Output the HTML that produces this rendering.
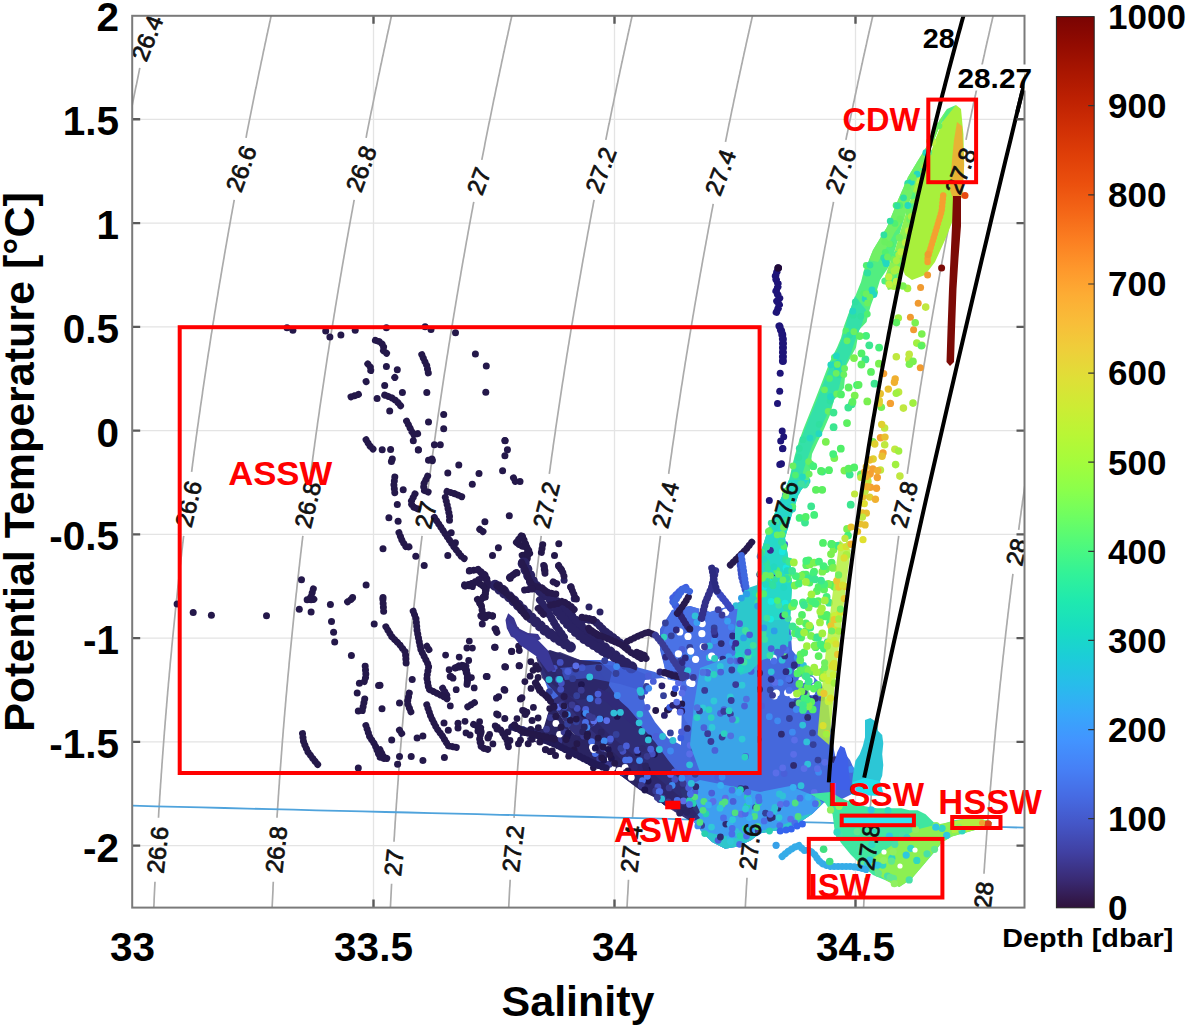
<!DOCTYPE html><html><head><meta charset="utf-8"><style>html,body{margin:0;padding:0;background:#fff;overflow:hidden}svg{display:block}text{font-family:"Liberation Sans",sans-serif}</style></head><body>
<svg width="1187" height="1026" viewBox="0 0 1187 1026">
<defs><clipPath id="pc"><rect x="132.2" y="15.8" width="892.3" height="891.8"/></clipPath>
<linearGradient id="cb" x1="0" y1="0" x2="0" y2="1"><stop offset="0.000" stop-color="#7a0403"/><stop offset="0.031" stop-color="#920b01"/><stop offset="0.062" stop-color="#a91601"/><stop offset="0.094" stop-color="#be2102"/><stop offset="0.125" stop-color="#d02f05"/><stop offset="0.156" stop-color="#df3f08"/><stop offset="0.188" stop-color="#eb500e"/><stop offset="0.219" stop-color="#f46617"/><stop offset="0.250" stop-color="#fb7e21"/><stop offset="0.281" stop-color="#fe962b"/><stop offset="0.312" stop-color="#fdac34"/><stop offset="0.344" stop-color="#f8be39"/><stop offset="0.375" stop-color="#eecf3a"/><stop offset="0.406" stop-color="#dfdf37"/><stop offset="0.438" stop-color="#cdec34"/><stop offset="0.469" stop-color="#b9f635"/><stop offset="0.500" stop-color="#a4fc3c"/><stop offset="0.531" stop-color="#8bff4b"/><stop offset="0.562" stop-color="#6dfe62"/><stop offset="0.594" stop-color="#4ef97d"/><stop offset="0.625" stop-color="#32f298"/><stop offset="0.656" stop-color="#1fe9af"/><stop offset="0.688" stop-color="#18ddc2"/><stop offset="0.719" stop-color="#1ccdd8"/><stop offset="0.750" stop-color="#28bceb"/><stop offset="0.781" stop-color="#37a8fa"/><stop offset="0.812" stop-color="#4294ff"/><stop offset="0.844" stop-color="#4680f6"/><stop offset="0.875" stop-color="#466be3"/><stop offset="0.906" stop-color="#4456c7"/><stop offset="0.938" stop-color="#4040a2"/><stop offset="0.969" stop-color="#392a73"/><stop offset="1.000" stop-color="#30123b"/></linearGradient></defs>
<rect width="1187" height="1026" fill="#fff"/>
<path d="M373.5 15.8V907.6M614.5 15.8V907.6M855.5 15.8V907.6M132.2 119.3H1024.5M132.2 223.1H1024.5M132.2 326.9H1024.5M132.2 430.6H1024.5M132.2 534.4H1024.5M132.2 638.1H1024.5M132.2 741.9H1024.5M132.2 845.6H1024.5" stroke="#e4e4e4" stroke-width="1.3" fill="none"/>
<g clip-path="url(#pc)"><path d="M139.8 67.8L139.4 69.8L139.0 71.8L138.6 73.8L138.2 75.8L137.8 77.8L137.4 79.8L137.0 81.8L136.6 83.8L136.2 85.8L135.7 87.8L135.3 89.8L134.9 91.8L134.5 93.8L134.1 95.8L133.7 97.8L133.3 99.8L132.9 101.8L132.5 103.8L132.1 105.8L131.7 107.8L131.3 109.8L130.9 111.8L130.6 113.8L130.2 115.8L129.8 117.8L129.4 119.8L129.0 121.8L128.6 123.8L128.2 125.8L127.8 127.8L127.4 129.8L127.0 131.8L126.6 133.8L126.3 135.8L125.9 137.8L125.5 139.8L125.1 141.8L124.7 143.8L124.3 145.8L124.0 147.8L123.6 149.8L123.2 151.8L122.8 153.8L122.4 155.8L122.1 157.8L121.7 159.8L121.3 161.8L120.9 163.8L120.5 165.8L120.2 167.8L119.8 169.8L119.4 171.8L119.1 173.8L118.7 175.8L118.3 177.8L117.9 179.8L117.6 181.8L117.2 183.8L116.8 185.8L116.5 187.8L116.1 189.8L115.7 191.8L115.4 193.8L115.0 195.8L114.6 197.8L114.3 199.8L113.9 201.8L113.6 203.8L113.2 205.8L112.8 207.8L112.5 209.8L112.1 211.8L111.8 213.8L111.4 215.8L111.1 217.8L110.7 219.8L110.4 221.8L110.0 223.8L109.6 225.8L109.3 227.8L108.9 229.8L108.6 231.8L108.2 233.8L107.9 235.8L107.6 237.8L107.2 239.8L106.9 241.8L106.5 243.8L106.2 245.8L105.8 247.8L105.5 249.8L105.1 251.8L104.8 253.8L104.5 255.8L104.1 257.8L103.8 259.8L103.4 261.8L103.1 263.8L102.8 265.8L102.4 267.8L102.1 269.8L101.8 271.8L101.4 273.8L101.1 275.8L100.8 277.8L100.4 279.8L100.1 281.8L99.8 283.8L99.4 285.8L99.1 287.8L98.8 289.8L98.5 291.8L98.1 293.8L97.8 295.8L97.5 297.8L97.2 299.8L96.8 301.8L96.5 303.8L96.2 305.8L95.9 307.8L95.6 309.8L95.2 311.8L94.9 313.8L94.6 315.8L94.3 317.8L94.0 319.8L93.7 321.8L93.3 323.8L93.0 325.8L92.7 327.8L92.4 329.8L92.1 331.8L91.8 333.8L91.5 335.8L91.2 337.8L90.9 339.8L90.5 341.8L90.2 343.8L89.9 345.8L89.6 347.8L89.3 349.8L89.0 351.8L88.7 353.8L88.4 355.8L88.1 357.8L87.8 359.8L87.5 361.8L87.2 363.8L86.9 365.8L86.6 367.8L86.3 369.8L86.0 371.8L85.7 373.8L85.4 375.8L85.1 377.8L84.9 379.8L84.6 381.8L84.3 383.8L84.0 385.8L83.7 387.8L83.4 389.8L83.1 391.8L82.8 393.8L82.5 395.8L82.3 397.8L82.0 399.8L81.7 401.8L81.4 403.8L81.1 405.8L80.8 407.8L80.6 409.8L80.3 411.8L80.0 413.8L79.7 415.8L79.4 417.8L79.2 419.8L78.9 421.8L78.6 423.8L78.3 425.8L78.1 427.8L77.8 429.8L77.5 431.8L77.3 433.8L77.0 435.8L76.7 437.8L76.4 439.8L76.2 441.8L75.9 443.8L75.6 445.8L75.4 447.8L75.1 449.8L74.8 451.8L74.6 453.8L74.3 455.8L74.1 457.8L73.8 459.8L73.5 461.8L73.3 463.8L73.0 465.8L72.8 467.8L72.5 469.8L72.2 471.8L72.0 473.8L71.7 475.8L71.5 477.8L71.2 479.8L71.0 481.8L70.7 483.8L70.5 485.8L70.2 487.8L70.0 489.8L69.7 491.8L69.5 493.8L69.2 495.8L69.0 497.8L68.7 499.8L68.5 501.8L68.3 503.8L68.0 505.8L67.8 507.8L67.5 509.8L67.3 511.8L67.0 513.8L66.8 515.8L66.6 517.8L66.3 519.8L66.1 521.8L65.9 523.8L65.6 525.8L65.4 527.8L65.2 529.8L64.9 531.8L64.7 533.8L64.5 535.8L64.2 537.8L64.0 539.8L63.8 541.8L63.5 543.8L63.3 545.8L63.1 547.8L62.9 549.8L62.6 551.8L62.4 553.8L62.2 555.8L62.0 557.8L61.8 559.8L61.5 561.8L61.3 563.8L61.1 565.8L60.9 567.8L60.7 569.8L60.4 571.8L60.2 573.8L60.0 575.8L59.8 577.8L59.6 579.8L59.4 581.8L59.2 583.8L58.9 585.8L58.7 587.8L58.5 589.8L58.3 591.8L58.1 593.8L57.9 595.8L57.7 597.8L57.5 599.8L57.3 601.8L57.1 603.8L56.9 605.8L56.7 607.8L56.5 609.8L56.3 611.8L56.1 613.8L55.9 615.8L55.7 617.8L55.5 619.8L55.3 621.8L55.1 623.8L54.9 625.8L54.7 627.8L54.5 629.8L54.3 631.8L54.1 633.8L53.9 635.8L53.7 637.8L53.6 639.8L53.4 641.8L53.2 643.8L53.0 645.8L52.8 647.8L52.6 649.8L52.4 651.8L52.2 653.8L52.1 655.8L51.9 657.8L51.7 659.8L51.5 661.8L51.3 663.8L51.2 665.8L51.0 667.8L50.8 669.8L50.6 671.8L50.5 673.8L50.3 675.8L50.1 677.8L49.9 679.8L49.8 681.8L49.6 683.8L49.4 685.8L49.2 687.8L49.1 689.8L48.9 691.8L48.7 693.8L48.6 695.8L48.4 697.8L48.2 699.8L48.1 701.8L47.9 703.8L47.7 705.8L47.6 707.8L47.4 709.8L47.3 711.8L47.1 713.8L46.9 715.8L46.8 717.8L46.6 719.8L46.5 721.8L46.3 723.8L46.2 725.8L46.0 727.8L45.9 729.8L45.7 731.8L45.6 733.8L45.4 735.8L45.3 737.8L45.1 739.8L45.0 741.8L44.8 743.8L44.7 745.8L44.5 747.8L44.4 749.8L44.2 751.8L44.1 753.8L43.9 755.8L43.8 757.8L43.7 759.8L43.5 761.8L43.4 763.8L43.2 765.8L43.1 767.8L43.0 769.8L42.8 771.8L42.7 773.8L42.6 775.8L42.4 777.8L42.3 779.8L42.2 781.8L42.0 783.8L41.9 785.8L41.8 787.8L41.6 789.8L41.5 791.8L41.4 793.8L41.3 795.8L41.1 797.8L41.0 799.8L40.9 801.8L40.8 803.8L40.6 805.8L40.5 807.8L40.4 809.8L40.3 811.8L40.2 813.8L40.0 815.8L39.9 817.8L39.8 819.8L39.7 821.8L39.6 823.8L39.5 825.8L39.3 827.8L39.2 829.8L39.1 831.8L39.0 833.8L38.9 835.8L38.8 837.8L38.7 839.8L38.6 841.8L38.5 843.8L38.4 845.8L38.3 847.8L38.1 849.8L38.0 851.8L37.9 853.8L37.8 855.8L37.7 857.8L37.6 859.8L37.5 861.8L37.4 863.8L37.3 865.8L37.2 867.8L37.2 869.8L37.1 871.8L37.0 873.8L36.9 875.8L36.8 877.8L36.7 879.8L36.6 881.8L36.5 883.8L36.4 885.8L36.3 887.8L36.2 889.8L36.1 891.8L36.1 893.8L36.0 895.8L35.9 897.8L35.8 899.8L35.7 901.8L35.6 903.8L35.6 905.8L35.5 907.8M271.6 13.8L271.2 15.8L270.7 17.8L270.3 19.8L269.9 21.8L269.4 23.8L269.0 25.8L268.6 27.8L268.1 29.8L267.7 31.8L267.3 33.8L266.8 35.8L266.4 37.8L266.0 39.8L265.6 41.8L265.1 43.8L264.7 45.8L264.3 47.8L263.9 49.8L263.4 51.8L263.0 53.8L262.6 55.8L262.2 57.8L261.8 59.8L261.3 61.8L260.9 63.8L260.5 65.8L260.1 67.8L259.7 69.8L259.2 71.8L258.8 73.8L258.4 75.8L258.0 77.8L257.6 79.8L257.2 81.8L256.8 83.8L256.4 85.8L256.0 87.8L255.5 89.8L255.1 91.8L254.7 93.8L254.3 95.8L253.9 97.8L253.5 99.8L253.1 101.8L252.7 103.8L252.3 105.8L251.9 107.8L251.5 109.8L251.1 111.8L250.7 113.8L250.3 115.8L249.9 117.8L249.5 119.8L249.1 121.8L248.7 123.8L248.3 125.8L247.9 127.8L247.5 129.8L247.1 131.8L246.7 133.8L246.4 135.8L246.0 137.8M234.2 199.8L233.9 201.8L233.5 203.8L233.2 205.8L232.8 207.8L232.4 209.8L232.1 211.8L231.7 213.8L231.3 215.8L231.0 217.8L230.6 219.8L230.3 221.8L229.9 223.8L229.6 225.8L229.2 227.8L228.8 229.8L228.5 231.8L228.1 233.8L227.8 235.8L227.4 237.8L227.1 239.8L226.7 241.8L226.4 243.8L226.0 245.8L225.7 247.8L225.3 249.8L225.0 251.8L224.6 253.8L224.3 255.8L224.0 257.8L223.6 259.8L223.3 261.8L222.9 263.8L222.6 265.8L222.2 267.8L221.9 269.8L221.6 271.8L221.2 273.8L220.9 275.8L220.6 277.8L220.2 279.8L219.9 281.8L219.5 283.8L219.2 285.8L218.9 287.8L218.5 289.8L218.2 291.8L217.9 293.8L217.6 295.8L217.2 297.8L216.9 299.8L216.6 301.8L216.2 303.8L215.9 305.8L215.6 307.8L215.3 309.8L214.9 311.8L214.6 313.8L214.3 315.8L214.0 317.8L213.7 319.8L213.3 321.8L213.0 323.8L212.7 325.8L212.4 327.8L212.1 329.8L211.8 331.8L211.4 333.8L211.1 335.8L210.8 337.8L210.5 339.8L210.2 341.8L209.9 343.8L209.6 345.8L209.3 347.8L209.0 349.8L208.6 351.8L208.3 353.8L208.0 355.8L207.7 357.8L207.4 359.8L207.1 361.8L206.8 363.8L206.5 365.8L206.2 367.8L205.9 369.8L205.6 371.8L205.3 373.8L205.0 375.8L204.7 377.8L204.4 379.8L204.1 381.8L203.8 383.8L203.5 385.8L203.2 387.8L202.9 389.8L202.6 391.8L202.4 393.8L202.1 395.8L201.8 397.8L201.5 399.8L201.2 401.8L200.9 403.8L200.6 405.8L200.3 407.8L200.1 409.8L199.8 411.8L199.5 413.8L199.2 415.8L198.9 417.8L198.6 419.8L198.4 421.8L198.1 423.8L197.8 425.8L197.5 427.8L197.2 429.8L197.0 431.8L196.7 433.8L196.4 435.8L196.1 437.8L195.9 439.8L195.6 441.8L195.3 443.8L195.1 445.8L194.8 447.8L194.5 449.8L194.2 451.8L194.0 453.8L193.7 455.8L193.4 457.8L193.2 459.8L192.9 461.8L192.6 463.8L192.4 465.8L192.1 467.8L191.9 469.8L191.6 471.8M183.7 535.8L183.4 537.8L183.2 539.8L183.0 541.8L182.7 543.8L182.5 545.8L182.3 547.8L182.0 549.8L181.8 551.8L181.6 553.8L181.4 555.8L181.1 557.8L180.9 559.8L180.7 561.8L180.5 563.8L180.2 565.8L180.0 567.8L179.8 569.8L179.6 571.8L179.3 573.8L179.1 575.8L178.9 577.8L178.7 579.8L178.5 581.8L178.3 583.8L178.0 585.8L177.8 587.8L177.6 589.8L177.4 591.8L177.2 593.8L177.0 595.8L176.8 597.8L176.5 599.8L176.3 601.8L176.1 603.8L175.9 605.8L175.7 607.8L175.5 609.8L175.3 611.8L175.1 613.8L174.9 615.8L174.7 617.8L174.5 619.8L174.3 621.8L174.1 623.8L173.9 625.8L173.7 627.8L173.5 629.8L173.3 631.8L173.1 633.8L172.9 635.8L172.7 637.8L172.5 639.8L172.3 641.8L172.1 643.8L171.9 645.8L171.7 647.8L171.6 649.8L171.4 651.8L171.2 653.8L171.0 655.8L170.8 657.8L170.6 659.8L170.4 661.8L170.2 663.8L170.1 665.8L169.9 667.8L169.7 669.8L169.5 671.8L169.3 673.8L169.2 675.8L169.0 677.8L168.8 679.8L168.6 681.8L168.4 683.8L168.3 685.8L168.1 687.8L167.9 689.8L167.7 691.8L167.6 693.8L167.4 695.8L167.2 697.8L167.1 699.8L166.9 701.8L166.7 703.8L166.6 705.8L166.4 707.8L166.2 709.8L166.1 711.8L165.9 713.8L165.7 715.8L165.6 717.8L165.4 719.8L165.2 721.8L165.1 723.8L164.9 725.8L164.8 727.8L164.6 729.8L164.4 731.8L164.3 733.8L164.1 735.8L164.0 737.8L163.8 739.8L163.7 741.8L163.5 743.8L163.4 745.8L163.2 747.8L163.1 749.8L162.9 751.8L162.8 753.8L162.6 755.8L162.5 757.8L162.3 759.8L162.2 761.8L162.0 763.8L161.9 765.8L161.8 767.8L161.6 769.8L161.5 771.8L161.3 773.8L161.2 775.8L161.1 777.8L160.9 779.8L160.8 781.8L160.6 783.8L160.5 785.8L160.4 787.8L160.2 789.8L160.1 791.8L160.0 793.8L159.8 795.8L159.7 797.8L159.6 799.8L159.5 801.8L159.3 803.8L159.2 805.8L159.1 807.8L158.9 809.8L158.8 811.8L158.7 813.8L158.6 815.8L158.5 817.8M155.0 881.8L154.9 883.8L154.8 885.8L154.7 887.8L154.6 889.8L154.5 891.8L154.4 893.8L154.3 895.8L154.2 897.8L154.1 899.8L154.1 901.8L154.0 903.8L153.9 905.8L153.8 907.8M392.0 13.8L391.5 15.8L391.1 17.8L390.6 19.8L390.2 21.8L389.8 23.8L389.3 25.8L388.9 27.8L388.5 29.8L388.0 31.8L387.6 33.8L387.1 35.8L386.7 37.8L386.3 39.8L385.9 41.8L385.4 43.8L385.0 45.8L384.6 47.8L384.1 49.8L383.7 51.8L383.3 53.8L382.9 55.8L382.4 57.8L382.0 59.8L381.6 61.8L381.2 63.8L380.7 65.8L380.3 67.8L379.9 69.8L379.5 71.8L379.1 73.8L378.6 75.8L378.2 77.8L377.8 79.8L377.4 81.8L377.0 83.8L376.6 85.8L376.2 87.8L375.7 89.8L375.3 91.8L374.9 93.8L374.5 95.8L374.1 97.8L373.7 99.8L373.3 101.8L372.9 103.8L372.5 105.8L372.1 107.8L371.7 109.8L371.2 111.8L370.8 113.8L370.4 115.8L370.0 117.8L369.6 119.8L369.2 121.8L368.8 123.8L368.4 125.8L368.0 127.8L367.6 129.8L367.2 131.8L366.8 133.8L366.5 135.8L366.1 137.8M354.2 199.8L353.8 201.8L353.5 203.8L353.1 205.8L352.7 207.8L352.4 209.8L352.0 211.8L351.6 213.8L351.3 215.8L350.9 217.8L350.5 219.8L350.2 221.8L349.8 223.8L349.5 225.8L349.1 227.8L348.7 229.8L348.4 231.8L348.0 233.8L347.7 235.8L347.3 237.8L346.9 239.8L346.6 241.8L346.2 243.8L345.9 245.8L345.5 247.8L345.2 249.8L344.8 251.8L344.5 253.8L344.1 255.8L343.8 257.8L343.4 259.8L343.1 261.8L342.7 263.8L342.4 265.8L342.0 267.8L341.7 269.8L341.4 271.8L341.0 273.8L340.7 275.8L340.3 277.8L340.0 279.8L339.7 281.8L339.3 283.8L339.0 285.8L338.6 287.8L338.3 289.8L338.0 291.8L337.6 293.8L337.3 295.8L337.0 297.8L336.6 299.8L336.3 301.8L336.0 303.8L335.6 305.8L335.3 307.8L335.0 309.8L334.7 311.8L334.3 313.8L334.0 315.8L333.7 317.8L333.4 319.8L333.0 321.8L332.7 323.8L332.4 325.8L332.1 327.8L331.7 329.8L331.4 331.8L331.1 333.8L330.8 335.8L330.5 337.8L330.1 339.8L329.8 341.8L329.5 343.8L329.2 345.8L328.9 347.8L328.6 349.8L328.3 351.8L327.9 353.8L327.6 355.8L327.3 357.8L327.0 359.8L326.7 361.8L326.4 363.8L326.1 365.8L325.8 367.8L325.5 369.8L325.2 371.8L324.9 373.8L324.6 375.8L324.3 377.8L324.0 379.8L323.7 381.8L323.4 383.8L323.1 385.8L322.8 387.8L322.5 389.8L322.2 391.8L321.9 393.8L321.6 395.8L321.3 397.8L321.0 399.8L320.7 401.8L320.4 403.8L320.1 405.8L319.8 407.8L319.5 409.8L319.3 411.8L319.0 413.8L318.7 415.8L318.4 417.8L318.1 419.8L317.8 421.8L317.5 423.8L317.3 425.8L317.0 427.8L316.7 429.8L316.4 431.8L316.1 433.8L315.8 435.8L315.6 437.8L315.3 439.8L315.0 441.8L314.7 443.8L314.5 445.8L314.2 447.8L313.9 449.8L313.6 451.8L313.4 453.8L313.1 455.8L312.8 457.8L312.6 459.8L312.3 461.8L312.0 463.8L311.7 465.8L311.5 467.8L311.2 469.8L310.9 471.8L310.7 473.8M302.9 535.8L302.6 537.8L302.4 539.8L302.1 541.8L301.9 543.8L301.7 545.8L301.4 547.8L301.2 549.8L301.0 551.8L300.7 553.8L300.5 555.8L300.3 557.8L300.0 559.8L299.8 561.8L299.6 563.8L299.4 565.8L299.1 567.8L298.9 569.8L298.7 571.8L298.5 573.8L298.2 575.8L298.0 577.8L297.8 579.8L297.6 581.8L297.3 583.8L297.1 585.8L296.9 587.8L296.7 589.8L296.5 591.8L296.2 593.8L296.0 595.8L295.8 597.8L295.6 599.8L295.4 601.8L295.2 603.8L295.0 605.8L294.7 607.8L294.5 609.8L294.3 611.8L294.1 613.8L293.9 615.8L293.7 617.8L293.5 619.8L293.3 621.8L293.1 623.8L292.9 625.8L292.7 627.8L292.5 629.8L292.3 631.8L292.1 633.8L291.9 635.8L291.7 637.8L291.5 639.8L291.3 641.8L291.1 643.8L290.9 645.8L290.7 647.8L290.5 649.8L290.3 651.8L290.1 653.8L289.9 655.8L289.7 657.8L289.5 659.8L289.3 661.8L289.1 663.8L289.0 665.8L288.8 667.8L288.6 669.8L288.4 671.8L288.2 673.8L288.0 675.8L287.8 677.8L287.7 679.8L287.5 681.8L287.3 683.8L287.1 685.8L286.9 687.8L286.8 689.8L286.6 691.8L286.4 693.8L286.2 695.8L286.0 697.8L285.9 699.8L285.7 701.8L285.5 703.8L285.4 705.8L285.2 707.8L285.0 709.8L284.8 711.8L284.7 713.8L284.5 715.8L284.3 717.8L284.2 719.8L284.0 721.8L283.8 723.8L283.7 725.8L283.5 727.8L283.3 729.8L283.2 731.8L283.0 733.8L282.9 735.8L282.7 737.8L282.5 739.8L282.4 741.8L282.2 743.8L282.1 745.8L281.9 747.8L281.8 749.8L281.6 751.8L281.5 753.8L281.3 755.8L281.2 757.8L281.0 759.8L280.9 761.8L280.7 763.8L280.6 765.8L280.4 767.8L280.3 769.8L280.1 771.8L280.0 773.8L279.8 775.8L279.7 777.8L279.5 779.8L279.4 781.8L279.3 783.8L279.1 785.8L279.0 787.8L278.8 789.8L278.7 791.8L278.6 793.8L278.4 795.8L278.3 797.8L278.2 799.8L278.0 801.8L277.9 803.8L277.8 805.8L277.6 807.8L277.5 809.8L277.4 811.8L277.2 813.8L277.1 815.8L277.0 817.8M273.3 881.8L273.2 883.8L273.1 885.8L273.0 887.8L273.0 889.8L272.9 891.8L272.8 893.8L272.7 895.8L272.6 897.8L272.5 899.8L272.4 901.8L272.3 903.8L272.2 905.8L272.1 907.8M512.3 13.8L511.9 15.8L511.4 17.8L511.0 19.8L510.5 21.8L510.1 23.8L509.6 25.8L509.2 27.8L508.8 29.8L508.3 31.8L507.9 33.8L507.5 35.8L507.0 37.8L506.6 39.8L506.1 41.8L505.7 43.8L505.3 45.8L504.8 47.8L504.4 49.8L504.0 51.8L503.5 53.8L503.1 55.8L502.7 57.8L502.3 59.8L501.8 61.8L501.4 63.8L501.0 65.8L500.6 67.8L500.1 69.8L499.7 71.8L499.3 73.8L498.9 75.8L498.4 77.8L498.0 79.8L497.6 81.8L497.2 83.8L496.8 85.8L496.3 87.8L495.9 89.8L495.5 91.8L495.1 93.8L494.7 95.8L494.3 97.8L493.8 99.8L493.4 101.8L493.0 103.8L492.6 105.8L492.2 107.8L491.8 109.8L491.4 111.8L491.0 113.8L490.6 115.8L490.2 117.8L489.8 119.8L489.4 121.8L488.9 123.8L488.5 125.8L488.1 127.8L487.7 129.8L487.3 131.8L486.9 133.8L486.5 135.8L486.1 137.8L485.7 139.8L485.3 141.8L484.9 143.8L484.6 145.8L484.2 147.8L483.8 149.8L483.4 151.8L483.0 153.8L482.6 155.8L482.2 157.8L481.8 159.8M473.8 201.8L473.4 203.8L473.0 205.8L472.7 207.8L472.3 209.8L471.9 211.8L471.5 213.8L471.2 215.8L470.8 217.8L470.4 219.8L470.1 221.8L469.7 223.8L469.3 225.8L469.0 227.8L468.6 229.8L468.2 231.8L467.9 233.8L467.5 235.8L467.2 237.8L466.8 239.8L466.4 241.8L466.1 243.8L465.7 245.8L465.4 247.8L465.0 249.8L464.7 251.8L464.3 253.8L464.0 255.8L463.6 257.8L463.2 259.8L462.9 261.8L462.5 263.8L462.2 265.8L461.8 267.8L461.5 269.8L461.1 271.8L460.8 273.8L460.5 275.8L460.1 277.8L459.8 279.8L459.4 281.8L459.1 283.8L458.7 285.8L458.4 287.8L458.1 289.8L457.7 291.8L457.4 293.8L457.0 295.8L456.7 297.8L456.4 299.8L456.0 301.8L455.7 303.8L455.4 305.8L455.0 307.8L454.7 309.8L454.4 311.8L454.0 313.8L453.7 315.8L453.4 317.8L453.0 319.8L452.7 321.8L452.4 323.8L452.0 325.8L451.7 327.8L451.4 329.8L451.1 331.8L450.7 333.8L450.4 335.8L450.1 337.8L449.8 339.8L449.5 341.8L449.1 343.8L448.8 345.8L448.5 347.8L448.2 349.8L447.9 351.8L447.6 353.8L447.2 355.8L446.9 357.8L446.6 359.8L446.3 361.8L446.0 363.8L445.7 365.8L445.4 367.8L445.1 369.8L444.7 371.8L444.4 373.8L444.1 375.8L443.8 377.8L443.5 379.8L443.2 381.8L442.9 383.8L442.6 385.8L442.3 387.8L442.0 389.8L441.7 391.8L441.4 393.8L441.1 395.8L440.8 397.8L440.5 399.8L440.2 401.8L439.9 403.8L439.6 405.8L439.3 407.8L439.0 409.8L438.7 411.8L438.4 413.8L438.1 415.8L437.8 417.8L437.6 419.8L437.3 421.8L437.0 423.8L436.7 425.8L436.4 427.8L436.1 429.8L435.8 431.8L435.5 433.8L435.3 435.8L435.0 437.8L434.7 439.8L434.4 441.8L434.1 443.8L433.9 445.8L433.6 447.8L433.3 449.8L433.0 451.8L432.7 453.8L432.5 455.8L432.2 457.8L431.9 459.8L431.6 461.8L431.4 463.8L431.1 465.8L430.8 467.8L430.6 469.8L430.3 471.8L430.0 473.8L429.7 475.8L429.5 477.8L429.2 479.8L428.9 481.8L428.7 483.8L428.4 485.8L428.1 487.8L427.9 489.8L427.6 491.8L427.4 493.8M422.1 535.8L421.8 537.8L421.6 539.8L421.3 541.8L421.1 543.8L420.8 545.8L420.6 547.8L420.4 549.8L420.1 551.8L419.9 553.8L419.6 555.8L419.4 557.8L419.2 559.8L418.9 561.8L418.7 563.8L418.5 565.8L418.2 567.8L418.0 569.8L417.8 571.8L417.6 573.8L417.3 575.8L417.1 577.8L416.9 579.8L416.6 581.8L416.4 583.8L416.2 585.8L416.0 587.8L415.7 589.8L415.5 591.8L415.3 593.8L415.1 595.8L414.9 597.8L414.6 599.8L414.4 601.8L414.2 603.8L414.0 605.8L413.8 607.8L413.6 609.8L413.3 611.8L413.1 613.8L412.9 615.8L412.7 617.8L412.5 619.8L412.3 621.8L412.1 623.8L411.9 625.8L411.6 627.8L411.4 629.8L411.2 631.8L411.0 633.8L410.8 635.8L410.6 637.8L410.4 639.8L410.2 641.8L410.0 643.8L409.8 645.8L409.6 647.8L409.4 649.8L409.2 651.8L409.0 653.8L408.8 655.8L408.6 657.8L408.4 659.8L408.2 661.8L408.0 663.8L407.8 665.8L407.6 667.8L407.5 669.8L407.3 671.8L407.1 673.8L406.9 675.8L406.7 677.8L406.5 679.8L406.3 681.8L406.1 683.8L406.0 685.8L405.8 687.8L405.6 689.8L405.4 691.8L405.2 693.8L405.0 695.8L404.9 697.8L404.7 699.8L404.5 701.8L404.3 703.8L404.1 705.8L404.0 707.8L403.8 709.8L403.6 711.8L403.4 713.8L403.3 715.8L403.1 717.8L402.9 719.8L402.8 721.8L402.6 723.8L402.4 725.8L402.2 727.8L402.1 729.8L401.9 731.8L401.7 733.8L401.6 735.8L401.4 737.8L401.3 739.8L401.1 741.8L400.9 743.8L400.8 745.8L400.6 747.8L400.4 749.8L400.3 751.8L400.1 753.8L400.0 755.8L399.8 757.8L399.7 759.8L399.5 761.8L399.4 763.8L399.2 765.8L399.0 767.8L398.9 769.8L398.7 771.8L398.6 773.8L398.4 775.8L398.3 777.8L398.2 779.8L398.0 781.8L397.9 783.8L397.7 785.8L397.6 787.8L397.4 789.8L397.3 791.8L397.1 793.8L397.0 795.8L396.9 797.8L396.7 799.8L396.6 801.8L396.4 803.8L396.3 805.8L396.2 807.8L396.0 809.8L395.9 811.8L395.8 813.8L395.6 815.8L395.5 817.8L395.4 819.8L395.2 821.8L395.1 823.8L395.0 825.8L394.9 827.8L394.7 829.8L394.6 831.8L394.5 833.8L394.4 835.8L394.2 837.8L394.1 839.8L394.0 841.8M391.6 883.8L391.5 885.8L391.4 887.8L391.3 889.8L391.2 891.8L391.1 893.8L391.0 895.8L390.9 897.8L390.8 899.8L390.7 901.8L390.6 903.8L390.5 905.8L390.4 907.8M632.6 13.8L632.2 15.8L631.7 17.8L631.3 19.8L630.8 21.8L630.4 23.8L630.0 25.8L629.5 27.8L629.1 29.8L628.6 31.8L628.2 33.8L627.7 35.8L627.3 37.8L626.9 39.8L626.4 41.8L626.0 43.8L625.5 45.8L625.1 47.8L624.7 49.8L624.2 51.8L623.8 53.8L623.4 55.8L622.9 57.8L622.5 59.8L622.1 61.8L621.6 63.8L621.2 65.8L620.8 67.8L620.3 69.8L619.9 71.8L619.5 73.8L619.1 75.8L618.6 77.8L618.2 79.8L617.8 81.8L617.4 83.8L616.9 85.8L616.5 87.8L616.1 89.8L615.7 91.8L615.3 93.8L614.8 95.8L614.4 97.8L614.0 99.8L613.6 101.8L613.2 103.8L612.8 105.8L612.3 107.8L611.9 109.8L611.5 111.8L611.1 113.8L610.7 115.8L610.3 117.8L609.9 119.8L609.5 121.8L609.1 123.8L608.6 125.8L608.2 127.8L607.8 129.8L607.4 131.8L607.0 133.8L606.6 135.8L606.2 137.8L605.8 139.8M594.1 199.8L593.7 201.8L593.3 203.8L593.0 205.8L592.6 207.8L592.2 209.8L591.8 211.8L591.4 213.8L591.1 215.8L590.7 217.8L590.3 219.8L590.0 221.8L589.6 223.8L589.2 225.8L588.9 227.8L588.5 229.8L588.1 231.8L587.7 233.8L587.4 235.8L587.0 237.8L586.7 239.8L586.3 241.8L585.9 243.8L585.6 245.8L585.2 247.8L584.8 249.8L584.5 251.8L584.1 253.8L583.8 255.8L583.4 257.8L583.0 259.8L582.7 261.8L582.3 263.8L582.0 265.8L581.6 267.8L581.3 269.8L580.9 271.8L580.6 273.8L580.2 275.8L579.9 277.8L579.5 279.8L579.2 281.8L578.8 283.8L578.5 285.8L578.1 287.8L577.8 289.8L577.4 291.8L577.1 293.8L576.8 295.8L576.4 297.8L576.1 299.8L575.7 301.8L575.4 303.8L575.1 305.8L574.7 307.8L574.4 309.8L574.0 311.8L573.7 313.8L573.4 315.8L573.0 317.8L572.7 319.8L572.4 321.8L572.0 323.8L571.7 325.8L571.4 327.8L571.0 329.8L570.7 331.8L570.4 333.8L570.1 335.8L569.7 337.8L569.4 339.8L569.1 341.8L568.8 343.8L568.4 345.8L568.1 347.8L567.8 349.8L567.5 351.8L567.1 353.8L566.8 355.8L566.5 357.8L566.2 359.8L565.9 361.8L565.6 363.8L565.2 365.8L564.9 367.8L564.6 369.8L564.3 371.8L564.0 373.8L563.7 375.8L563.4 377.8L563.1 379.8L562.7 381.8L562.4 383.8L562.1 385.8L561.8 387.8L561.5 389.8L561.2 391.8L560.9 393.8L560.6 395.8L560.3 397.8L560.0 399.8L559.7 401.8L559.4 403.8L559.1 405.8L558.8 407.8L558.5 409.8L558.2 411.8L557.9 413.8L557.6 415.8L557.3 417.8L557.0 419.8L556.7 421.8L556.4 423.8L556.1 425.8L555.8 427.8L555.5 429.8L555.3 431.8L555.0 433.8L554.7 435.8L554.4 437.8L554.1 439.8L553.8 441.8L553.5 443.8L553.2 445.8L553.0 447.8L552.7 449.8L552.4 451.8L552.1 453.8L551.8 455.8L551.5 457.8L551.3 459.8L551.0 461.8L550.7 463.8L550.4 465.8L550.2 467.8L549.9 469.8L549.6 471.8L549.3 473.8M541.2 535.8L541.0 537.8L540.7 539.8L540.5 541.8L540.2 543.8L540.0 545.8L539.8 547.8L539.5 549.8L539.3 551.8L539.0 553.8L538.8 555.8L538.5 557.8L538.3 559.8L538.1 561.8L537.8 563.8L537.6 565.8L537.4 567.8L537.1 569.8L536.9 571.8L536.6 573.8L536.4 575.8L536.2 577.8L535.9 579.8L535.7 581.8L535.5 583.8L535.3 585.8L535.0 587.8L534.8 589.8L534.6 591.8L534.3 593.8L534.1 595.8L533.9 597.8L533.7 599.8L533.4 601.8L533.2 603.8L533.0 605.8L532.8 607.8L532.6 609.8L532.3 611.8L532.1 613.8L531.9 615.8L531.7 617.8L531.5 619.8L531.3 621.8L531.0 623.8L530.8 625.8L530.6 627.8L530.4 629.8L530.2 631.8L530.0 633.8L529.8 635.8L529.6 637.8L529.4 639.8L529.1 641.8L528.9 643.8L528.7 645.8L528.5 647.8L528.3 649.8L528.1 651.8L527.9 653.8L527.7 655.8L527.5 657.8L527.3 659.8L527.1 661.8L526.9 663.8L526.7 665.8L526.5 667.8L526.3 669.8L526.1 671.8L525.9 673.8L525.7 675.8L525.5 677.8L525.4 679.8L525.2 681.8L525.0 683.8L524.8 685.8L524.6 687.8L524.4 689.8L524.2 691.8L524.0 693.8L523.8 695.8L523.7 697.8L523.5 699.8L523.3 701.8L523.1 703.8L522.9 705.8L522.7 707.8L522.6 709.8L522.4 711.8L522.2 713.8L522.0 715.8L521.9 717.8L521.7 719.8L521.5 721.8L521.3 723.8L521.2 725.8L521.0 727.8L520.8 729.8L520.6 731.8L520.5 733.8L520.3 735.8L520.1 737.8L520.0 739.8L519.8 741.8L519.6 743.8L519.5 745.8L519.3 747.8L519.1 749.8L519.0 751.8L518.8 753.8L518.6 755.8L518.5 757.8L518.3 759.8L518.2 761.8L518.0 763.8L517.8 765.8L517.7 767.8L517.5 769.8L517.4 771.8L517.2 773.8L517.1 775.8L516.9 777.8L516.8 779.8L516.6 781.8L516.5 783.8L516.3 785.8L516.2 787.8L516.0 789.8L515.9 791.8L515.7 793.8L515.6 795.8L515.4 797.8L515.3 799.8L515.1 801.8L515.0 803.8L514.9 805.8L514.7 807.8L514.6 809.8L514.4 811.8L514.3 813.8L514.2 815.8L514.0 817.8M510.2 879.8L510.1 881.8L510.0 883.8L509.9 885.8L509.7 887.8L509.6 889.8L509.5 891.8L509.4 893.8L509.3 895.8L509.2 897.8L509.1 899.8L509.0 901.8L508.9 903.8L508.8 905.8L508.7 907.8M753.0 13.8L752.5 15.8L752.1 17.8L751.6 19.8L751.2 21.8L750.7 23.8L750.3 25.8L749.8 27.8L749.4 29.8L748.9 31.8L748.5 33.8L748.0 35.8L747.6 37.8L747.1 39.8L746.7 41.8L746.2 43.8L745.8 45.8L745.4 47.8L744.9 49.8L744.5 51.8L744.0 53.8L743.6 55.8L743.2 57.8L742.7 59.8L742.3 61.8L741.9 63.8L741.4 65.8L741.0 67.8L740.6 69.8L740.1 71.8L739.7 73.8L739.3 75.8L738.8 77.8L738.4 79.8L738.0 81.8L737.5 83.8L737.1 85.8L736.7 87.8L736.3 89.8L735.8 91.8L735.4 93.8L735.0 95.8L734.6 97.8L734.1 99.8L733.7 101.8L733.3 103.8L732.9 105.8L732.5 107.8L732.0 109.8L731.6 111.8L731.2 113.8L730.8 115.8L730.4 117.8L730.0 119.8L729.6 121.8L729.1 123.8L728.7 125.8L728.3 127.8L727.9 129.8L727.5 131.8L727.1 133.8L726.7 135.8L726.3 137.8L725.9 139.8L725.5 141.8M713.2 203.8L712.9 205.8L712.5 207.8L712.1 209.8L711.7 211.8L711.3 213.8L711.0 215.8L710.6 217.8L710.2 219.8L709.8 221.8L709.5 223.8L709.1 225.8L708.7 227.8L708.3 229.8L708.0 231.8L707.6 233.8L707.2 235.8L706.9 237.8L706.5 239.8L706.1 241.8L705.8 243.8L705.4 245.8L705.0 247.8L704.7 249.8L704.3 251.8L703.9 253.8L703.6 255.8L703.2 257.8L702.8 259.8L702.5 261.8L702.1 263.8L701.8 265.8L701.4 267.8L701.1 269.8L700.7 271.8L700.3 273.8L700.0 275.8L699.6 277.8L699.3 279.8L698.9 281.8L698.6 283.8L698.2 285.8L697.9 287.8L697.5 289.8L697.2 291.8L696.8 293.8L696.5 295.8L696.1 297.8L695.8 299.8L695.4 301.8L695.1 303.8L694.7 305.8L694.4 307.8L694.1 309.8L693.7 311.8L693.4 313.8L693.0 315.8L692.7 317.8L692.4 319.8L692.0 321.8L691.7 323.8L691.4 325.8L691.0 327.8L690.7 329.8L690.4 331.8L690.0 333.8L689.7 335.8L689.4 337.8L689.0 339.8L688.7 341.8L688.4 343.8L688.0 345.8L687.7 347.8L687.4 349.8L687.1 351.8L686.7 353.8L686.4 355.8L686.1 357.8L685.8 359.8L685.4 361.8L685.1 363.8L684.8 365.8L684.5 367.8L684.2 369.8L683.8 371.8L683.5 373.8L683.2 375.8L682.9 377.8L682.6 379.8L682.3 381.8L682.0 383.8L681.6 385.8L681.3 387.8L681.0 389.8L680.7 391.8L680.4 393.8L680.1 395.8L679.8 397.8L679.5 399.8L679.2 401.8L678.9 403.8L678.6 405.8L678.3 407.8L677.9 409.8L677.6 411.8L677.3 413.8L677.0 415.8L676.7 417.8L676.4 419.8L676.1 421.8L675.8 423.8L675.5 425.8L675.3 427.8L675.0 429.8L674.7 431.8L674.4 433.8L674.1 435.8L673.8 437.8L673.5 439.8L673.2 441.8L672.9 443.8L672.6 445.8L672.3 447.8L672.0 449.8L671.8 451.8L671.5 453.8L671.2 455.8L670.9 457.8L670.6 459.8L670.3 461.8L670.1 463.8L669.8 465.8L669.5 467.8L669.2 469.8L668.9 471.8L668.7 473.8M660.4 535.8L660.2 537.8L659.9 539.8L659.7 541.8L659.4 543.8L659.2 545.8L658.9 547.8L658.7 549.8L658.4 551.8L658.2 553.8L657.9 555.8L657.7 557.8L657.4 559.8L657.2 561.8L656.9 563.8L656.7 565.8L656.5 567.8L656.2 569.8L656.0 571.8L655.7 573.8L655.5 575.8L655.3 577.8L655.0 579.8L654.8 581.8L654.5 583.8L654.3 585.8L654.1 587.8L653.8 589.8L653.6 591.8L653.4 593.8L653.2 595.8L652.9 597.8L652.7 599.8L652.5 601.8L652.2 603.8L652.0 605.8L651.8 607.8L651.6 609.8L651.3 611.8L651.1 613.8L650.9 615.8L650.7 617.8L650.5 619.8L650.2 621.8L650.0 623.8L649.8 625.8L649.6 627.8L649.4 629.8L649.1 631.8L648.9 633.8L648.7 635.8L648.5 637.8L648.3 639.8L648.1 641.8L647.9 643.8L647.7 645.8L647.4 647.8L647.2 649.8L647.0 651.8L646.8 653.8L646.6 655.8L646.4 657.8L646.2 659.8L646.0 661.8L645.8 663.8L645.6 665.8L645.4 667.8L645.2 669.8L645.0 671.8L644.8 673.8L644.6 675.8L644.4 677.8L644.2 679.8L644.0 681.8L643.8 683.8L643.6 685.8L643.4 687.8L643.2 689.8L643.0 691.8L642.8 693.8L642.6 695.8L642.5 697.8L642.3 699.8L642.1 701.8L641.9 703.8L641.7 705.8L641.5 707.8L641.3 709.8L641.1 711.8L641.0 713.8L640.8 715.8L640.6 717.8L640.4 719.8L640.2 721.8L640.1 723.8L639.9 725.8L639.7 727.8L639.5 729.8L639.3 731.8L639.2 733.8L639.0 735.8L638.8 737.8L638.7 739.8L638.5 741.8L638.3 743.8L638.1 745.8L638.0 747.8L637.8 749.8L637.6 751.8L637.5 753.8L637.3 755.8L637.1 757.8L637.0 759.8L636.8 761.8L636.6 763.8L636.5 765.8L636.3 767.8L636.2 769.8L636.0 771.8L635.8 773.8L635.7 775.8L635.5 777.8L635.4 779.8L635.2 781.8L635.0 783.8L634.9 785.8L634.7 787.8L634.6 789.8L634.4 791.8L634.3 793.8L634.1 795.8L634.0 797.8L633.8 799.8L633.7 801.8L633.5 803.8L633.4 805.8L633.2 807.8L633.1 809.8L633.0 811.8L632.8 813.8L632.7 815.8L632.5 817.8M628.5 879.8L628.4 881.8L628.3 883.8L628.2 885.8L628.1 887.8L628.0 889.8L627.9 891.8L627.8 893.8L627.6 895.8L627.5 897.8L627.4 899.8L627.3 901.8L627.2 903.8L627.1 905.8L627.0 907.8M873.3 13.8L872.8 15.8L872.4 17.8L871.9 19.8L871.5 21.8L871.0 23.8L870.6 25.8L870.1 27.8L869.6 29.8L869.2 31.8L868.7 33.8L868.3 35.8L867.8 37.8L867.4 39.8L866.9 41.8L866.5 43.8L866.1 45.8L865.6 47.8L865.2 49.8L864.7 51.8L864.3 53.8L863.8 55.8L863.4 57.8L862.9 59.8L862.5 61.8L862.1 63.8L861.6 65.8L861.2 67.8L860.8 69.8L860.3 71.8L859.9 73.8L859.4 75.8L859.0 77.8L858.6 79.8L858.1 81.8L857.7 83.8L857.3 85.8L856.9 87.8L856.4 89.8L856.0 91.8L855.6 93.8L855.1 95.8L854.7 97.8L854.3 99.8L853.9 101.8L853.4 103.8L853.0 105.8L852.6 107.8L852.2 109.8L851.7 111.8L851.3 113.8L850.9 115.8L850.5 117.8L850.1 119.8L849.6 121.8L849.2 123.8L848.8 125.8L848.4 127.8L848.0 129.8L847.6 131.8L847.2 133.8L846.7 135.8L846.3 137.8L845.9 139.8M833.5 201.8L833.2 203.8L832.8 205.8L832.4 207.8L832.0 209.8L831.6 211.8L831.2 213.8L830.9 215.8L830.5 217.8L830.1 219.8L829.7 221.8L829.3 223.8L829.0 225.8L828.6 227.8L828.2 229.8L827.8 231.8L827.4 233.8L827.1 235.8L826.7 237.8L826.3 239.8L826.0 241.8L825.6 243.8L825.2 245.8L824.8 247.8L824.5 249.8L824.1 251.8L823.7 253.8L823.4 255.8L823.0 257.8L822.6 259.8L822.3 261.8L821.9 263.8L821.5 265.8L821.2 267.8L820.8 269.8L820.5 271.8L820.1 273.8L819.7 275.8L819.4 277.8L819.0 279.8L818.7 281.8L818.3 283.8L817.9 285.8L817.6 287.8L817.2 289.8L816.9 291.8L816.5 293.8L816.2 295.8L815.8 297.8L815.5 299.8L815.1 301.8L814.8 303.8L814.4 305.8L814.1 307.8L813.7 309.8L813.4 311.8L813.1 313.8L812.7 315.8L812.4 317.8L812.0 319.8L811.7 321.8L811.3 323.8L811.0 325.8L810.7 327.8L810.3 329.8L810.0 331.8L809.6 333.8L809.3 335.8L809.0 337.8L808.6 339.8L808.3 341.8L808.0 343.8L807.6 345.8L807.3 347.8L807.0 349.8L806.6 351.8L806.3 353.8L806.0 355.8L805.7 357.8L805.3 359.8L805.0 361.8L804.7 363.8L804.4 365.8L804.0 367.8L803.7 369.8L803.4 371.8L803.1 373.8L802.7 375.8L802.4 377.8L802.1 379.8L801.8 381.8L801.5 383.8L801.1 385.8L800.8 387.8L800.5 389.8L800.2 391.8L799.9 393.8L799.6 395.8L799.3 397.8L798.9 399.8L798.6 401.8L798.3 403.8L798.0 405.8L797.7 407.8L797.4 409.8L797.1 411.8L796.8 413.8L796.5 415.8L796.2 417.8L795.9 419.8L795.6 421.8L795.3 423.8L795.0 425.8L794.7 427.8L794.4 429.8L794.1 431.8L793.8 433.8L793.5 435.8L793.2 437.8L792.9 439.8L792.6 441.8L792.3 443.8L792.0 445.8L791.7 447.8L791.4 449.8L791.1 451.8L790.8 453.8L790.5 455.8L790.2 457.8L790.0 459.8L789.7 461.8L789.4 463.8L789.1 465.8L788.8 467.8L788.5 469.8L788.2 471.8L788.0 473.8M779.6 535.8L779.3 537.8L779.1 539.8L778.8 541.8L778.5 543.8L778.3 545.8L778.0 547.8L777.8 549.8L777.5 551.8L777.3 553.8L777.0 555.8L776.8 557.8L776.5 559.8L776.3 561.8L776.0 563.8L775.8 565.8L775.5 567.8L775.3 569.8L775.1 571.8L774.8 573.8L774.6 575.8L774.3 577.8L774.1 579.8L773.8 581.8L773.6 583.8L773.4 585.8L773.1 587.8L772.9 589.8L772.7 591.8L772.4 593.8L772.2 595.8L771.9 597.8L771.7 599.8L771.5 601.8L771.2 603.8L771.0 605.8L770.8 607.8L770.6 609.8L770.3 611.8L770.1 613.8L769.9 615.8L769.6 617.8L769.4 619.8L769.2 621.8L769.0 623.8L768.7 625.8L768.5 627.8L768.3 629.8L768.1 631.8L767.9 633.8L767.6 635.8L767.4 637.8L767.2 639.8L767.0 641.8L766.8 643.8L766.6 645.8L766.3 647.8L766.1 649.8L765.9 651.8L765.7 653.8L765.5 655.8L765.3 657.8L765.1 659.8L764.9 661.8L764.7 663.8L764.5 665.8L764.2 667.8L764.0 669.8L763.8 671.8L763.6 673.8L763.4 675.8L763.2 677.8L763.0 679.8L762.8 681.8L762.6 683.8L762.4 685.8L762.2 687.8L762.0 689.8L761.8 691.8L761.6 693.8L761.4 695.8L761.2 697.8L761.0 699.8L760.9 701.8L760.7 703.8L760.5 705.8L760.3 707.8L760.1 709.8L759.9 711.8L759.7 713.8L759.5 715.8L759.3 717.8L759.2 719.8L759.0 721.8L758.8 723.8L758.6 725.8L758.4 727.8L758.2 729.8L758.1 731.8L757.9 733.8L757.7 735.8L757.5 737.8L757.3 739.8L757.2 741.8L757.0 743.8L756.8 745.8L756.6 747.8L756.5 749.8L756.3 751.8L756.1 753.8L755.9 755.8L755.8 757.8L755.6 759.8L755.4 761.8L755.3 763.8L755.1 765.8L754.9 767.8L754.8 769.8L754.6 771.8L754.4 773.8L754.3 775.8L754.1 777.8L754.0 779.8L753.8 781.8L753.6 783.8L753.5 785.8L753.3 787.8L753.2 789.8L753.0 791.8L752.8 793.8L752.7 795.8L752.5 797.8L752.4 799.8L752.2 801.8L752.1 803.8L751.9 805.8L751.8 807.8L751.6 809.8L751.5 811.8L751.3 813.8L751.2 815.8M747.0 877.8L746.9 879.8L746.8 881.8L746.7 883.8L746.5 885.8L746.4 887.8L746.3 889.8L746.2 891.8L746.1 893.8L746.0 895.8L745.8 897.8L745.7 899.8L745.6 901.8L745.5 903.8L745.4 905.8L745.3 907.8M993.6 13.8L993.1 15.8L992.7 17.8L992.2 19.8L991.8 21.8L991.3 23.8L990.8 25.8L990.4 27.8L989.9 29.8L989.5 31.8L989.0 33.8L988.6 35.8L988.1 37.8L987.6 39.8L987.2 41.8L986.7 43.8L986.3 45.8L985.8 47.8L985.4 49.8L984.9 51.8L984.5 53.8L984.1 55.8L983.6 57.8L983.2 59.8L982.7 61.8L982.3 63.8L981.8 65.8L981.4 67.8L980.9 69.8L980.5 71.8L980.1 73.8L979.6 75.8L979.2 77.8L978.7 79.8L978.3 81.8L977.9 83.8L977.4 85.8L977.0 87.8L976.6 89.8L976.1 91.8L975.7 93.8L975.3 95.8L974.8 97.8L974.4 99.8L974.0 101.8L973.5 103.8L973.1 105.8L972.7 107.8L972.3 109.8L971.8 111.8L971.4 113.8L971.0 115.8L970.6 117.8L970.1 119.8L969.7 121.8L969.3 123.8L968.9 125.8L968.5 127.8L968.0 129.8L967.6 131.8L967.2 133.8L966.8 135.8L966.4 137.8L966.0 139.8M953.4 201.8L953.1 203.8L952.7 205.8L952.3 207.8L951.9 209.8L951.5 211.8L951.1 213.8L950.7 215.8L950.3 217.8L950.0 219.8L949.6 221.8L949.2 223.8L948.8 225.8L948.4 227.8L948.0 229.8L947.7 231.8L947.3 233.8L946.9 235.8L946.5 237.8L946.1 239.8L945.8 241.8L945.4 243.8L945.0 245.8L944.6 247.8L944.3 249.8L943.9 251.8L943.5 253.8L943.2 255.8L942.8 257.8L942.4 259.8L942.0 261.8L941.7 263.8L941.3 265.8L940.9 267.8L940.6 269.8L940.2 271.8L939.8 273.8L939.5 275.8L939.1 277.8L938.8 279.8L938.4 281.8L938.0 283.8L937.7 285.8L937.3 287.8L937.0 289.8L936.6 291.8L936.2 293.8L935.9 295.8L935.5 297.8L935.2 299.8L934.8 301.8L934.5 303.8L934.1 305.8L933.8 307.8L933.4 309.8L933.1 311.8L932.7 313.8L932.4 315.8L932.0 317.8L931.7 319.8L931.3 321.8L931.0 323.8L930.6 325.8L930.3 327.8L929.9 329.8L929.6 331.8L929.3 333.8L928.9 335.8L928.6 337.8L928.2 339.8L927.9 341.8L927.6 343.8L927.2 345.8L926.9 347.8L926.6 349.8L926.2 351.8L925.9 353.8L925.6 355.8L925.2 357.8L924.9 359.8L924.6 361.8L924.2 363.8L923.9 365.8L923.6 367.8L923.2 369.8L922.9 371.8L922.6 373.8L922.3 375.8L921.9 377.8L921.6 379.8L921.3 381.8L921.0 383.8L920.6 385.8L920.3 387.8L920.0 389.8L919.7 391.8L919.4 393.8L919.0 395.8L918.7 397.8L918.4 399.8L918.1 401.8L917.8 403.8L917.5 405.8L917.2 407.8L916.8 409.8L916.5 411.8L916.2 413.8L915.9 415.8L915.6 417.8L915.3 419.8L915.0 421.8L914.7 423.8L914.4 425.8L914.1 427.8L913.8 429.8L913.5 431.8L913.2 433.8L912.9 435.8L912.6 437.8L912.3 439.8L912.0 441.8L911.7 443.8L911.4 445.8L911.1 447.8L910.8 449.8L910.5 451.8L910.2 453.8L909.9 455.8L909.6 457.8L909.3 459.8L909.0 461.8L908.7 463.8L908.4 465.8L908.1 467.8L907.8 469.8L907.5 471.8L907.3 473.8M898.7 535.8L898.5 537.8L898.2 539.8L897.9 541.8L897.7 543.8L897.4 545.8L897.2 547.8L896.9 549.8L896.7 551.8L896.4 553.8L896.1 555.8L895.9 557.8L895.6 559.8L895.4 561.8L895.1 563.8L894.9 565.8L894.6 567.8L894.4 569.8L894.1 571.8L893.9 573.8L893.6 575.8L893.4 577.8L893.1 579.8L892.9 581.8L892.6 583.8L892.4 585.8L892.2 587.8L891.9 589.8L891.7 591.8L891.4 593.8L891.2 595.8L891.0 597.8L890.7 599.8L890.5 601.8L890.2 603.8L890.0 605.8L889.8 607.8L889.5 609.8L889.3 611.8L889.1 613.8L888.8 615.8L888.6 617.8L888.4 619.8L888.2 621.8L887.9 623.8L887.7 625.8L887.5 627.8L887.2 629.8L887.0 631.8L886.8 633.8L886.6 635.8L886.3 637.8L886.1 639.8L885.9 641.8L885.7 643.8L885.5 645.8L885.2 647.8L885.0 649.8L884.8 651.8L884.6 653.8L884.4 655.8L884.2 657.8L883.9 659.8L883.7 661.8L883.5 663.8L883.3 665.8L883.1 667.8L882.9 669.8L882.7 671.8L882.5 673.8L882.3 675.8L882.1 677.8L881.8 679.8L881.6 681.8L881.4 683.8L881.2 685.8L881.0 687.8L880.8 689.8L880.6 691.8L880.4 693.8L880.2 695.8L880.0 697.8L879.8 699.8L879.6 701.8L879.4 703.8L879.2 705.8L879.0 707.8L878.8 709.8L878.6 711.8L878.5 713.8L878.3 715.8L878.1 717.8L877.9 719.8L877.7 721.8L877.5 723.8L877.3 725.8L877.1 727.8L876.9 729.8L876.8 731.8L876.6 733.8L876.4 735.8L876.2 737.8L876.0 739.8L875.8 741.8L875.7 743.8L875.5 745.8L875.3 747.8L875.1 749.8L874.9 751.8L874.8 753.8L874.6 755.8L874.4 757.8L874.2 759.8L874.1 761.8L873.9 763.8L873.7 765.8L873.5 767.8L873.4 769.8L873.2 771.8L873.0 773.8L872.9 775.8L872.7 777.8L872.5 779.8L872.4 781.8L872.2 783.8L872.0 785.8L871.9 787.8L871.7 789.8L871.6 791.8L871.4 793.8L871.2 795.8L871.1 797.8L870.9 799.8L870.8 801.8L870.6 803.8L870.4 805.8L870.3 807.8L870.1 809.8L870.0 811.8L869.8 813.8L869.7 815.8M865.4 877.8L865.2 879.8L865.1 881.8L865.0 883.8L864.9 885.8L864.7 887.8L864.6 889.8L864.5 891.8L864.4 893.8L864.3 895.8L864.1 897.8L864.0 899.8L863.9 901.8L863.8 903.8L863.7 905.8L863.6 907.8M1113.9 13.8L1113.4 15.8L1113.0 17.8L1112.5 19.8L1112.0 21.8L1111.6 23.8L1111.1 25.8L1110.6 27.8L1110.2 29.8L1109.7 31.8L1109.3 33.8L1108.8 35.8L1108.4 37.8L1107.9 39.8L1107.4 41.8L1107.0 43.8L1106.5 45.8L1106.1 47.8L1105.6 49.8L1105.2 51.8L1104.7 53.8L1104.3 55.8L1103.8 57.8L1103.4 59.8L1102.9 61.8L1102.5 63.8L1102.0 65.8L1101.6 67.8L1101.1 69.8L1100.7 71.8L1100.2 73.8L1099.8 75.8L1099.3 77.8L1098.9 79.8L1098.5 81.8L1098.0 83.8L1097.6 85.8L1097.1 87.8L1096.7 89.8L1096.3 91.8L1095.8 93.8L1095.4 95.8L1095.0 97.8L1094.5 99.8L1094.1 101.8L1093.7 103.8L1093.2 105.8L1092.8 107.8L1092.4 109.8L1091.9 111.8L1091.5 113.8L1091.1 115.8L1090.6 117.8L1090.2 119.8L1089.8 121.8L1089.4 123.8L1088.9 125.8L1088.5 127.8L1088.1 129.8L1087.7 131.8L1087.2 133.8L1086.8 135.8L1086.4 137.8L1086.0 139.8L1085.6 141.8L1085.1 143.8L1084.7 145.8L1084.3 147.8L1083.9 149.8L1083.5 151.8L1083.1 153.8L1082.7 155.8L1082.2 157.8L1081.8 159.8L1081.4 161.8L1081.0 163.8L1080.6 165.8L1080.2 167.8L1079.8 169.8L1079.4 171.8L1079.0 173.8L1078.6 175.8L1078.2 177.8L1077.7 179.8L1077.3 181.8L1076.9 183.8L1076.5 185.8L1076.1 187.8L1075.7 189.8L1075.3 191.8L1074.9 193.8L1074.5 195.8L1074.1 197.8L1073.7 199.8L1073.3 201.8L1072.9 203.8L1072.6 205.8L1072.2 207.8L1071.8 209.8L1071.4 211.8L1071.0 213.8L1070.6 215.8L1070.2 217.8L1069.8 219.8L1069.4 221.8L1069.0 223.8L1068.6 225.8L1068.3 227.8L1067.9 229.8L1067.5 231.8L1067.1 233.8L1066.7 235.8L1066.3 237.8L1066.0 239.8L1065.6 241.8L1065.2 243.8L1064.8 245.8L1064.4 247.8L1064.1 249.8L1063.7 251.8L1063.3 253.8L1062.9 255.8L1062.6 257.8L1062.2 259.8L1061.8 261.8L1061.4 263.8L1061.1 265.8L1060.7 267.8L1060.3 269.8L1059.9 271.8L1059.6 273.8L1059.2 275.8L1058.8 277.8L1058.5 279.8L1058.1 281.8L1057.7 283.8L1057.4 285.8L1057.0 287.8L1056.7 289.8L1056.3 291.8L1055.9 293.8L1055.6 295.8L1055.2 297.8L1054.9 299.8L1054.5 301.8L1054.1 303.8L1053.8 305.8L1053.4 307.8L1053.1 309.8L1052.7 311.8L1052.4 313.8L1052.0 315.8L1051.7 317.8L1051.3 319.8L1051.0 321.8L1050.6 323.8L1050.3 325.8L1049.9 327.8L1049.6 329.8L1049.2 331.8L1048.9 333.8L1048.5 335.8L1048.2 337.8L1047.8 339.8L1047.5 341.8L1047.1 343.8L1046.8 345.8L1046.5 347.8L1046.1 349.8L1045.8 351.8L1045.4 353.8L1045.1 355.8L1044.8 357.8L1044.4 359.8L1044.1 361.8L1043.8 363.8L1043.4 365.8L1043.1 367.8L1042.8 369.8L1042.4 371.8L1042.1 373.8L1041.8 375.8L1041.4 377.8L1041.1 379.8L1040.8 381.8L1040.5 383.8L1040.1 385.8L1039.8 387.8L1039.5 389.8L1039.2 391.8L1038.8 393.8L1038.5 395.8L1038.2 397.8L1037.9 399.8L1037.6 401.8L1037.2 403.8L1036.9 405.8L1036.6 407.8L1036.3 409.8L1036.0 411.8L1035.6 413.8L1035.3 415.8L1035.0 417.8L1034.7 419.8L1034.4 421.8L1034.1 423.8L1033.8 425.8L1033.5 427.8L1033.2 429.8L1032.8 431.8L1032.5 433.8L1032.2 435.8L1031.9 437.8L1031.6 439.8L1031.3 441.8L1031.0 443.8L1030.7 445.8L1030.4 447.8L1030.1 449.8L1029.8 451.8L1029.5 453.8L1029.2 455.8L1028.9 457.8L1028.6 459.8L1028.3 461.8L1028.0 463.8L1027.7 465.8L1027.4 467.8L1027.1 469.8L1026.8 471.8L1026.5 473.8L1026.3 475.8L1026.0 477.8L1025.7 479.8L1025.4 481.8L1025.1 483.8L1024.8 485.8L1024.5 487.8L1024.2 489.8L1024.0 491.8L1023.7 493.8L1023.4 495.8L1023.1 497.8L1022.8 499.8L1022.5 501.8L1022.3 503.8L1022.0 505.8L1021.7 507.8L1021.4 509.8L1021.1 511.8L1020.9 513.8L1020.6 515.8L1020.3 517.8L1020.0 519.8L1019.8 521.8L1019.5 523.8L1019.2 525.8L1019.0 527.8L1018.7 529.8M1012.9 573.8L1012.7 575.8L1012.4 577.8L1012.2 579.8L1011.9 581.8L1011.7 583.8L1011.4 585.8L1011.2 587.8L1010.9 589.8L1010.7 591.8L1010.5 593.8L1010.2 595.8L1010.0 597.8L1009.7 599.8L1009.5 601.8L1009.2 603.8L1009.0 605.8L1008.8 607.8L1008.5 609.8L1008.3 611.8L1008.0 613.8L1007.8 615.8L1007.6 617.8L1007.3 619.8L1007.1 621.8L1006.9 623.8L1006.6 625.8L1006.4 627.8L1006.2 629.8L1005.9 631.8L1005.7 633.8L1005.5 635.8L1005.3 637.8L1005.0 639.8L1004.8 641.8L1004.6 643.8L1004.4 645.8L1004.1 647.8L1003.9 649.8L1003.7 651.8L1003.5 653.8L1003.2 655.8L1003.0 657.8L1002.8 659.8L1002.6 661.8L1002.4 663.8L1002.2 665.8L1001.9 667.8L1001.7 669.8L1001.5 671.8L1001.3 673.8L1001.1 675.8L1000.9 677.8L1000.7 679.8L1000.4 681.8L1000.2 683.8L1000.0 685.8L999.8 687.8L999.6 689.8L999.4 691.8L999.2 693.8L999.0 695.8L998.8 697.8L998.6 699.8L998.4 701.8L998.2 703.8L998.0 705.8L997.8 707.8L997.6 709.8L997.4 711.8L997.2 713.8L997.0 715.8L996.8 717.8L996.6 719.8L996.4 721.8L996.2 723.8L996.0 725.8L995.8 727.8L995.6 729.8L995.4 731.8L995.3 733.8L995.1 735.8L994.9 737.8L994.7 739.8L994.5 741.8L994.3 743.8L994.1 745.8L994.0 747.8L993.8 749.8L993.6 751.8L993.4 753.8L993.2 755.8L993.0 757.8L992.9 759.8L992.7 761.8L992.5 763.8L992.3 765.8L992.2 767.8L992.0 769.8L991.8 771.8L991.6 773.8L991.5 775.8L991.3 777.8L991.1 779.8L990.9 781.8L990.8 783.8L990.6 785.8L990.4 787.8L990.3 789.8L990.1 791.8L989.9 793.8L989.8 795.8L989.6 797.8L989.4 799.8L989.3 801.8L989.1 803.8L989.0 805.8L988.8 807.8L988.6 809.8L988.5 811.8L988.3 813.8L988.2 815.8L988.0 817.8L987.9 819.8L987.7 821.8L987.6 823.8L987.4 825.8L987.2 827.8L987.1 829.8L986.9 831.8L986.8 833.8L986.6 835.8L986.5 837.8L986.4 839.8L986.2 841.8L986.1 843.8L985.9 845.8L985.8 847.8L985.6 849.8L985.5 851.8L985.3 853.8L985.2 855.8L985.1 857.8L984.9 859.8L984.8 861.8L984.6 863.8L984.5 865.8L984.4 867.8L984.2 869.8L984.1 871.8L984.0 873.8" stroke="#ababab" stroke-width="1.7" fill="none"/></g>
<g clip-path="url(#pc)">
<polyline points="132.5 805.7 155.5 806.3 178.5 806.9 201.5 807.4 224.5 808.0 247.4 808.6 270.4 809.1 293.4 809.7 316.4 810.3 339.4 810.8 362.4 811.4 385.4 812.0 408.4 812.5 431.3 813.1 454.3 813.6 477.3 814.2 500.3 814.8 523.3 815.3 546.3 815.9 569.3 816.5 592.3 817.0 615.2 817.6 638.2 818.2 661.2 818.7 684.2 819.3 707.2 819.9 730.2 820.4 753.2 821.0 776.2 821.6 799.1 822.1 822.1 822.7 845.1 823.3 868.1 823.8 891.1 824.4 914.1 825.0 937.1 825.5 960.1 826.1 983.0 826.7 1006.0 827.2 1029.0 827.8" stroke="#4fa3dc" stroke-width="1.8" fill="none"/>
%<g fill="#24184a"><circle cx="287.0" cy="327.7" r="3.5"/><circle cx="292.9" cy="330.2" r="3.5"/><circle cx="325.7" cy="331.0" r="3.5"/><circle cx="329.9" cy="337.0" r="3.5"/><circle cx="340.9" cy="335.0" r="3.5"/><circle cx="355.2" cy="330.2" r="3.5"/><circle cx="386.4" cy="327.7" r="3.5"/><circle cx="425.1" cy="326.8" r="3.5"/><circle cx="431.0" cy="329.4" r="3.5"/><circle cx="455.5" cy="332.7" r="3.5"/><circle cx="386.4" cy="366.4" r="3.5"/><circle cx="397.3" cy="369.8" r="3.5"/><circle cx="384.7" cy="385.5" r="3.5"/><circle cx="402.4" cy="392.6" r="3.5"/><circle cx="426.8" cy="392.6" r="3.5"/><circle cx="377.1" cy="398.5" r="3.5"/><circle cx="389.7" cy="411.1" r="3.5"/><circle cx="443.7" cy="414.5" r="3.5"/><circle cx="428.5" cy="422.0" r="3.5"/><circle cx="443.7" cy="428.8" r="3.5"/><circle cx="382.2" cy="449.8" r="3.5"/><circle cx="390.6" cy="449.5" r="3.5"/><circle cx="418.4" cy="449.8" r="3.5"/><circle cx="434.4" cy="444.8" r="3.5"/><circle cx="440.3" cy="444.8" r="3.5"/><circle cx="392.3" cy="459.1" r="3.5"/><circle cx="431.9" cy="459.1" r="3.5"/><circle cx="475.4" cy="354.1" r="3.5"/><circle cx="486.3" cy="365.9" r="3.5"/><circle cx="485.8" cy="392.2" r="3.5"/><circle cx="504.9" cy="440.6" r="3.5"/><circle cx="507.4" cy="449.8" r="3.5"/><circle cx="504.9" cy="455.7" r="3.5"/><circle cx="177.1" cy="603.9" r="3.5"/><circle cx="193.2" cy="612.5" r="3.5"/><circle cx="211.4" cy="615.3" r="3.5"/><circle cx="266.5" cy="615.7" r="3.5"/><circle cx="301.5" cy="579.7" r="3.5"/><circle cx="299.3" cy="609.3" r="3.5"/><circle cx="311.1" cy="612.1" r="3.5"/><circle cx="330.4" cy="604.4" r="3.5"/><circle cx="331.5" cy="621.5" r="3.5"/><circle cx="333.6" cy="632.2" r="3.5"/><circle cx="334.7" cy="641.9" r="3.5"/><circle cx="351.4" cy="655.4" r="3.5"/><circle cx="359.4" cy="683.3" r="3.5"/><circle cx="357.2" cy="692.9" r="3.5"/><circle cx="358.3" cy="711.1" r="3.5"/><circle cx="358.3" cy="767.9" r="3.5"/><circle cx="413.3" cy="440.8" r="3.5"/><circle cx="418.3" cy="450.1" r="3.5"/><circle cx="391.4" cy="461.6" r="3.5"/><circle cx="458.8" cy="464.9" r="3.5"/><circle cx="447.8" cy="472.9" r="3.5"/><circle cx="479.0" cy="473.4" r="3.5"/><circle cx="472.3" cy="484.3" r="3.5"/><circle cx="502.6" cy="470.8" r="3.5"/><circle cx="505.1" cy="440.8" r="3.5"/><circle cx="403.2" cy="489.7" r="3.5"/><circle cx="397.3" cy="504.4" r="3.5"/><circle cx="388.9" cy="517.8" r="3.5"/><circle cx="398.1" cy="521.2" r="3.5"/><circle cx="451.2" cy="532.7" r="3.5"/><circle cx="455.4" cy="542.8" r="3.5"/><circle cx="447.8" cy="555.4" r="3.5"/><circle cx="509.3" cy="515.8" r="3.5"/><circle cx="484.9" cy="521.7" r="3.5"/><circle cx="498.4" cy="547.8" r="3.5"/><circle cx="492.5" cy="555.4" r="3.5"/><circle cx="415.8" cy="556.3" r="3.5"/><circle cx="424.2" cy="565.5" r="3.5"/><circle cx="383.0" cy="548.7" r="3.5"/><circle cx="366.1" cy="584.9" r="3.5"/><circle cx="352.6" cy="597.5" r="3.5"/><circle cx="383.0" cy="597.5" r="3.5"/><circle cx="499.2" cy="584.9" r="3.5"/><circle cx="505.1" cy="590.0" r="3.5"/><circle cx="510.2" cy="578.2" r="3.5"/><circle cx="516.9" cy="573.1" r="3.5"/><circle cx="511.9" cy="597.5" r="3.5"/><circle cx="483.2" cy="597.5" r="3.5"/><circle cx="520.0" cy="481.5" r="3.5"/><circle cx="558.8" cy="543.8" r="3.5"/><circle cx="554.5" cy="555.6" r="3.5"/></g><polyline points="375.4,340.3 380.5,342.0 383.8,346.2 383.0,350.4 387.2,353.8" fill="none" stroke="#24184a" stroke-width="7.0" stroke-linecap="round" stroke-linejoin="round" stroke-dasharray="0.01 3.9"/><polyline points="367.8,363.9 371.2,368.1 370.4,372.3" fill="none" stroke="#24184a" stroke-width="7.0" stroke-linecap="round" stroke-linejoin="round" stroke-dasharray="0.01 3.9"/><polyline points="394.8,377.4 397.3,379.9" fill="none" stroke="#24184a" stroke-width="7.0" stroke-linecap="round" stroke-linejoin="round" stroke-dasharray="0.01 3.9"/><polyline points="421.8,354.6 424.3,360.5 426.8,365.6 428.5,374.0" fill="none" stroke="#24184a" stroke-width="7.0" stroke-linecap="round" stroke-linejoin="round" stroke-dasharray="0.01 3.9"/><polyline points="366.1,381.6 367.0,384.1" fill="none" stroke="#24184a" stroke-width="7.0" stroke-linecap="round" stroke-linejoin="round" stroke-dasharray="0.01 3.9"/><polyline points="351.0,396.8 356.9,395.1 360.3,393.4" fill="none" stroke="#24184a" stroke-width="7.0" stroke-linecap="round" stroke-linejoin="round" stroke-dasharray="0.01 3.9"/><polyline points="384.7,395.1 391.4,397.6 396.5,401.0 400.7,406.0" fill="none" stroke="#24184a" stroke-width="7.0" stroke-linecap="round" stroke-linejoin="round" stroke-dasharray="0.01 3.9"/><polyline points="406.6,421.2 410.0,427.9 413.3,434.7 420.1,433.0" fill="none" stroke="#24184a" stroke-width="7.0" stroke-linecap="round" stroke-linejoin="round" stroke-dasharray="0.01 3.9"/><polyline points="366.1,439.7 369.5,445.6 373.7,449.8" fill="none" stroke="#24184a" stroke-width="7.0" stroke-linecap="round" stroke-linejoin="round" stroke-dasharray="0.01 3.9"/><polyline points="313.3,588.9 311.1,596.4 314.3,599.7 305.8,599.7" fill="none" stroke="#24184a" stroke-width="7.0" stroke-linecap="round" stroke-linejoin="round" stroke-dasharray="0.01 3.9"/><polyline points="347.6,601.8 354.0,597.5" fill="none" stroke="#24184a" stroke-width="7.0" stroke-linecap="round" stroke-linejoin="round" stroke-dasharray="0.01 3.9"/><polyline points="302.5,733.6 303.6,742.2 307.9,751.9 314.3,760.4 319.7,766.9" fill="none" stroke="#24184a" stroke-width="7.0" stroke-linecap="round" stroke-linejoin="round" stroke-dasharray="0.01 3.9"/><polyline points="428.5,460.2 436.0,461.1" fill="none" stroke="#24184a" stroke-width="7.0" stroke-linecap="round" stroke-linejoin="round" stroke-dasharray="0.01 3.9"/><polyline points="513.5,477.9 516.9,484.7" fill="none" stroke="#24184a" stroke-width="7.0" stroke-linecap="round" stroke-linejoin="round" stroke-dasharray="0.01 3.9"/><polyline points="394.8,477.1 393.9,484.7 394.8,493.1" fill="none" stroke="#24184a" stroke-width="7.0" stroke-linecap="round" stroke-linejoin="round" stroke-dasharray="0.01 3.9"/><polyline points="427.6,476.2 423.4,484.7 424.2,490.5 428.5,492.2" fill="none" stroke="#24184a" stroke-width="7.0" stroke-linecap="round" stroke-linejoin="round" stroke-dasharray="0.01 3.9"/><polyline points="415.0,493.9 410.8,502.3 412.5,506.6 418.3,509.1" fill="none" stroke="#24184a" stroke-width="7.0" stroke-linecap="round" stroke-linejoin="round" stroke-dasharray="0.01 3.9"/><polyline points="447.0,491.4 455.4,493.9 464.7,498.1" fill="none" stroke="#24184a" stroke-width="7.0" stroke-linecap="round" stroke-linejoin="round" stroke-dasharray="0.01 3.9"/><polyline points="445.3,497.3 447.8,507.4 449.5,515.8 449.5,522.6" fill="none" stroke="#24184a" stroke-width="7.0" stroke-linecap="round" stroke-linejoin="round" stroke-dasharray="0.01 3.9"/><polyline points="434.4,517.5 441.1,527.6 447.8,537.7 454.6,547.8 461.3,556.3 465.5,559.6" fill="none" stroke="#24184a" stroke-width="7.0" stroke-linecap="round" stroke-linejoin="round" stroke-dasharray="0.01 3.9"/><polyline points="479.8,529.3 485.7,533.5" fill="none" stroke="#24184a" stroke-width="7.0" stroke-linecap="round" stroke-linejoin="round" stroke-dasharray="0.01 3.9"/><polyline points="399.0,532.7 402.3,541.1 406.6,547.8 410.8,546.1" fill="none" stroke="#24184a" stroke-width="7.0" stroke-linecap="round" stroke-linejoin="round" stroke-dasharray="0.01 3.9"/><polyline points="469.7,570.6 478.2,569.7 483.2,574.8 486.6,581.5 488.3,588.3" fill="none" stroke="#24184a" stroke-width="7.0" stroke-linecap="round" stroke-linejoin="round" stroke-dasharray="0.01 3.9"/><polyline points="464.7,584.9 473.1,586.6" fill="none" stroke="#24184a" stroke-width="7.0" stroke-linecap="round" stroke-linejoin="round" stroke-dasharray="0.01 3.9"/><polyline points="521.1,536.0 516.1,542.8 522.0,546.1 527.0,547.8 530.4,552.9 522.0,555.4" fill="none" stroke="#24184a" stroke-width="7.0" stroke-linecap="round" stroke-linejoin="round" stroke-dasharray="0.01 3.9"/><polyline points="523.7,563.0 527.0,571.4 530.4,579.9 533.8,588.3 538.8,590.0" fill="none" stroke="#24184a" stroke-width="7.0" stroke-linecap="round" stroke-linejoin="round" stroke-dasharray="0.01 3.9"/><polyline points="542.7,544.7 541.1,554.0" fill="none" stroke="#24184a" stroke-width="7.0" stroke-linecap="round" stroke-linejoin="round" stroke-dasharray="0.01 3.9"/><polyline points="544.4,566.6 545.3,573.3" fill="none" stroke="#24184a" stroke-width="7.0" stroke-linecap="round" stroke-linejoin="round" stroke-dasharray="0.01 3.9"/><polyline points="558.8,566.6 563.8,572.5" fill="none" stroke="#24184a" stroke-width="7.0" stroke-linecap="round" stroke-linejoin="round" stroke-dasharray="0.01 3.9"/><polyline points="522.5,536.3 526.7,546.4 528.4,553.1 526.7,561.5" fill="none" stroke="#24184a" stroke-width="7.0" stroke-linecap="round" stroke-linejoin="round" stroke-dasharray="0.01 3.9"/><polygon points="540.0,668.0 560.0,662.0 580.0,660.0 600.0,660.0 620.0,662.0 640.0,668.0 655.0,672.0 668.0,680.0 660.0,650.0 660.0,629.0 672.0,610.0 690.0,606.0 710.0,612.0 730.0,606.0 745.0,600.0 757.0,598.0 790.0,620.0 792.0,650.0 800.0,660.0 812.0,675.0 822.0,685.0 828.0,700.0 832.0,740.0 836.0,760.0 841.0,749.0 850.0,760.0 858.0,778.0 860.0,790.0 840.0,800.0 823.7,802.7 812.8,813.6 799.6,822.4 786.5,829.0 773.3,831.1 760.2,833.3 751.4,840.0 738.3,846.5 725.1,848.7 712.0,842.1 703.2,833.3 692.3,820.2 679.0,811.4 664.0,805.0 653.0,796.0 633.0,776.0 621.3,759.8 603.7,742.2 586.0,735.0 570.0,730.0 558.0,712.0 550.0,695.0" fill="#4568dc"/><polygon points="660.0,640.0 672.0,610.0 690.0,606.0 710.0,612.0 730.0,606.0 745.0,600.0 757.0,598.0 760.0,700.0 740.0,720.0 720.0,740.0 700.0,740.0 685.0,720.0 676.0,695.0 665.0,670.0" fill="#4a72e6"/><polygon points="680.0,790.0 700.0,780.0 730.0,786.0 760.0,792.0 790.0,786.0 812.0,795.0 823.7,802.7 812.8,813.6 799.6,822.4 786.5,829.0 773.3,831.1 760.2,833.3 751.4,840.0 738.3,846.5 725.1,848.7 712.0,842.1 703.2,833.3 692.3,820.2" fill="#3e9ef0"/><polygon points="700.0,830.0 715.0,834.0 735.0,838.0 755.0,832.0 775.0,828.0 790.0,822.0 805.0,815.0 812.8,813.6 799.6,822.4 786.5,829.0 773.3,831.1 760.2,833.3 751.4,840.0 738.3,846.5 725.1,848.7 712.0,842.1 703.2,833.3" fill="#2ec6cc"/><polygon points="565.0,692.0 580.0,705.0 595.0,720.0 610.0,735.0 625.0,748.0 640.0,760.0 655.0,775.0 672.0,790.0 690.0,805.0 700.0,818.0 692.0,822.0 675.0,812.0 660.0,800.0 640.0,790.0 620.0,775.0 600.0,760.0 585.0,745.0 570.0,730.0 558.0,712.0 552.0,700.0" fill="#33307a"/><polygon points="536.0,655.0 550.0,650.0 565.0,655.0 580.0,660.0 600.0,662.0 612.0,672.0 608.0,688.0 595.0,698.0 578.0,700.0 562.0,692.0 550.0,682.0" fill="#2c2868"/><polyline points="495.0,585.3 511.9,598.8 528.8,615.6 545.6,630.8 560.8,640.9 575.0,650.0" fill="none" stroke="#2a2262" stroke-width="11.0" stroke-linecap="round" stroke-linejoin="round" stroke-dasharray="0.01 6.1"/><polyline points="523.7,563.4 533.8,585.3 545.6,593.7 557.4,603.8 569.2,615.6 581.0,627.4 594.5,640.9 607.9,651.0 621.4,661.1 634.9,669.5" fill="none" stroke="#2a2262" stroke-width="12.0" stroke-linecap="round" stroke-linejoin="round" stroke-dasharray="0.01 6.6"/><polyline points="554.0,607.2 560.8,615.6 567.5,624.0 574.2,630.8 584.4,639.2 597.8,647.6 610.0,656.0" fill="none" stroke="#2a2262" stroke-width="10.0" stroke-linecap="round" stroke-linejoin="round" stroke-dasharray="0.01 5.5"/><polyline points="584.4,619.0 594.5,620.7 604.6,630.8 618.1,640.9 628.2,649.3" fill="none" stroke="#2a2262" stroke-width="8.0" stroke-linecap="round" stroke-linejoin="round" stroke-dasharray="0.01 4.4"/><polyline points="540.0,600.0 548.0,612.0 556.0,626.0 566.0,640.0" fill="none" stroke="#2a2262" stroke-width="8.0" stroke-linecap="round" stroke-linejoin="round" stroke-dasharray="0.01 4.4"/><g fill="#2a2262"><circle cx="564.1" cy="580.2" r="3.5"/><circle cx="570.9" cy="587.0" r="3.5"/><circle cx="574.2" cy="598.8" r="3.5"/><circle cx="589.0" cy="607.0" r="3.5"/><circle cx="600.0" cy="612.0" r="3.5"/></g><polygon points="520.0,727.0 545.0,729.0 570.0,733.0 590.0,740.0 607.0,748.0 612.0,766.0 595.0,764.0 572.0,754.0 545.0,744.0 520.0,739.0" fill="#2a2462"/><polygon points="536.0,657.0 560.0,652.0 580.0,660.0 600.0,672.0 612.0,690.0 625.0,708.0 640.0,725.0 655.0,742.0 668.0,760.0 680.0,775.0 692.0,795.0 700.0,812.0 692.0,820.0 679.0,811.0 664.0,805.0 653.0,796.0 633.0,776.0 621.0,760.0 604.0,742.0 586.0,725.0 563.0,701.0 542.0,678.0" fill="#2c276a" fill-opacity="0.90"/><g fill="#1e1650"><circle cx="581.4" cy="684.6" r="3.4"/><circle cx="654.4" cy="754.3" r="3.4"/><circle cx="637.8" cy="752.9" r="3.4"/><circle cx="647.2" cy="769.7" r="3.4"/><circle cx="584.1" cy="714.1" r="3.4"/><circle cx="617.2" cy="716.4" r="3.4"/><circle cx="690.3" cy="805.0" r="3.4"/><circle cx="648.7" cy="737.9" r="3.4"/><circle cx="600.5" cy="719.0" r="3.4"/><circle cx="648.1" cy="781.0" r="3.4"/></g><g fill="#4450c0"><circle cx="561.3" cy="683.0" r="3.4"/><circle cx="554.2" cy="668.5" r="3.4"/><circle cx="622.9" cy="751.3" r="3.4"/><circle cx="577.1" cy="708.3" r="3.4"/><circle cx="558.5" cy="679.5" r="3.4"/><circle cx="652.3" cy="753.9" r="3.4"/><circle cx="582.1" cy="667.7" r="3.4"/><circle cx="598.2" cy="700.9" r="3.4"/><circle cx="657.9" cy="786.9" r="3.4"/><circle cx="560.7" cy="689.3" r="3.4"/><circle cx="674.8" cy="779.4" r="3.4"/><circle cx="560.2" cy="662.4" r="3.4"/><circle cx="567.6" cy="671.1" r="3.4"/></g><g fill="#3a3a90"><circle cx="683.1" cy="783.4" r="3.4"/><circle cx="659.6" cy="799.5" r="3.4"/><circle cx="581.2" cy="690.2" r="3.4"/><circle cx="662.3" cy="797.9" r="3.4"/><circle cx="655.7" cy="791.0" r="3.4"/><circle cx="647.1" cy="756.3" r="3.4"/><circle cx="636.7" cy="750.7" r="3.4"/></g><polygon points="598.0,688.0 612.0,694.0 628.0,708.0 640.0,722.0 636.0,728.0 622.0,716.0 606.0,702.0 596.0,694.0" fill="#302a78"/><polygon points="560.0,668.0 600.0,664.0 630.0,668.0 650.0,676.0 640.0,690.0 620.0,684.0 590.0,678.0 565.0,680.0" fill="#3f5ad0" fill-opacity="0.70"/><polygon points="520.0,729.0 543.0,730.0 552.0,700.0 558.0,712.0 570.0,730.0 585.0,745.0 600.0,760.0 620.0,775.0 640.0,790.0 660.0,800.0 675.0,812.0 664.0,805.0 653.0,796.0 633.0,776.0 621.3,759.8 603.7,742.2 586.0,738.0 560.0,742.0 540.0,741.0 520.0,740.0" fill="#2a2462"/><polygon points="645.0,680.0 662.0,678.0 680.0,682.0 682.0,700.0 681.0,745.0 668.0,738.0 655.0,722.0 645.0,705.0 642.0,690.0" fill="#ffffff"/><g fill="#24184a"><circle cx="667.4" cy="710.1" r="3.4"/><circle cx="679.3" cy="706.7" r="3.4"/><circle cx="673.8" cy="693.6" r="3.4"/><circle cx="655.7" cy="710.5" r="3.4"/><circle cx="668.6" cy="709.5" r="3.4"/><circle cx="681.8" cy="703.9" r="3.4"/></g><g fill="#3a5ae0"><circle cx="681.6" cy="709.8" r="3.4"/><circle cx="669.8" cy="707.3" r="3.4"/><circle cx="642.8" cy="688.8" r="3.4"/><circle cx="645.0" cy="691.2" r="3.4"/><circle cx="680.8" cy="737.9" r="3.4"/><circle cx="675.4" cy="688.6" r="3.4"/></g><g fill="#2a1f6a"><circle cx="672.8" cy="705.3" r="3.4"/><circle cx="661.9" cy="685.8" r="3.4"/><circle cx="664.4" cy="715.4" r="3.4"/><circle cx="677.5" cy="705.4" r="3.4"/><circle cx="680.2" cy="711.6" r="3.4"/><circle cx="681.7" cy="711.2" r="3.4"/></g><g fill="#35409a"><circle cx="616.1" cy="734.4" r="3.4"/><circle cx="727.2" cy="744.5" r="3.4"/><circle cx="758.2" cy="830.9" r="3.4"/><circle cx="671.3" cy="635.8" r="3.4"/><circle cx="616.0" cy="673.5" r="3.4"/><circle cx="646.4" cy="686.5" r="3.4"/><circle cx="572.6" cy="678.7" r="3.4"/><circle cx="609.8" cy="740.5" r="3.4"/><circle cx="794.0" cy="666.0" r="3.4"/><circle cx="778.5" cy="641.1" r="3.4"/><circle cx="567.6" cy="723.9" r="3.4"/><circle cx="663.5" cy="695.7" r="3.4"/><circle cx="740.8" cy="788.5" r="3.4"/><circle cx="755.5" cy="807.6" r="3.4"/><circle cx="620.9" cy="748.3" r="3.4"/><circle cx="812.5" cy="732.9" r="3.4"/><circle cx="813.2" cy="744.6" r="3.4"/><circle cx="765.5" cy="813.2" r="3.4"/><circle cx="714.2" cy="627.9" r="3.4"/><circle cx="576.3" cy="721.8" r="3.4"/><circle cx="773.7" cy="635.5" r="3.4"/><circle cx="665.4" cy="623.0" r="3.4"/><circle cx="604.7" cy="660.7" r="3.4"/><circle cx="763.7" cy="653.4" r="3.4"/><circle cx="770.3" cy="690.0" r="3.4"/><circle cx="809.3" cy="699.1" r="3.4"/><circle cx="576.7" cy="695.7" r="3.4"/><circle cx="789.4" cy="718.5" r="3.4"/><circle cx="818.0" cy="760.1" r="3.4"/><circle cx="701.6" cy="825.4" r="3.4"/><circle cx="680.5" cy="660.9" r="3.4"/><circle cx="689.8" cy="647.3" r="3.4"/><circle cx="549.4" cy="691.6" r="3.4"/><circle cx="796.7" cy="702.8" r="3.4"/><circle cx="715.1" cy="700.3" r="3.4"/><circle cx="682.1" cy="667.8" r="3.4"/><circle cx="683.3" cy="676.1" r="3.4"/><circle cx="641.6" cy="696.4" r="3.4"/><circle cx="695.2" cy="774.3" r="3.4"/><circle cx="670.4" cy="732.9" r="3.4"/></g><g fill="#4a5fd8"><circle cx="725.9" cy="749.8" r="3.4"/><circle cx="694.2" cy="758.1" r="3.4"/><circle cx="734.8" cy="667.9" r="3.4"/><circle cx="703.9" cy="647.8" r="3.4"/><circle cx="708.7" cy="704.0" r="3.4"/><circle cx="717.8" cy="777.5" r="3.4"/><circle cx="674.6" cy="772.0" r="3.4"/><circle cx="626.4" cy="745.9" r="3.4"/><circle cx="793.1" cy="663.7" r="3.4"/><circle cx="685.3" cy="773.5" r="3.4"/><circle cx="718.1" cy="840.3" r="3.4"/><circle cx="755.6" cy="727.6" r="3.4"/><circle cx="592.0" cy="722.8" r="3.4"/><circle cx="693.5" cy="748.2" r="3.4"/><circle cx="647.1" cy="707.4" r="3.4"/><circle cx="564.4" cy="706.4" r="3.4"/><circle cx="659.8" cy="791.6" r="3.4"/><circle cx="653.3" cy="681.4" r="3.4"/><circle cx="721.5" cy="766.0" r="3.4"/><circle cx="688.6" cy="787.8" r="3.4"/><circle cx="683.3" cy="688.6" r="3.4"/><circle cx="637.5" cy="750.2" r="3.4"/><circle cx="568.1" cy="671.6" r="3.4"/><circle cx="711.7" cy="793.1" r="3.4"/><circle cx="796.5" cy="707.9" r="3.4"/><circle cx="832.8" cy="772.7" r="3.4"/><circle cx="648.3" cy="676.0" r="3.4"/><circle cx="610.4" cy="739.0" r="3.4"/><circle cx="650.7" cy="749.2" r="3.4"/><circle cx="694.9" cy="791.9" r="3.4"/><circle cx="585.7" cy="709.3" r="3.4"/><circle cx="682.0" cy="649.5" r="3.4"/><circle cx="784.1" cy="773.6" r="3.4"/><circle cx="656.1" cy="736.5" r="3.4"/><circle cx="733.1" cy="801.4" r="3.4"/><circle cx="598.0" cy="694.1" r="3.4"/><circle cx="761.5" cy="706.1" r="3.4"/><circle cx="681.5" cy="732.0" r="3.4"/></g><g fill="#2f2a70"><circle cx="807.7" cy="717.4" r="3.4"/><circle cx="770.0" cy="818.3" r="3.4"/><circle cx="792.2" cy="705.0" r="3.4"/><circle cx="687.3" cy="728.4" r="3.4"/><circle cx="626.8" cy="757.0" r="3.4"/><circle cx="742.3" cy="613.1" r="3.4"/><circle cx="598.7" cy="667.8" r="3.4"/><circle cx="793.6" cy="765.4" r="3.4"/><circle cx="725.8" cy="824.1" r="3.4"/><circle cx="718.3" cy="718.7" r="3.4"/><circle cx="634.6" cy="767.4" r="3.4"/><circle cx="559.0" cy="671.8" r="3.4"/><circle cx="721.2" cy="643.6" r="3.4"/><circle cx="834.7" cy="759.7" r="3.4"/><circle cx="731.2" cy="737.1" r="3.4"/><circle cx="781.4" cy="734.2" r="3.4"/><circle cx="758.1" cy="739.5" r="3.4"/><circle cx="759.7" cy="673.1" r="3.4"/><circle cx="694.9" cy="748.8" r="3.4"/><circle cx="742.9" cy="624.9" r="3.4"/><circle cx="575.7" cy="669.0" r="3.4"/><circle cx="591.5" cy="722.6" r="3.4"/><circle cx="727.0" cy="724.3" r="3.4"/><circle cx="642.4" cy="748.6" r="3.4"/><circle cx="745.4" cy="788.9" r="3.4"/><circle cx="712.5" cy="714.4" r="3.4"/><circle cx="759.6" cy="689.4" r="3.4"/><circle cx="772.4" cy="817.3" r="3.4"/><circle cx="720.4" cy="837.0" r="3.4"/><circle cx="704.9" cy="691.0" r="3.4"/><circle cx="695.8" cy="786.7" r="3.4"/><circle cx="777.8" cy="808.2" r="3.4"/></g><g fill="#30c0d8"><circle cx="788.7" cy="638.0" r="3.4"/><circle cx="803.5" cy="665.5" r="3.4"/><circle cx="740.5" cy="673.5" r="3.4"/><circle cx="806.7" cy="741.9" r="3.4"/><circle cx="738.4" cy="833.8" r="3.4"/><circle cx="640.8" cy="692.4" r="3.4"/><circle cx="620.4" cy="712.4" r="3.4"/><circle cx="640.1" cy="690.5" r="3.4"/><circle cx="709.5" cy="645.8" r="3.4"/><circle cx="728.6" cy="703.6" r="3.4"/><circle cx="742.9" cy="670.8" r="3.4"/><circle cx="807.7" cy="764.2" r="3.4"/><circle cx="782.1" cy="660.2" r="3.4"/><circle cx="659.4" cy="749.5" r="3.4"/><circle cx="661.7" cy="798.9" r="3.4"/><circle cx="549.0" cy="679.6" r="3.4"/><circle cx="774.1" cy="811.0" r="3.4"/><circle cx="641.9" cy="731.4" r="3.4"/><circle cx="709.3" cy="657.7" r="3.4"/><circle cx="559.6" cy="679.3" r="3.4"/><circle cx="672.9" cy="740.5" r="3.4"/><circle cx="754.8" cy="812.4" r="3.4"/><circle cx="648.3" cy="739.9" r="3.4"/><circle cx="801.0" cy="785.7" r="3.4"/><circle cx="662.6" cy="736.5" r="3.4"/><circle cx="639.1" cy="722.8" r="3.4"/><circle cx="740.0" cy="647.9" r="3.4"/><circle cx="774.9" cy="807.5" r="3.4"/><circle cx="802.7" cy="725.1" r="3.4"/><circle cx="788.9" cy="671.2" r="3.4"/><circle cx="695.1" cy="615.9" r="3.4"/><circle cx="735.9" cy="831.5" r="3.4"/><circle cx="771.2" cy="671.8" r="3.4"/><circle cx="639.8" cy="714.1" r="3.4"/><circle cx="782.7" cy="795.9" r="3.4"/><circle cx="689.6" cy="764.8" r="3.4"/><circle cx="589.7" cy="676.9" r="3.4"/><circle cx="613.8" cy="713.1" r="3.4"/><circle cx="736.0" cy="605.7" r="3.4"/><circle cx="754.0" cy="691.1" r="3.4"/><circle cx="687.8" cy="670.6" r="3.4"/><circle cx="691.3" cy="783.4" r="3.4"/><circle cx="779.4" cy="794.0" r="3.4"/><circle cx="818.3" cy="797.1" r="3.4"/></g><g fill="#3f8af0"><circle cx="796.3" cy="709.5" r="3.4"/><circle cx="722.1" cy="777.0" r="3.4"/><circle cx="670.5" cy="751.0" r="3.4"/><circle cx="648.7" cy="688.3" r="3.4"/><circle cx="732.5" cy="642.5" r="3.4"/><circle cx="850.8" cy="769.4" r="3.4"/><circle cx="797.2" cy="657.8" r="3.4"/><circle cx="756.0" cy="654.3" r="3.4"/><circle cx="711.1" cy="802.8" r="3.4"/><circle cx="616.6" cy="666.6" r="3.4"/><circle cx="769.3" cy="716.7" r="3.4"/><circle cx="672.1" cy="785.4" r="3.4"/><circle cx="590.0" cy="698.5" r="3.4"/><circle cx="681.8" cy="778.2" r="3.4"/><circle cx="586.9" cy="727.3" r="3.4"/><circle cx="604.2" cy="740.9" r="3.4"/><circle cx="689.6" cy="655.6" r="3.4"/><circle cx="777.6" cy="720.8" r="3.4"/><circle cx="599.8" cy="718.9" r="3.4"/><circle cx="765.7" cy="624.9" r="3.4"/><circle cx="734.5" cy="813.5" r="3.4"/><circle cx="714.3" cy="640.7" r="3.4"/><circle cx="818.6" cy="772.2" r="3.4"/><circle cx="585.9" cy="713.3" r="3.4"/><circle cx="697.8" cy="825.9" r="3.4"/><circle cx="617.3" cy="695.5" r="3.4"/><circle cx="792.4" cy="732.2" r="3.4"/><circle cx="567.4" cy="714.6" r="3.4"/><circle cx="745.7" cy="683.6" r="3.4"/><circle cx="812.8" cy="690.2" r="3.4"/><circle cx="798.3" cy="672.6" r="3.4"/><circle cx="780.2" cy="682.6" r="3.4"/><circle cx="731.3" cy="627.1" r="3.4"/><circle cx="639.5" cy="760.6" r="3.4"/></g><g fill="#5a6ee8"><circle cx="676.7" cy="702.1" r="3.4"/><circle cx="817.4" cy="768.7" r="3.4"/><circle cx="706.8" cy="735.5" r="3.4"/><circle cx="757.0" cy="760.8" r="3.4"/><circle cx="713.1" cy="801.5" r="3.4"/><circle cx="741.2" cy="814.2" r="3.4"/><circle cx="814.2" cy="792.4" r="3.4"/><circle cx="794.5" cy="740.1" r="3.4"/><circle cx="725.3" cy="798.2" r="3.4"/><circle cx="790.6" cy="819.1" r="3.4"/><circle cx="747.4" cy="792.9" r="3.4"/><circle cx="774.9" cy="682.4" r="3.4"/><circle cx="824.8" cy="762.3" r="3.4"/><circle cx="683.4" cy="800.9" r="3.4"/><circle cx="575.9" cy="665.8" r="3.4"/><circle cx="793.6" cy="754.3" r="3.4"/><circle cx="701.9" cy="723.0" r="3.4"/><circle cx="606.7" cy="720.6" r="3.4"/><circle cx="680.3" cy="712.2" r="3.4"/><circle cx="593.8" cy="720.9" r="3.4"/><circle cx="670.5" cy="774.4" r="3.4"/><circle cx="741.3" cy="684.4" r="3.4"/><circle cx="558.2" cy="707.2" r="3.4"/><circle cx="780.5" cy="804.3" r="3.4"/><circle cx="782.7" cy="767.8" r="3.4"/><circle cx="689.6" cy="754.0" r="3.4"/><circle cx="804.1" cy="768.6" r="3.4"/><circle cx="682.0" cy="693.1" r="3.4"/><circle cx="690.2" cy="745.3" r="3.4"/><circle cx="678.4" cy="682.8" r="3.4"/><circle cx="776.0" cy="773.0" r="3.4"/><circle cx="747.0" cy="633.7" r="3.4"/></g><g fill="#ffffff"><circle cx="755.8" cy="617.9" r="3.6"/><circle cx="721.3" cy="661.5" r="3.6"/><circle cx="734.0" cy="722.8" r="3.6"/><circle cx="691.9" cy="683.4" r="3.6"/><circle cx="748.1" cy="681.7" r="3.6"/><circle cx="702.2" cy="623.6" r="3.6"/><circle cx="718.3" cy="731.2" r="3.6"/><circle cx="729.8" cy="685.0" r="3.6"/><circle cx="678.4" cy="653.8" r="3.6"/><circle cx="688.0" cy="636.4" r="3.6"/><circle cx="703.2" cy="646.6" r="3.6"/><circle cx="701.9" cy="633.7" r="3.6"/><circle cx="711.7" cy="656.1" r="3.6"/><circle cx="690.7" cy="651.1" r="3.6"/><circle cx="689.7" cy="682.6" r="3.6"/><circle cx="702.7" cy="610.9" r="3.6"/><circle cx="695.6" cy="659.3" r="3.6"/><circle cx="679.7" cy="631.9" r="3.6"/><circle cx="677.1" cy="675.6" r="3.6"/><circle cx="723.0" cy="661.0" r="3.6"/><circle cx="713.5" cy="711.0" r="3.6"/><circle cx="725.6" cy="612.3" r="3.6"/></g><g fill="#30d0c0"><circle cx="749.2" cy="609.9" r="3.4"/><circle cx="757.1" cy="649.5" r="3.4"/><circle cx="756.9" cy="637.9" r="3.4"/><circle cx="663.9" cy="637.1" r="3.4"/><circle cx="742.1" cy="645.0" r="3.4"/><circle cx="714.6" cy="658.4" r="3.4"/></g><g fill="#3aa0f0"><circle cx="702.4" cy="673.3" r="3.4"/><circle cx="696.9" cy="622.4" r="3.4"/><circle cx="717.3" cy="713.6" r="3.4"/><circle cx="727.6" cy="621.2" r="3.4"/><circle cx="713.4" cy="693.6" r="3.4"/><circle cx="715.6" cy="690.2" r="3.4"/><circle cx="728.8" cy="656.6" r="3.4"/><circle cx="742.7" cy="613.4" r="3.4"/></g><g fill="#2f2a80"><circle cx="732.6" cy="636.0" r="3.4"/><circle cx="682.1" cy="662.6" r="3.4"/><circle cx="722.8" cy="659.2" r="3.4"/><circle cx="714.9" cy="634.7" r="3.4"/><circle cx="683.8" cy="675.5" r="3.4"/><circle cx="754.5" cy="621.8" r="3.4"/><circle cx="665.6" cy="657.1" r="3.4"/><circle cx="676.3" cy="630.0" r="3.4"/><circle cx="755.0" cy="628.7" r="3.4"/><circle cx="685.3" cy="657.9" r="3.4"/><circle cx="737.2" cy="677.1" r="3.4"/></g><g fill="#3a3a98"><circle cx="731.8" cy="681.9" r="3.4"/><circle cx="718.2" cy="609.7" r="3.4"/><circle cx="750.0" cy="675.0" r="3.4"/><circle cx="722.0" cy="615.0" r="3.4"/><circle cx="754.9" cy="674.5" r="3.4"/><circle cx="734.9" cy="647.2" r="3.4"/><circle cx="686.4" cy="675.9" r="3.4"/><circle cx="704.5" cy="646.7" r="3.4"/><circle cx="693.3" cy="677.4" r="3.4"/><circle cx="714.2" cy="631.4" r="3.4"/></g><polyline points="673.2,597.9 681.3,589.8 689.4,585.8" fill="none" stroke="#4060e0" stroke-width="7.5" stroke-linecap="round" stroke-linejoin="round" stroke-dasharray="0.01 4.1"/><polyline points="673.2,602.0 681.3,614.1" fill="none" stroke="#4060e0" stroke-width="7.5" stroke-linecap="round" stroke-linejoin="round" stroke-dasharray="0.01 4.1"/><polyline points="701.5,618.1 705.6,602.0 711.6,587.8 715.7,569.6" fill="none" stroke="#33308a" stroke-width="7.5" stroke-linecap="round" stroke-linejoin="round" stroke-dasharray="0.01 4.1"/><polyline points="740.0,561.5 742.0,577.7 746.0,591.9 752.1,606.0" fill="none" stroke="#3a50c8" stroke-width="7.5" stroke-linecap="round" stroke-linejoin="round" stroke-dasharray="0.01 4.1"/><polyline points="717.7,591.9 725.8,602.0 731.9,610.0" fill="none" stroke="#3a48c0" stroke-width="7.5" stroke-linecap="round" stroke-linejoin="round" stroke-dasharray="0.01 4.1"/><polyline points="679.5,613.6 684.0,621.0 689.2,629.2" fill="none" stroke="#2e2470" stroke-width="7.0" stroke-linecap="round" stroke-linejoin="round" stroke-dasharray="0.01 3.9"/><polyline points="660.0,672.0 670.0,674.0 679.5,676.0" fill="none" stroke="#2e2470" stroke-width="7.0" stroke-linecap="round" stroke-linejoin="round" stroke-dasharray="0.01 3.9"/><g fill="#28d0b0"><circle cx="769.5" cy="831.0" r="3.4"/><circle cx="747.4" cy="796.9" r="3.4"/><circle cx="689.4" cy="800.7" r="3.4"/><circle cx="745.1" cy="828.6" r="3.4"/><circle cx="693.1" cy="803.4" r="3.4"/><circle cx="740.4" cy="789.7" r="3.4"/><circle cx="705.9" cy="813.8" r="3.4"/><circle cx="704.7" cy="833.6" r="3.4"/><circle cx="746.9" cy="806.1" r="3.4"/><circle cx="758.3" cy="803.3" r="3.4"/><circle cx="740.2" cy="835.9" r="3.4"/><circle cx="733.1" cy="789.8" r="3.4"/></g><g fill="#50e080"><circle cx="694.7" cy="797.1" r="3.4"/><circle cx="699.9" cy="822.4" r="3.4"/><circle cx="703.9" cy="801.5" r="3.4"/><circle cx="757.5" cy="826.6" r="3.4"/><circle cx="724.9" cy="801.8" r="3.4"/><circle cx="756.7" cy="807.9" r="3.4"/><circle cx="795.2" cy="803.0" r="3.4"/><circle cx="798.1" cy="816.5" r="3.4"/><circle cx="817.5" cy="803.4" r="3.4"/><circle cx="754.5" cy="816.4" r="3.4"/><circle cx="703.0" cy="810.3" r="3.4"/><circle cx="722.1" cy="804.2" r="3.4"/><circle cx="735.0" cy="812.8" r="3.4"/></g><g fill="#38b0f0"><circle cx="738.7" cy="792.5" r="3.4"/><circle cx="749.1" cy="801.7" r="3.4"/><circle cx="808.3" cy="797.2" r="3.4"/><circle cx="793.2" cy="787.3" r="3.4"/><circle cx="748.8" cy="800.0" r="3.4"/><circle cx="730.0" cy="824.2" r="3.4"/><circle cx="730.3" cy="837.9" r="3.4"/><circle cx="708.5" cy="804.9" r="3.4"/><circle cx="720.6" cy="785.4" r="3.4"/><circle cx="749.4" cy="817.7" r="3.4"/></g><g fill="#4a6ee8"><circle cx="739.6" cy="844.3" r="3.4"/><circle cx="764.2" cy="820.9" r="3.4"/><circle cx="689.5" cy="804.4" r="3.4"/><circle cx="747.9" cy="792.1" r="3.4"/><circle cx="815.4" cy="803.7" r="3.4"/><circle cx="732.1" cy="790.2" r="3.4"/><circle cx="794.8" cy="823.1" r="3.4"/><circle cx="786.4" cy="803.6" r="3.4"/><circle cx="745.2" cy="813.5" r="3.4"/><circle cx="770.1" cy="814.3" r="3.4"/><circle cx="731.9" cy="834.0" r="3.4"/><circle cx="779.8" cy="825.6" r="3.4"/><circle cx="732.2" cy="828.4" r="3.4"/><circle cx="800.0" cy="798.2" r="3.4"/><circle cx="758.6" cy="797.2" r="3.4"/><circle cx="746.5" cy="836.1" r="3.4"/><circle cx="723.5" cy="818.0" r="3.4"/><circle cx="690.3" cy="794.0" r="3.4"/><circle cx="759.0" cy="800.7" r="3.4"/></g><g fill="#30c8d8"><circle cx="732.6" cy="819.7" r="3.4"/><circle cx="745.5" cy="809.0" r="3.4"/><circle cx="711.5" cy="827.1" r="3.4"/><circle cx="720.0" cy="808.2" r="3.4"/><circle cx="779.0" cy="817.6" r="3.4"/><circle cx="730.5" cy="841.4" r="3.4"/></g><g fill="#4a70e8"><circle cx="659.2" cy="791.6" r="3.4"/><circle cx="642.5" cy="780.6" r="3.4"/><circle cx="647.3" cy="776.3" r="3.4"/><circle cx="625.6" cy="760.2" r="3.4"/><circle cx="591.6" cy="741.7" r="3.4"/><circle cx="629.3" cy="759.8" r="3.4"/><circle cx="677.2" cy="800.3" r="3.4"/><circle cx="585.5" cy="722.4" r="3.4"/><circle cx="595.3" cy="753.6" r="3.4"/></g><g fill="#3a3a90"><circle cx="583.6" cy="736.1" r="3.4"/><circle cx="562.3" cy="704.6" r="3.4"/><circle cx="592.5" cy="717.7" r="3.4"/><circle cx="589.1" cy="716.1" r="3.4"/><circle cx="657.3" cy="797.5" r="3.4"/><circle cx="668.1" cy="801.9" r="3.4"/><circle cx="572.0" cy="705.0" r="3.4"/><circle cx="622.4" cy="772.8" r="3.4"/><circle cx="669.1" cy="787.9" r="3.4"/><circle cx="641.2" cy="785.5" r="3.4"/></g><g fill="#2a2462"><circle cx="582.6" cy="731.8" r="3.4"/><circle cx="683.1" cy="809.7" r="3.4"/><circle cx="598.3" cy="750.3" r="3.4"/><circle cx="686.8" cy="812.2" r="3.4"/><circle cx="601.2" cy="732.2" r="3.4"/><circle cx="646.2" cy="770.6" r="3.4"/><circle cx="679.7" cy="813.2" r="3.4"/><circle cx="587.3" cy="734.8" r="3.4"/><circle cx="645.6" cy="765.9" r="3.4"/><circle cx="618.4" cy="765.4" r="3.4"/><circle cx="584.3" cy="726.9" r="3.4"/></g><g fill="#ffffff"><circle cx="559.6" cy="734.3" r="3.4"/><circle cx="625.1" cy="767.3" r="3.4"/><circle cx="606.7" cy="748.8" r="3.4"/><circle cx="592.4" cy="747.3" r="3.4"/><circle cx="631.3" cy="777.4" r="3.4"/><circle cx="526.1" cy="734.4" r="3.4"/><circle cx="555.9" cy="723.4" r="3.4"/><circle cx="619.4" cy="770.3" r="3.4"/><circle cx="537.8" cy="738.2" r="3.4"/><circle cx="525.3" cy="732.9" r="3.4"/><circle cx="610.0" cy="759.3" r="3.4"/><circle cx="523.9" cy="739.3" r="3.4"/><circle cx="623.4" cy="770.7" r="3.4"/><circle cx="593.5" cy="749.6" r="3.4"/><circle cx="612.3" cy="767.7" r="3.4"/></g><g fill="#3a3a90"><circle cx="599.6" cy="758.8" r="3.4"/><circle cx="522.6" cy="729.3" r="3.4"/><circle cx="609.5" cy="764.2" r="3.4"/><circle cx="546.5" cy="729.2" r="3.4"/><circle cx="550.4" cy="717.6" r="3.4"/><circle cx="608.0" cy="764.4" r="3.4"/><circle cx="564.0" cy="732.0" r="3.4"/><circle cx="558.9" cy="741.0" r="3.4"/><circle cx="603.2" cy="748.3" r="3.4"/></g><g fill="#1e1650"><circle cx="644.8" cy="790.0" r="3.4"/><circle cx="603.7" cy="760.2" r="3.4"/><circle cx="553.7" cy="706.0" r="3.4"/><circle cx="595.3" cy="748.2" r="3.4"/><circle cx="627.9" cy="770.9" r="3.4"/><circle cx="552.0" cy="738.0" r="3.4"/><circle cx="548.4" cy="738.5" r="3.4"/><circle cx="568.4" cy="733.2" r="3.4"/><circle cx="567.2" cy="736.4" r="3.4"/><circle cx="608.2" cy="749.5" r="3.4"/><circle cx="611.3" cy="758.4" r="3.4"/></g><g fill="#24184a"><circle cx="479.6" cy="721.7" r="3.4"/><circle cx="532.1" cy="739.3" r="3.4"/><circle cx="602.9" cy="746.9" r="3.4"/><circle cx="568.7" cy="756.2" r="3.4"/><circle cx="465.0" cy="721.3" r="3.4"/><circle cx="496.6" cy="713.9" r="3.4"/><circle cx="538.3" cy="727.6" r="3.4"/><circle cx="555.8" cy="716.3" r="3.4"/><circle cx="522.6" cy="710.5" r="3.4"/><circle cx="459.2" cy="657.1" r="3.4"/><circle cx="449.1" cy="669.7" r="3.4"/><circle cx="518.6" cy="646.1" r="3.4"/><circle cx="576.3" cy="719.1" r="3.4"/><circle cx="508.0" cy="731.9" r="3.4"/><circle cx="524.2" cy="710.9" r="3.4"/><circle cx="469.3" cy="641.1" r="3.4"/><circle cx="552.3" cy="750.9" r="3.4"/><circle cx="574.1" cy="749.9" r="3.4"/><circle cx="496.4" cy="698.2" r="3.4"/><circle cx="609.8" cy="754.9" r="3.4"/><circle cx="545.3" cy="749.6" r="3.4"/><circle cx="565.2" cy="714.4" r="3.4"/><circle cx="445.6" cy="655.1" r="3.4"/><circle cx="524.9" cy="681.6" r="3.4"/><circle cx="514.5" cy="724.8" r="3.4"/><circle cx="566.1" cy="739.6" r="3.4"/><circle cx="444.6" cy="694.0" r="3.4"/><circle cx="453.0" cy="678.2" r="3.4"/><circle cx="530.8" cy="729.3" r="3.4"/><circle cx="481.1" cy="743.0" r="3.4"/><circle cx="626.1" cy="772.3" r="3.4"/><circle cx="593.4" cy="767.8" r="3.4"/><circle cx="450.3" cy="705.9" r="3.4"/><circle cx="520.5" cy="740.2" r="3.4"/><circle cx="472.4" cy="648.1" r="3.4"/><circle cx="498.7" cy="696.7" r="3.4"/><circle cx="598.2" cy="738.1" r="3.4"/><circle cx="592.0" cy="762.8" r="3.4"/><circle cx="531.3" cy="646.7" r="3.4"/><circle cx="549.7" cy="708.6" r="3.4"/><circle cx="576.9" cy="743.7" r="3.4"/><circle cx="601.7" cy="757.8" r="3.4"/><circle cx="466.0" cy="732.9" r="3.4"/><circle cx="587.5" cy="734.2" r="3.4"/><circle cx="533.4" cy="707.4" r="3.4"/><circle cx="555.3" cy="742.6" r="3.4"/><circle cx="530.1" cy="676.2" r="3.4"/><circle cx="498.1" cy="715.0" r="3.4"/><circle cx="533.1" cy="670.3" r="3.4"/><circle cx="471.4" cy="677.6" r="3.4"/><circle cx="550.0" cy="751.7" r="3.4"/><circle cx="474.2" cy="687.9" r="3.4"/><circle cx="538.1" cy="677.5" r="3.4"/><circle cx="497.5" cy="727.3" r="3.4"/><circle cx="526.9" cy="712.2" r="3.4"/><circle cx="561.0" cy="727.2" r="3.4"/><circle cx="538.1" cy="718.0" r="3.4"/><circle cx="587.0" cy="736.6" r="3.4"/><circle cx="510.0" cy="740.4" r="3.4"/><circle cx="466.9" cy="648.0" r="3.4"/><circle cx="519.3" cy="650.6" r="3.4"/><circle cx="530.8" cy="661.7" r="3.4"/><circle cx="489.6" cy="734.5" r="3.4"/><circle cx="554.2" cy="707.1" r="3.4"/><circle cx="492.9" cy="743.9" r="3.4"/><circle cx="468.7" cy="660.5" r="3.4"/><circle cx="508.5" cy="746.8" r="3.4"/><circle cx="564.1" cy="705.9" r="3.4"/><circle cx="495.2" cy="725.8" r="3.4"/><circle cx="531.0" cy="688.4" r="3.4"/><circle cx="570.3" cy="720.3" r="3.4"/><circle cx="517.0" cy="718.6" r="3.4"/><circle cx="481.1" cy="732.4" r="3.4"/><circle cx="456.2" cy="689.7" r="3.4"/><circle cx="614.7" cy="763.3" r="3.4"/></g><polyline points="512.0,727.0 525.0,731.0 539.4,736.4 557.0,745.1 574.5,753.9 592.0,762.7 606.7,768.5" fill="none" stroke="#221a55" stroke-width="7.5" stroke-linecap="round" stroke-linejoin="round" stroke-dasharray="0.01 4.1"/><g fill="#24184a"><circle cx="444.0" cy="723.0" r="3.5"/><circle cx="458.0" cy="728.0" r="3.5"/><circle cx="478.0" cy="731.0" r="3.5"/><circle cx="497.0" cy="729.0" r="3.5"/><circle cx="470.0" cy="735.0" r="3.5"/><circle cx="488.0" cy="738.0" r="3.5"/></g><polygon points="700.0,668.0 735.0,655.0 757.0,660.0 758.0,772.0 700.0,772.0 690.0,745.0 694.0,705.0" fill="#3aa4e8"/><g fill="#30c8d8"><circle cx="712.0" cy="727.5" r="3.4"/><circle cx="707.9" cy="678.3" r="3.4"/><circle cx="720.3" cy="666.4" r="3.4"/><circle cx="713.9" cy="701.0" r="3.4"/><circle cx="730.4" cy="696.9" r="3.4"/><circle cx="742.0" cy="685.2" r="3.4"/><circle cx="708.4" cy="671.6" r="3.4"/><circle cx="742.1" cy="739.1" r="3.4"/><circle cx="702.9" cy="708.0" r="3.4"/></g><g fill="#4a62d8"><circle cx="708.0" cy="673.1" r="3.4"/><circle cx="714.9" cy="750.4" r="3.4"/><circle cx="707.0" cy="672.3" r="3.4"/><circle cx="703.9" cy="727.7" r="3.4"/><circle cx="745.6" cy="756.4" r="3.4"/><circle cx="724.0" cy="709.7" r="3.4"/><circle cx="744.5" cy="706.1" r="3.4"/><circle cx="720.5" cy="713.3" r="3.4"/><circle cx="720.7" cy="672.1" r="3.4"/><circle cx="751.1" cy="671.4" r="3.4"/></g><g fill="#3a3a98"><circle cx="730.4" cy="714.1" r="3.4"/><circle cx="731.2" cy="700.5" r="3.4"/><circle cx="699.5" cy="710.9" r="3.4"/><circle cx="707.7" cy="733.7" r="3.4"/><circle cx="722.1" cy="737.0" r="3.4"/><circle cx="704.7" cy="690.4" r="3.4"/><circle cx="710.9" cy="741.5" r="3.4"/><circle cx="735.7" cy="684.6" r="3.4"/><circle cx="723.8" cy="711.4" r="3.4"/><circle cx="731.8" cy="670.0" r="3.4"/></g><g fill="#2cd0c0"><circle cx="713.8" cy="674.5" r="3.4"/><circle cx="744.9" cy="757.1" r="3.4"/><circle cx="729.1" cy="710.7" r="3.4"/><circle cx="708.9" cy="709.7" r="3.4"/><circle cx="711.2" cy="717.6" r="3.4"/><circle cx="724.1" cy="733.6" r="3.4"/><circle cx="736.1" cy="720.0" r="3.4"/><circle cx="697.0" cy="717.6" r="3.4"/></g><g fill="#5070e0"><circle cx="702.9" cy="672.4" r="3.4"/><circle cx="752.1" cy="665.7" r="3.4"/><circle cx="732.4" cy="719.4" r="3.4"/><circle cx="736.6" cy="660.9" r="3.4"/><circle cx="730.7" cy="735.8" r="3.4"/><circle cx="730.3" cy="660.8" r="3.4"/><circle cx="746.4" cy="699.1" r="3.4"/><circle cx="697.1" cy="707.7" r="3.4"/></g><polygon points="745.0,589.0 757.0,585.0 760.0,554.0 766.0,536.0 776.0,510.0 789.0,480.0 809.0,480.0 799.0,493.0 792.0,514.0 785.0,538.0 789.0,563.0 792.0,584.0 790.0,620.0 788.0,648.0 776.0,656.0 762.0,660.0 750.0,672.0 740.0,675.0 735.0,650.0 735.0,630.0 738.0,605.0" fill="#2cc8cc"/><g fill="#ffffff"><circle cx="824.6" cy="696.1" r="3.5"/><circle cx="792.7" cy="695.1" r="3.5"/><circle cx="774.4" cy="695.9" r="3.5"/><circle cx="776.4" cy="693.1" r="3.5"/><circle cx="811.8" cy="691.7" r="3.5"/><circle cx="814.8" cy="686.9" r="3.5"/><circle cx="787.5" cy="692.7" r="3.5"/><circle cx="805.1" cy="691.8" r="3.5"/><circle cx="773.4" cy="658.2" r="3.5"/><circle cx="810.8" cy="680.1" r="3.5"/><circle cx="821.9" cy="692.6" r="3.5"/><circle cx="797.7" cy="671.7" r="3.5"/><circle cx="796.6" cy="694.7" r="3.5"/><circle cx="801.9" cy="680.1" r="3.5"/></g><g fill="#2f2a80"><circle cx="789.8" cy="680.2" r="3.4"/><circle cx="784.7" cy="655.9" r="3.4"/><circle cx="794.3" cy="664.9" r="3.4"/><circle cx="771.2" cy="679.3" r="3.4"/><circle cx="815.6" cy="698.3" r="3.4"/><circle cx="786.0" cy="671.7" r="3.4"/></g><g fill="#60e080"><circle cx="806.4" cy="694.1" r="3.4"/><circle cx="783.6" cy="652.1" r="3.4"/><circle cx="799.1" cy="702.9" r="3.4"/></g><g fill="#3a3a98"><circle cx="772.5" cy="695.3" r="3.4"/><circle cx="799.8" cy="684.0" r="3.4"/><circle cx="821.6" cy="697.9" r="3.4"/><circle cx="804.3" cy="691.8" r="3.4"/></g><g fill="#4a70e8"><circle cx="820.5" cy="693.6" r="3.4"/><circle cx="789.2" cy="690.4" r="3.4"/><circle cx="809.1" cy="686.4" r="3.4"/><circle cx="785.9" cy="650.0" r="3.4"/><circle cx="773.8" cy="661.0" r="3.4"/><circle cx="820.3" cy="690.8" r="3.4"/><circle cx="788.8" cy="679.3" r="3.4"/></g><g fill="#22d6c0"><circle cx="774.7" cy="534.0" r="3.4"/><circle cx="783.0" cy="616.7" r="3.4"/><circle cx="755.5" cy="593.5" r="3.4"/><circle cx="783.2" cy="519.1" r="3.4"/><circle cx="753.4" cy="653.4" r="3.4"/><circle cx="740.5" cy="669.4" r="3.4"/><circle cx="738.3" cy="655.3" r="3.4"/><circle cx="787.6" cy="566.6" r="3.4"/><circle cx="776.3" cy="552.5" r="3.4"/><circle cx="807.1" cy="481.0" r="3.4"/><circle cx="792.6" cy="509.0" r="3.4"/><circle cx="789.1" cy="607.8" r="3.4"/><circle cx="772.6" cy="553.3" r="3.4"/><circle cx="799.9" cy="483.7" r="3.4"/></g><g fill="#40e0a0"><circle cx="804.8" cy="485.0" r="3.4"/><circle cx="757.9" cy="602.3" r="3.4"/><circle cx="775.5" cy="538.5" r="3.4"/><circle cx="781.8" cy="533.9" r="3.4"/><circle cx="744.0" cy="662.2" r="3.4"/><circle cx="806.0" cy="483.5" r="3.4"/><circle cx="747.5" cy="632.8" r="3.4"/><circle cx="775.4" cy="593.6" r="3.4"/><circle cx="769.9" cy="655.6" r="3.4"/><circle cx="783.5" cy="613.8" r="3.4"/><circle cx="803.3" cy="482.6" r="3.4"/><circle cx="763.2" cy="633.5" r="3.4"/><circle cx="753.2" cy="645.3" r="3.4"/><circle cx="745.4" cy="630.4" r="3.4"/><circle cx="748.1" cy="655.9" r="3.4"/><circle cx="771.2" cy="523.1" r="3.4"/><circle cx="764.6" cy="639.4" r="3.4"/><circle cx="767.4" cy="594.7" r="3.4"/><circle cx="786.3" cy="599.9" r="3.4"/><circle cx="785.6" cy="616.0" r="3.4"/></g><g fill="#2c9ee8"><circle cx="741.4" cy="598.1" r="3.4"/><circle cx="794.0" cy="495.8" r="3.4"/><circle cx="774.2" cy="630.9" r="3.4"/><circle cx="760.1" cy="556.5" r="3.4"/><circle cx="785.9" cy="570.6" r="3.4"/><circle cx="743.6" cy="637.9" r="3.4"/><circle cx="763.8" cy="627.9" r="3.4"/><circle cx="780.1" cy="541.1" r="3.4"/><circle cx="767.6" cy="600.4" r="3.4"/><circle cx="746.7" cy="593.9" r="3.4"/><circle cx="764.0" cy="613.0" r="3.4"/><circle cx="757.6" cy="606.1" r="3.4"/></g><g fill="#4a60d8"><circle cx="777.4" cy="652.1" r="3.4"/><circle cx="781.3" cy="534.7" r="3.4"/><circle cx="767.3" cy="594.8" r="3.4"/><circle cx="783.2" cy="648.0" r="3.4"/><circle cx="785.3" cy="495.2" r="3.4"/><circle cx="739.6" cy="623.7" r="3.4"/><circle cx="738.8" cy="661.0" r="3.4"/><circle cx="784.7" cy="544.5" r="3.4"/><circle cx="771.2" cy="648.6" r="3.4"/><circle cx="781.0" cy="652.6" r="3.4"/><circle cx="771.6" cy="546.0" r="3.4"/><circle cx="775.3" cy="574.9" r="3.4"/><circle cx="767.1" cy="598.1" r="3.4"/><circle cx="749.6" cy="634.8" r="3.4"/><circle cx="747.9" cy="652.2" r="3.4"/><circle cx="778.1" cy="601.0" r="3.4"/><circle cx="776.4" cy="615.3" r="3.4"/><circle cx="781.8" cy="529.9" r="3.4"/></g><g fill="#3c2a92"><circle cx="785.1" cy="509.2" r="3.4"/><circle cx="792.3" cy="488.1" r="3.4"/><circle cx="735.8" cy="643.3" r="3.4"/><circle cx="798.9" cy="480.3" r="3.4"/><circle cx="740.7" cy="660.5" r="3.4"/><circle cx="764.9" cy="555.8" r="3.4"/></g><polygon points="956.0,105.0 961.0,109.0 963.4,134.0 964.2,165.0 962.0,196.0 955.0,215.0 945.0,240.0 935.0,262.0 925.0,275.0 912.0,280.0 905.0,275.0 900.0,262.0 908.0,230.0 915.0,200.0 925.0,170.0 935.0,140.0 945.0,115.0" fill="#a8f03c"/><polygon points="957.0,122.0 962.0,126.0 964.0,165.0 963.0,196.0 955.0,205.0 950.0,190.0 952.0,160.0 954.0,140.0" fill="#f2a834" fill-opacity="0.85"/><polygon points="956.0,105.0 947.0,109.0 939.0,121.0 933.0,137.0 927.0,146.0 917.0,162.0 908.0,177.0 898.0,200.0 887.0,227.0 873.0,250.0 869.0,260.0 864.0,270.0 861.0,282.0 856.5,293.0 852.6,303.0 848.0,315.0 844.0,326.0 841.0,338.0 837.0,347.5 829.7,362.0 822.4,381.0 815.0,400.0 809.0,415.0 803.4,429.0 799.0,441.0 794.6,456.0 789.0,480.0 776.0,510.0 766.0,536.0 760.5,554.0 758.0,580.0 757.0,600.0 790.0,620.0 792.0,584.0 789.0,563.0 785.0,538.0 792.0,514.0 799.0,493.0 809.0,480.0 812.0,454.0 818.0,441.0 824.0,429.0 830.0,415.0 834.0,400.0 844.0,388.0 846.0,366.0 856.0,347.5 859.0,330.0 866.6,322.0 868.0,315.0 871.0,305.0 874.0,297.0 877.0,290.0 880.0,280.0 888.0,268.0 891.0,260.0 895.0,250.0 904.0,219.0 907.0,208.0 912.0,195.0 920.0,170.0 930.0,150.0 940.0,125.0" fill="#52ee80"/><polygon points="934.6,120.0 932.6,128.0 930.6,136.0 928.7,144.0 926.7,152.0 924.8,160.0 922.9,168.0 921.0,176.0 919.2,184.0 917.3,192.0 915.5,200.0 913.7,208.0 911.9,216.0 910.1,224.0 908.3,232.0 906.6,240.0 904.9,248.0 903.1,256.0 901.4,264.0 899.8,272.0 898.1,280.0 896.5,288.0 888.0,290.0 884.0,280.0 888.0,268.0 895.0,250.0 904.0,219.0 912.0,195.0 920.0,170.0 930.0,150.0 940.0,125.0" fill="#8cf052"/><g fill="#50f080"><circle cx="893.3" cy="275.4" r="3.6"/><circle cx="922.4" cy="167.1" r="3.6"/><circle cx="884.9" cy="281.0" r="3.6"/><circle cx="913.1" cy="206.9" r="3.6"/><circle cx="895.6" cy="280.4" r="3.6"/><circle cx="932.9" cy="141.9" r="3.6"/><circle cx="909.6" cy="212.2" r="3.6"/><circle cx="911.8" cy="195.7" r="3.6"/><circle cx="896.6" cy="254.7" r="3.6"/><circle cx="928.5" cy="152.2" r="3.6"/><circle cx="894.5" cy="258.2" r="3.6"/><circle cx="897.1" cy="282.1" r="3.6"/></g><g fill="#70f060"><circle cx="890.9" cy="275.2" r="3.6"/><circle cx="901.0" cy="255.6" r="3.6"/><circle cx="917.0" cy="183.8" r="3.6"/><circle cx="899.3" cy="237.6" r="3.6"/><circle cx="888.5" cy="281.9" r="3.6"/><circle cx="909.9" cy="219.4" r="3.6"/><circle cx="899.2" cy="270.9" r="3.6"/><circle cx="893.8" cy="259.7" r="3.6"/><circle cx="908.6" cy="211.3" r="3.6"/><circle cx="901.0" cy="266.1" r="3.6"/></g><g fill="#a8f040"><circle cx="894.2" cy="270.9" r="3.6"/><circle cx="915.9" cy="183.8" r="3.6"/><circle cx="911.4" cy="216.5" r="3.6"/><circle cx="896.4" cy="260.6" r="3.6"/><circle cx="893.9" cy="286.5" r="3.6"/><circle cx="898.9" cy="254.8" r="3.6"/><circle cx="915.1" cy="188.1" r="3.6"/><circle cx="896.6" cy="269.4" r="3.6"/></g><g fill="#c0f040"><circle cx="905.5" cy="242.7" r="3.6"/><circle cx="917.3" cy="179.8" r="3.6"/><circle cx="888.8" cy="276.9" r="3.6"/><circle cx="889.2" cy="284.2" r="3.6"/><circle cx="929.8" cy="141.2" r="3.6"/><circle cx="908.5" cy="230.8" r="3.6"/><circle cx="923.2" cy="165.0" r="3.6"/><circle cx="896.4" cy="281.4" r="3.6"/><circle cx="901.0" cy="251.8" r="3.6"/><circle cx="933.1" cy="142.1" r="3.6"/></g><polygon points="855.0,296.0 851.0,308.0 847.0,320.0 844.0,333.0 838.0,348.0 830.0,366.0 823.0,384.0 816.0,402.0 810.0,416.0 804.0,431.0 799.0,445.0 794.0,460.0 790.0,478.0 779.0,506.0 770.0,532.0 764.0,552.0 762.0,575.0 770.0,578.0 775.0,545.0 783.0,520.0 793.0,497.0 800.0,482.0 806.0,462.0 812.0,446.0 819.0,432.0 826.0,417.0 833.0,402.0 839.0,388.0 843.0,370.0 851.0,353.0 856.0,338.0 862.0,324.0 866.0,310.0" fill="#34e0a8"/><polygon points="789.0,480.0 809.0,480.0 799.0,493.0 792.0,514.0 785.0,538.0 789.0,563.0 792.0,584.0 790.0,620.0 760.0,620.0 758.0,580.0 760.5,554.0 766.0,536.0 776.0,510.0" fill="#26d8c8"/><g fill="#3c2a92"><circle cx="770.4" cy="550.3" r="3.4"/><circle cx="772.2" cy="577.6" r="3.4"/><circle cx="759.7" cy="574.6" r="3.4"/><circle cx="782.7" cy="615.9" r="3.4"/></g><g fill="#1ae8e0"><circle cx="770.6" cy="619.1" r="3.4"/><circle cx="771.0" cy="601.4" r="3.4"/><circle cx="786.0" cy="568.0" r="3.4"/><circle cx="764.0" cy="586.8" r="3.4"/><circle cx="782.2" cy="551.7" r="3.4"/><circle cx="785.0" cy="603.1" r="3.4"/><circle cx="769.5" cy="582.0" r="3.4"/></g><g fill="#40e0a0"><circle cx="801.5" cy="484.0" r="3.4"/><circle cx="775.7" cy="522.0" r="3.4"/><circle cx="766.9" cy="618.1" r="3.4"/><circle cx="788.1" cy="618.6" r="3.4"/><circle cx="763.1" cy="593.2" r="3.4"/><circle cx="800.8" cy="483.8" r="3.4"/><circle cx="778.8" cy="605.3" r="3.4"/></g><polygon points="947.0,109.0 939.0,121.0 933.0,137.0 927.0,146.0 917.0,162.0 908.0,177.0 898.0,200.0 887.0,227.0 873.0,250.0 869.0,260.0 878.0,262.0 888.0,245.0 895.0,232.0 904.0,219.0 907.0,208.0 912.0,195.0 920.0,170.0 930.0,150.0 940.0,125.0" fill="#74f062" fill-opacity="0.90"/><g fill="#50f070"><circle cx="863.6" cy="293.3" r="3.4"/><circle cx="792.8" cy="506.6" r="3.4"/><circle cx="810.7" cy="464.0" r="3.4"/><circle cx="890.8" cy="244.3" r="3.4"/><circle cx="784.8" cy="614.6" r="3.4"/><circle cx="895.0" cy="223.4" r="3.4"/><circle cx="866.3" cy="265.5" r="3.4"/><circle cx="885.3" cy="252.4" r="3.4"/><circle cx="770.0" cy="530.4" r="3.4"/><circle cx="845.9" cy="330.8" r="3.4"/><circle cx="784.1" cy="546.4" r="3.4"/><circle cx="871.9" cy="290.5" r="3.4"/><circle cx="788.7" cy="574.5" r="3.4"/><circle cx="874.5" cy="292.2" r="3.4"/><circle cx="763.7" cy="593.9" r="3.4"/><circle cx="777.3" cy="600.6" r="3.4"/><circle cx="834.4" cy="357.3" r="3.4"/><circle cx="867.3" cy="314.1" r="3.4"/><circle cx="788.3" cy="579.1" r="3.4"/><circle cx="899.7" cy="205.5" r="3.4"/><circle cx="896.1" cy="205.5" r="3.4"/><circle cx="829.5" cy="378.4" r="3.4"/><circle cx="776.8" cy="570.5" r="3.4"/><circle cx="761.5" cy="552.1" r="3.4"/><circle cx="795.4" cy="475.1" r="3.4"/></g><g fill="#30e0a0"><circle cx="907.7" cy="183.3" r="3.4"/><circle cx="767.7" cy="568.3" r="3.4"/><circle cx="781.4" cy="542.2" r="3.4"/><circle cx="867.7" cy="272.9" r="3.4"/><circle cx="785.5" cy="559.7" r="3.4"/><circle cx="786.7" cy="578.4" r="3.4"/><circle cx="802.9" cy="439.7" r="3.4"/><circle cx="855.3" cy="302.0" r="3.4"/><circle cx="773.0" cy="585.7" r="3.4"/><circle cx="761.0" cy="553.4" r="3.4"/><circle cx="839.4" cy="374.9" r="3.4"/><circle cx="771.6" cy="584.1" r="3.4"/><circle cx="897.3" cy="205.8" r="3.4"/><circle cx="867.0" cy="272.8" r="3.4"/><circle cx="853.2" cy="315.2" r="3.4"/><circle cx="785.4" cy="520.3" r="3.4"/><circle cx="767.6" cy="582.0" r="3.4"/><circle cx="849.6" cy="335.1" r="3.4"/><circle cx="766.7" cy="547.0" r="3.4"/><circle cx="766.6" cy="563.0" r="3.4"/><circle cx="860.8" cy="316.3" r="3.4"/><circle cx="798.8" cy="457.4" r="3.4"/><circle cx="883.9" cy="235.0" r="3.4"/><circle cx="883.7" cy="258.0" r="3.4"/><circle cx="799.3" cy="448.5" r="3.4"/><circle cx="830.1" cy="401.1" r="3.4"/><circle cx="786.3" cy="607.3" r="3.4"/><circle cx="774.9" cy="579.3" r="3.4"/><circle cx="903.5" cy="197.8" r="3.4"/><circle cx="760.1" cy="573.8" r="3.4"/><circle cx="890.2" cy="221.1" r="3.4"/><circle cx="819.2" cy="424.3" r="3.4"/><circle cx="870.0" cy="265.1" r="3.4"/></g><g fill="#24d8c0"><circle cx="830.5" cy="396.7" r="3.4"/><circle cx="852.8" cy="311.2" r="3.4"/><circle cx="907.9" cy="205.5" r="3.4"/><circle cx="787.1" cy="571.0" r="3.4"/><circle cx="911.4" cy="182.1" r="3.4"/><circle cx="836.3" cy="355.9" r="3.4"/><circle cx="763.9" cy="559.4" r="3.4"/><circle cx="925.9" cy="152.7" r="3.4"/><circle cx="885.5" cy="261.4" r="3.4"/><circle cx="872.0" cy="292.8" r="3.4"/><circle cx="830.8" cy="364.8" r="3.4"/><circle cx="886.2" cy="263.7" r="3.4"/><circle cx="783.8" cy="587.3" r="3.4"/><circle cx="775.1" cy="527.2" r="3.4"/><circle cx="802.5" cy="476.9" r="3.4"/><circle cx="789.0" cy="507.6" r="3.4"/><circle cx="774.0" cy="567.0" r="3.4"/><circle cx="787.4" cy="570.6" r="3.4"/><circle cx="865.2" cy="298.7" r="3.4"/><circle cx="796.9" cy="491.3" r="3.4"/><circle cx="872.0" cy="289.8" r="3.4"/><circle cx="917.1" cy="174.2" r="3.4"/><circle cx="838.5" cy="363.0" r="3.4"/><circle cx="809.9" cy="438.1" r="3.4"/><circle cx="765.8" cy="584.4" r="3.4"/><circle cx="873.9" cy="294.5" r="3.4"/><circle cx="837.4" cy="367.7" r="3.4"/><circle cx="818.9" cy="433.7" r="3.4"/></g><g fill="#6af060"><circle cx="785.7" cy="491.1" r="3.4"/><circle cx="808.6" cy="461.6" r="3.4"/><circle cx="824.5" cy="389.8" r="3.4"/><circle cx="783.4" cy="527.4" r="3.4"/><circle cx="777.2" cy="534.9" r="3.4"/><circle cx="809.2" cy="474.1" r="3.4"/><circle cx="869.8" cy="297.1" r="3.4"/><circle cx="939.0" cy="125.8" r="3.4"/><circle cx="765.7" cy="575.1" r="3.4"/><circle cx="782.9" cy="579.9" r="3.4"/><circle cx="907.5" cy="186.8" r="3.4"/><circle cx="889.4" cy="243.9" r="3.4"/><circle cx="843.8" cy="374.6" r="3.4"/><circle cx="778.7" cy="574.4" r="3.4"/><circle cx="781.9" cy="534.4" r="3.4"/><circle cx="768.4" cy="531.4" r="3.4"/><circle cx="913.0" cy="177.3" r="3.4"/><circle cx="759.3" cy="595.2" r="3.4"/><circle cx="837.3" cy="364.4" r="3.4"/><circle cx="785.8" cy="496.1" r="3.4"/><circle cx="836.2" cy="373.3" r="3.4"/><circle cx="793.0" cy="466.0" r="3.4"/><circle cx="762.5" cy="578.3" r="3.4"/><circle cx="836.7" cy="394.0" r="3.4"/><circle cx="884.7" cy="241.9" r="3.4"/><circle cx="844.6" cy="368.5" r="3.4"/><circle cx="866.2" cy="293.9" r="3.4"/><circle cx="847.0" cy="340.8" r="3.4"/><circle cx="867.5" cy="303.0" r="3.4"/><circle cx="828.2" cy="411.3" r="3.4"/><circle cx="853.9" cy="331.7" r="3.4"/><circle cx="887.5" cy="256.9" r="3.4"/><circle cx="900.0" cy="219.0" r="3.4"/><circle cx="770.5" cy="575.6" r="3.4"/></g><polyline points="943.2,195.6 941.6,211.2 937.0,226.8 932.3,242.4 927.6,258.0 927.6,263.0" fill="none" stroke="#f4a030" stroke-width="6.5" stroke-linecap="round" stroke-linejoin="round" stroke-dasharray="0.01 3.6"/><g fill="#f09a30"><circle cx="927.6" cy="275.1" r="3.5"/><circle cx="920.6" cy="287.6" r="3.5"/><circle cx="918.2" cy="303.2" r="3.5"/><circle cx="910.4" cy="317.2" r="3.5"/><circle cx="913.6" cy="329.7" r="3.5"/><circle cx="920.3" cy="367.7" r="3.5"/><circle cx="928.0" cy="254.5" r="3.5"/></g><polygon points="953.0,196.0 961.0,196.0 961.0,226.0 958.5,258.0 956.5,289.0 955.0,330.0 954.0,362.0 950.0,366.0 946.5,362.0 947.5,330.0 949.0,289.0 950.5,258.0 952.0,226.0" fill="#7c0a06"/><g fill="#7c0a06"><circle cx="941.6" cy="268.1" r="3.5"/></g><g fill="#e84a10"><circle cx="965.0" cy="195.6" r="3.5"/></g><g fill="#c0e840"><circle cx="898.6" cy="392.0" r="3.8"/><circle cx="908.8" cy="359.2" r="3.8"/><circle cx="903.4" cy="408.1" r="3.8"/><circle cx="894.9" cy="449.3" r="3.8"/><circle cx="899.9" cy="476.1" r="3.8"/><circle cx="896.3" cy="356.8" r="3.8"/><circle cx="909.2" cy="354.3" r="3.8"/><circle cx="925.7" cy="307.1" r="3.8"/><circle cx="880.4" cy="470.0" r="3.8"/><circle cx="884.6" cy="428.0" r="3.8"/><circle cx="884.7" cy="444.7" r="3.8"/></g><g fill="#a0f040"><circle cx="898.6" cy="451.0" r="3.8"/><circle cx="913.0" cy="403.1" r="3.8"/><circle cx="921.8" cy="345.3" r="3.8"/><circle cx="916.8" cy="343.1" r="3.8"/><circle cx="896.3" cy="393.2" r="3.8"/><circle cx="895.6" cy="464.6" r="3.8"/><circle cx="898.3" cy="318.1" r="3.8"/><circle cx="907.5" cy="288.4" r="3.8"/></g><g fill="#7af050"><circle cx="872.9" cy="441.9" r="3.8"/><circle cx="913.0" cy="361.4" r="3.8"/><circle cx="902.9" cy="286.0" r="3.8"/><circle cx="915.2" cy="322.7" r="3.8"/><circle cx="921.8" cy="334.0" r="3.8"/><circle cx="881.3" cy="407.3" r="3.8"/><circle cx="909.4" cy="364.3" r="3.8"/></g><g fill="#5cf060"><circle cx="896.4" cy="322.6" r="3.8"/><circle cx="921.4" cy="345.8" r="3.8"/></g><g fill="#7af050"><circle cx="834.3" cy="458.0" r="3.9"/><circle cx="831.0" cy="554.1" r="3.9"/><circle cx="834.3" cy="545.7" r="3.9"/><circle cx="825.8" cy="441.8" r="3.9"/><circle cx="833.6" cy="549.6" r="3.9"/><circle cx="846.4" cy="555.0" r="3.9"/><circle cx="878.9" cy="363.7" r="3.9"/><circle cx="844.4" cy="470.6" r="3.9"/><circle cx="867.3" cy="401.4" r="3.9"/><circle cx="854.0" cy="358.1" r="3.9"/><circle cx="847.1" cy="529.0" r="3.9"/><circle cx="854.7" cy="395.6" r="3.9"/></g><g fill="#44f07a"><circle cx="814.2" cy="514.9" r="3.9"/><circle cx="848.0" cy="535.6" r="3.9"/><circle cx="833.2" cy="454.1" r="3.9"/><circle cx="879.1" cy="347.6" r="3.9"/><circle cx="848.9" cy="469.6" r="3.9"/><circle cx="813.3" cy="466.2" r="3.9"/><circle cx="799.6" cy="517.9" r="3.9"/><circle cx="857.0" cy="385.1" r="3.9"/><circle cx="866.1" cy="335.8" r="3.9"/></g><g fill="#3ce690"><circle cx="833.5" cy="412.6" r="3.9"/><circle cx="848.3" cy="407.6" r="3.9"/><circle cx="865.4" cy="359.4" r="3.9"/><circle cx="833.6" cy="427.2" r="3.9"/><circle cx="849.7" cy="474.6" r="3.9"/><circle cx="811.2" cy="506.4" r="3.9"/><circle cx="850.7" cy="504.7" r="3.9"/><circle cx="838.4" cy="545.7" r="3.9"/><circle cx="822.2" cy="471.6" r="3.9"/><circle cx="874.5" cy="383.7" r="3.9"/><circle cx="851.7" cy="404.3" r="3.9"/><circle cx="805.0" cy="522.5" r="3.9"/><circle cx="869.3" cy="345.3" r="3.9"/></g><g fill="#5cf060"><circle cx="860.9" cy="474.4" r="3.9"/><circle cx="858.6" cy="384.8" r="3.9"/><circle cx="871.0" cy="371.9" r="3.9"/><circle cx="815.9" cy="489.8" r="3.9"/><circle cx="861.4" cy="364.5" r="3.9"/><circle cx="822.2" cy="489.8" r="3.9"/><circle cx="852.5" cy="401.9" r="3.9"/><circle cx="859.7" cy="336.1" r="3.9"/><circle cx="848.6" cy="468.7" r="3.9"/><circle cx="848.6" cy="387.5" r="3.9"/><circle cx="847.0" cy="423.1" r="3.9"/></g><g fill="#50f068"><circle cx="831.5" cy="544.0" r="3.9"/><circle cx="823.0" cy="542.9" r="3.9"/><circle cx="841.0" cy="394.4" r="3.9"/><circle cx="861.5" cy="353.4" r="3.9"/><circle cx="821.0" cy="470.9" r="3.9"/><circle cx="831.4" cy="544.2" r="3.9"/><circle cx="840.8" cy="448.7" r="3.9"/><circle cx="829.0" cy="470.2" r="3.9"/><circle cx="854.2" cy="467.5" r="3.9"/><circle cx="805.7" cy="517.0" r="3.9"/></g><g fill="#5cf060"><circle cx="834.4" cy="586.8" r="3.9"/><circle cx="821.8" cy="586.5" r="3.9"/><circle cx="800.6" cy="654.5" r="3.9"/><circle cx="816.9" cy="591.0" r="3.9"/><circle cx="831.6" cy="584.8" r="3.9"/><circle cx="811.3" cy="671.6" r="3.9"/><circle cx="800.5" cy="670.5" r="3.9"/><circle cx="806.3" cy="565.2" r="3.9"/><circle cx="810.0" cy="600.3" r="3.9"/><circle cx="807.6" cy="686.8" r="3.9"/><circle cx="826.1" cy="569.1" r="3.9"/><circle cx="800.2" cy="660.2" r="3.9"/><circle cx="815.5" cy="637.6" r="3.9"/><circle cx="795.7" cy="629.4" r="3.9"/><circle cx="818.6" cy="656.1" r="3.9"/><circle cx="826.8" cy="616.5" r="3.9"/><circle cx="799.4" cy="684.0" r="3.9"/><circle cx="824.1" cy="589.4" r="3.9"/><circle cx="814.8" cy="645.6" r="3.9"/><circle cx="811.2" cy="702.0" r="3.9"/><circle cx="818.1" cy="637.4" r="3.9"/><circle cx="813.8" cy="688.6" r="3.9"/><circle cx="821.6" cy="615.5" r="3.9"/><circle cx="806.5" cy="669.2" r="3.9"/><circle cx="803.4" cy="574.6" r="3.9"/><circle cx="832.6" cy="566.8" r="3.9"/><circle cx="799.6" cy="577.4" r="3.9"/></g><g fill="#50f068"><circle cx="795.0" cy="633.2" r="3.9"/><circle cx="815.7" cy="647.2" r="3.9"/><circle cx="797.5" cy="673.4" r="3.9"/><circle cx="830.4" cy="617.3" r="3.9"/><circle cx="808.6" cy="560.3" r="3.9"/><circle cx="812.7" cy="709.4" r="3.9"/><circle cx="805.6" cy="631.2" r="3.9"/><circle cx="818.0" cy="645.2" r="3.9"/><circle cx="831.6" cy="562.6" r="3.9"/><circle cx="823.8" cy="616.3" r="3.9"/><circle cx="806.0" cy="574.6" r="3.9"/><circle cx="801.1" cy="637.4" r="3.9"/><circle cx="818.1" cy="601.1" r="3.9"/><circle cx="805.9" cy="623.5" r="3.9"/><circle cx="793.0" cy="606.0" r="3.9"/><circle cx="817.9" cy="685.0" r="3.9"/><circle cx="814.1" cy="571.6" r="3.9"/><circle cx="826.8" cy="615.0" r="3.9"/><circle cx="804.2" cy="652.4" r="3.9"/><circle cx="805.3" cy="675.5" r="3.9"/><circle cx="802.0" cy="615.0" r="3.9"/><circle cx="818.6" cy="586.9" r="3.9"/><circle cx="809.5" cy="582.6" r="3.9"/></g><g fill="#7af050"><circle cx="822.8" cy="671.4" r="3.9"/><circle cx="808.5" cy="705.6" r="3.9"/><circle cx="801.2" cy="575.8" r="3.9"/><circle cx="811.0" cy="635.8" r="3.9"/><circle cx="808.5" cy="670.7" r="3.9"/><circle cx="822.3" cy="571.7" r="3.9"/><circle cx="808.6" cy="607.4" r="3.9"/><circle cx="822.7" cy="678.1" r="3.9"/><circle cx="814.4" cy="562.6" r="3.9"/><circle cx="809.8" cy="564.4" r="3.9"/><circle cx="794.7" cy="585.5" r="3.9"/><circle cx="817.3" cy="603.7" r="3.9"/><circle cx="792.0" cy="606.5" r="3.9"/><circle cx="799.6" cy="621.3" r="3.9"/><circle cx="808.0" cy="706.4" r="3.9"/><circle cx="828.2" cy="584.0" r="3.9"/><circle cx="801.4" cy="691.5" r="3.9"/><circle cx="814.9" cy="646.0" r="3.9"/><circle cx="833.1" cy="567.9" r="3.9"/><circle cx="813.5" cy="603.2" r="3.9"/><circle cx="820.9" cy="672.3" r="3.9"/></g><g fill="#44f07a"><circle cx="806.7" cy="699.6" r="3.9"/><circle cx="794.1" cy="602.9" r="3.9"/><circle cx="830.0" cy="622.9" r="3.9"/><circle cx="826.6" cy="597.0" r="3.9"/><circle cx="804.4" cy="698.6" r="3.9"/><circle cx="823.9" cy="648.5" r="3.9"/><circle cx="824.2" cy="584.4" r="3.9"/><circle cx="798.8" cy="583.6" r="3.9"/><circle cx="813.4" cy="573.3" r="3.9"/><circle cx="812.5" cy="601.2" r="3.9"/><circle cx="819.0" cy="561.7" r="3.9"/><circle cx="806.3" cy="560.9" r="3.9"/><circle cx="820.8" cy="644.5" r="3.9"/><circle cx="823.6" cy="566.2" r="3.9"/><circle cx="815.5" cy="603.6" r="3.9"/><circle cx="795.8" cy="576.1" r="3.9"/><circle cx="810.2" cy="627.5" r="3.9"/><circle cx="802.9" cy="602.4" r="3.9"/></g><g fill="#3ce690"><circle cx="804.0" cy="605.0" r="3.9"/><circle cx="821.0" cy="580.6" r="3.9"/><circle cx="808.7" cy="681.2" r="3.9"/><circle cx="798.5" cy="634.3" r="3.9"/><circle cx="789.4" cy="561.7" r="3.9"/><circle cx="792.6" cy="626.5" r="3.9"/><circle cx="815.1" cy="579.3" r="3.9"/><circle cx="806.2" cy="676.3" r="3.9"/><circle cx="792.1" cy="570.9" r="3.9"/><circle cx="817.3" cy="637.3" r="3.9"/><circle cx="827.4" cy="642.5" r="3.9"/><circle cx="829.1" cy="602.7" r="3.9"/><circle cx="808.5" cy="578.4" r="3.9"/><circle cx="802.9" cy="705.2" r="3.9"/><circle cx="803.0" cy="709.9" r="3.9"/><circle cx="799.0" cy="631.5" r="3.9"/></g><g fill="#a0f040"><circle cx="793.8" cy="562.5" r="3.9"/><circle cx="820.3" cy="611.6" r="3.9"/><circle cx="820.0" cy="622.4" r="3.9"/><circle cx="816.4" cy="672.1" r="3.9"/><circle cx="821.9" cy="608.4" r="3.9"/><circle cx="797.0" cy="693.6" r="3.9"/><circle cx="809.3" cy="625.6" r="3.9"/><circle cx="805.9" cy="581.9" r="3.9"/><circle cx="824.8" cy="600.4" r="3.9"/><circle cx="804.1" cy="632.6" r="3.9"/><circle cx="806.9" cy="646.1" r="3.9"/><circle cx="814.2" cy="667.7" r="3.9"/><circle cx="820.9" cy="692.2" r="3.9"/><circle cx="822.3" cy="633.4" r="3.9"/><circle cx="811.5" cy="594.3" r="3.9"/></g><polygon points="839.7,540.0 837.6,555.0 835.6,570.0 833.7,585.0 831.8,600.0 830.0,615.0 828.2,630.0 826.5,645.0 824.9,660.0 823.3,675.0 821.8,690.0 820.3,705.0 818.9,720.0 817.6,735.0 829.2,745.0 830.5,730.0 831.9,715.0 833.3,700.0 834.8,685.0 836.3,670.0 837.9,655.0 839.6,640.0 841.3,625.0 843.1,610.0 844.9,595.0 846.8,580.0 848.8,565.0 850.8,550.0" fill="#b4f03e" fill-opacity="0.85"/><g fill="#c8f038"><circle cx="833.4" cy="674.8" r="3.6"/><circle cx="839.6" cy="613.1" r="3.6"/><circle cx="840.7" cy="547.6" r="3.6"/><circle cx="834.7" cy="615.5" r="3.6"/><circle cx="828.3" cy="701.4" r="3.6"/><circle cx="834.3" cy="640.4" r="3.6"/><circle cx="828.6" cy="680.7" r="3.6"/><circle cx="823.6" cy="676.8" r="3.6"/><circle cx="828.3" cy="642.5" r="3.6"/></g><g fill="#e8c830"><circle cx="837.6" cy="654.4" r="3.6"/><circle cx="836.7" cy="580.9" r="3.6"/><circle cx="830.9" cy="625.9" r="3.6"/><circle cx="833.2" cy="664.9" r="3.6"/><circle cx="823.9" cy="693.4" r="3.6"/><circle cx="838.8" cy="587.1" r="3.6"/><circle cx="826.8" cy="733.5" r="3.6"/><circle cx="834.2" cy="619.7" r="3.6"/><circle cx="845.2" cy="586.6" r="3.6"/><circle cx="844.3" cy="598.6" r="3.6"/></g><g fill="#d8e030"><circle cx="823.0" cy="725.7" r="3.6"/><circle cx="844.1" cy="557.9" r="3.6"/><circle cx="836.0" cy="644.0" r="3.6"/><circle cx="846.1" cy="546.7" r="3.6"/><circle cx="830.5" cy="698.2" r="3.6"/><circle cx="842.6" cy="585.2" r="3.6"/><circle cx="834.1" cy="663.4" r="3.6"/><circle cx="832.5" cy="666.5" r="3.6"/><circle cx="835.6" cy="667.5" r="3.6"/><circle cx="834.9" cy="630.2" r="3.6"/><circle cx="840.2" cy="611.8" r="3.6"/></g><g fill="#70f060"><circle cx="840.4" cy="609.1" r="3.6"/><circle cx="831.7" cy="631.0" r="3.6"/><circle cx="824.6" cy="662.8" r="3.6"/><circle cx="824.5" cy="667.7" r="3.6"/><circle cx="838.6" cy="574.9" r="3.6"/></g><g fill="#a0f040"><circle cx="826.3" cy="734.1" r="3.6"/><circle cx="838.9" cy="631.2" r="3.6"/><circle cx="838.8" cy="618.9" r="3.6"/><circle cx="827.4" cy="645.9" r="3.6"/><circle cx="834.2" cy="683.1" r="3.6"/></g><g fill="#e8c030"><circle cx="851.1" cy="527.0" r="3.6"/><circle cx="865.1" cy="524.9" r="3.6"/><circle cx="866.4" cy="513.2" r="3.6"/><circle cx="857.6" cy="531.5" r="3.6"/><circle cx="863.4" cy="496.6" r="3.6"/><circle cx="862.4" cy="512.8" r="3.6"/><circle cx="860.4" cy="524.0" r="3.6"/><circle cx="862.6" cy="514.8" r="3.6"/><circle cx="866.2" cy="466.8" r="3.6"/></g><g fill="#e0e030"><circle cx="864.7" cy="474.7" r="3.6"/><circle cx="864.3" cy="503.7" r="3.6"/><circle cx="867.6" cy="477.2" r="3.6"/><circle cx="863.0" cy="539.7" r="3.6"/></g><g fill="#c0e840"><circle cx="860.8" cy="477.5" r="3.6"/><circle cx="845.0" cy="538.4" r="3.6"/><circle cx="865.2" cy="491.3" r="3.6"/><circle cx="854.6" cy="494.0" r="3.6"/><circle cx="868.1" cy="481.4" r="3.6"/><circle cx="849.1" cy="544.6" r="3.6"/><circle cx="862.5" cy="517.1" r="3.6"/></g><g fill="#f0b030"><circle cx="851.0" cy="544.2" r="3.6"/><circle cx="864.6" cy="471.8" r="3.6"/></g><g fill="#e0d030"><circle cx="873.2" cy="459.0" r="3.7"/><circle cx="869.7" cy="497.1" r="3.7"/><circle cx="879.3" cy="400.7" r="3.7"/><circle cx="874.8" cy="444.0" r="3.7"/><circle cx="879.1" cy="403.3" r="3.7"/><circle cx="881.7" cy="424.4" r="3.7"/></g><g fill="#f4a030"><circle cx="876.5" cy="488.2" r="3.7"/><circle cx="870.4" cy="487.2" r="3.7"/><circle cx="883.6" cy="373.6" r="3.7"/><circle cx="883.0" cy="452.9" r="3.7"/><circle cx="870.2" cy="473.8" r="3.7"/><circle cx="877.3" cy="477.5" r="3.7"/><circle cx="880.5" cy="437.8" r="3.7"/><circle cx="872.8" cy="469.0" r="3.7"/><circle cx="890.4" cy="403.4" r="3.7"/></g><g fill="#e8c030"><circle cx="885.0" cy="437.1" r="3.7"/><circle cx="882.1" cy="456.3" r="3.7"/><circle cx="880.3" cy="393.7" r="3.7"/><circle cx="869.6" cy="460.0" r="3.7"/><circle cx="888.3" cy="389.1" r="3.7"/></g><g fill="#f0b030"><circle cx="894.4" cy="382.3" r="3.7"/><circle cx="866.1" cy="476.4" r="3.7"/><circle cx="877.7" cy="470.6" r="3.7"/><circle cx="866.9" cy="486.6" r="3.7"/><circle cx="875.4" cy="499.3" r="3.7"/><circle cx="895.2" cy="378.9" r="3.7"/></g><polygon points="830.7,790.0 830.7,775.8 832.9,765.1 836.1,756.5 837.2,752.2 840.4,745.8 844.7,747.9 847.9,758.6 849.0,773.6 851.0,790.0" fill="#3f60e8"/><polygon points="851.0,792.0 852.2,781.2 853.2,773.6 855.4,760.8 859.7,754.3 862.9,745.8 865.0,737.2 865.0,720.0 870.4,717.9 876.8,722.2 877.9,730.8 882.2,735.0 883.3,743.6 882.2,754.3 883.3,765.1 882.2,775.8 880.0,781.2 882.0,795.0" fill="#2cc6d6"/><polygon points="852.0,795.0 853.0,782.0 865.0,778.0 880.0,781.0 884.0,796.0" fill="#24e0ee"/><polygon points="810.3,794.0 824.5,802.1 832.6,814.3 834.6,830.4 840.7,842.6 850.8,854.7 860.9,864.8 873.0,874.9 887.2,881.0 899.3,887.0 911.4,879.0 923.6,864.8 935.7,850.7 941.7,842.6 951.9,836.5 966.0,832.5 980.2,828.4 990.3,825.4 992.3,822.3 982.2,819.3 968.0,818.3 953.9,820.3 941.7,824.4 933.7,822.3 925.6,814.3 917.5,810.2 909.4,810.2 901.3,808.2 889.2,808.2 877.0,808.2 864.9,806.2 850.8,802.1 840.7,798.1 830.5,792.0" fill="#40e6a0"/><polygon points="870.0,860.0 885.0,850.0 900.0,840.0 915.0,830.0 935.0,825.0 950.0,822.0 968.0,819.0 990.0,822.0 990.0,826.0 966.0,832.5 951.9,836.5 941.7,842.6 923.6,864.8 911.4,879.0 899.3,887.0 887.0,881.0 875.0,872.0" fill="#8cf052"/><polygon points="950.0,822.0 968.0,818.3 982.0,819.3 992.0,822.3 990.0,826.0 980.0,828.4 966.0,832.0 952.0,833.0" fill="#b4ee40"/><g fill="#e04018"><circle cx="988.0" cy="824.0" r="3.8"/></g><g fill="#f0a030"><circle cx="982.0" cy="823.0" r="3.0"/></g><g fill="#48e0a8"><circle cx="902.4" cy="835.1" r="3.6"/><circle cx="839.3" cy="834.8" r="3.6"/><circle cx="903.8" cy="820.3" r="3.6"/><circle cx="851.5" cy="802.9" r="3.6"/><circle cx="879.7" cy="814.9" r="3.6"/><circle cx="870.9" cy="824.8" r="3.6"/><circle cx="856.6" cy="821.4" r="3.6"/><circle cx="894.8" cy="844.3" r="3.6"/><circle cx="927.0" cy="853.8" r="3.6"/><circle cx="887.5" cy="876.1" r="3.6"/><circle cx="858.4" cy="818.4" r="3.6"/><circle cx="859.6" cy="849.2" r="3.6"/><circle cx="914.5" cy="828.2" r="3.6"/><circle cx="909.2" cy="879.9" r="3.6"/></g><g fill="#30d8c0"><circle cx="907.0" cy="837.5" r="3.6"/><circle cx="891.9" cy="858.2" r="3.6"/><circle cx="916.8" cy="860.4" r="3.6"/><circle cx="942.1" cy="828.3" r="3.6"/><circle cx="888.0" cy="810.6" r="3.6"/><circle cx="875.9" cy="830.0" r="3.6"/><circle cx="837.0" cy="832.2" r="3.6"/><circle cx="891.8" cy="821.0" r="3.6"/><circle cx="871.8" cy="844.7" r="3.6"/><circle cx="962.0" cy="831.0" r="3.6"/><circle cx="870.9" cy="817.2" r="3.6"/><circle cx="910.8" cy="848.3" r="3.6"/><circle cx="882.8" cy="865.1" r="3.6"/><circle cx="868.7" cy="821.0" r="3.6"/></g><g fill="#60e890"><circle cx="934.5" cy="849.3" r="3.6"/><circle cx="891.5" cy="861.1" r="3.6"/><circle cx="875.9" cy="867.0" r="3.6"/><circle cx="896.0" cy="820.8" r="3.6"/><circle cx="890.2" cy="877.3" r="3.6"/><circle cx="893.4" cy="878.3" r="3.6"/><circle cx="863.3" cy="865.4" r="3.6"/><circle cx="875.5" cy="817.8" r="3.6"/><circle cx="878.4" cy="873.3" r="3.6"/><circle cx="857.2" cy="831.7" r="3.6"/></g><g fill="#90f060"><circle cx="873.9" cy="825.2" r="3.6"/><circle cx="936.1" cy="825.6" r="3.6"/><circle cx="894.3" cy="883.7" r="3.6"/><circle cx="915.6" cy="829.5" r="3.6"/><circle cx="883.6" cy="860.3" r="3.6"/><circle cx="871.9" cy="820.7" r="3.6"/><circle cx="839.1" cy="806.3" r="3.6"/><circle cx="830.5" cy="809.9" r="3.6"/><circle cx="888.2" cy="823.1" r="3.6"/><circle cx="893.1" cy="851.8" r="3.6"/><circle cx="870.8" cy="819.3" r="3.6"/><circle cx="869.9" cy="860.0" r="3.6"/><circle cx="958.7" cy="827.2" r="3.6"/></g><g fill="#2ec8e0"><circle cx="935.8" cy="827.2" r="3.6"/><circle cx="906.2" cy="855.1" r="3.6"/><circle cx="871.2" cy="809.8" r="3.6"/><circle cx="946.7" cy="835.3" r="3.6"/><circle cx="909.5" cy="823.0" r="3.6"/><circle cx="869.9" cy="859.9" r="3.6"/><circle cx="867.5" cy="863.5" r="3.6"/><circle cx="877.2" cy="865.2" r="3.6"/><circle cx="889.4" cy="836.0" r="3.6"/></g><g fill="#ffffff"><circle cx="900.0" cy="866.0" r="2.6"/><circle cx="884.0" cy="852.0" r="2.6"/><circle cx="915.0" cy="850.0" r="2.6"/></g><polygon points="843.0,817.5 912.0,817.5 912.0,823.5 843.0,823.5" fill="#34e6f2"/><polyline points="782.2,856.4 788.3,851.3 794.3,847.3 799.4,845.3 803.4,850.3 809.5,850.3 814.5,854.4 818.6,860.4 823.6,864.5 830.7,866.5 840.8,866.5 850.9,866.5 859.0,867.5 868.0,870.0" fill="none" stroke="#36ace8" stroke-width="7.2" stroke-linecap="round" stroke-linejoin="round" stroke-dasharray="0.01 4.0"/><g fill="#36a0e8"><circle cx="776.1" cy="845.3" r="3.6"/></g><g fill="#3464ee"><circle cx="780.2" cy="831.1" r="3.5"/><circle cx="791.3" cy="829.1" r="3.5"/><circle cx="802.4" cy="824.0" r="3.5"/><circle cx="786.0" cy="830.0" r="3.5"/><circle cx="797.0" cy="826.0" r="3.5"/></g><g fill="#40e080"><circle cx="823.6" cy="849.3" r="3.8"/><circle cx="829.7" cy="861.5" r="3.8"/></g><polyline points="778.2,268.0 775.1,277.2 778.6,285.1 776.0,291.2 779.5,298.2 776.8,300.9 779.5,305.3 776.0,313.2" fill="none" stroke="#1e1478" stroke-width="7.5" stroke-linecap="round" stroke-linejoin="round" stroke-dasharray="0.01 4.1"/><polyline points="779.5,326.3 782.1,333.3 783.0,340.0 782.9,363.6" fill="none" stroke="#1e1478" stroke-width="8.0" stroke-linecap="round" stroke-linejoin="round" stroke-dasharray="0.01 4.4"/><g fill="#200a38"><circle cx="778.2" cy="268.0" r="3.8"/></g><g fill="#1e1478"><circle cx="780.2" cy="373.3" r="3.5"/><circle cx="779.7" cy="391.3" r="3.5"/><circle cx="777.5" cy="403.6" r="3.5"/><circle cx="782.2" cy="430.9" r="3.5"/><circle cx="783.7" cy="436.7" r="3.5"/><circle cx="782.9" cy="448.4" r="3.5"/><circle cx="781.5" cy="463.8" r="3.5"/><circle cx="780.7" cy="440.9" r="3.5"/><circle cx="782.5" cy="448.8" r="3.5"/><circle cx="779.8" cy="464.6" r="3.5"/><circle cx="769.3" cy="500.5" r="3.5"/></g><polyline points="464.6,585.9 472.7,583.2 479.6,579.1 485.0,575.0 487.7,580.5 486.4,588.6 485.0,595.5 480.9,599.6 479.6,606.4" fill="none" stroke="#26194e" stroke-width="7.0" stroke-linecap="round" stroke-linejoin="round" stroke-dasharray="0.01 3.9"/><polyline points="478.2,569.5 485.0,575.0" fill="none" stroke="#26194e" stroke-width="7.0" stroke-linecap="round" stroke-linejoin="round" stroke-dasharray="0.01 3.9"/><polyline points="480.9,615.9 486.4,614.6 493.2,615.9" fill="none" stroke="#26194e" stroke-width="7.0" stroke-linecap="round" stroke-linejoin="round" stroke-dasharray="0.01 3.9"/><polyline points="497.3,585.2 504.1,591.4" fill="none" stroke="#26194e" stroke-width="7.0" stroke-linecap="round" stroke-linejoin="round" stroke-dasharray="0.01 3.9"/><polyline points="509.6,577.7 516.4,572.3" fill="none" stroke="#26194e" stroke-width="7.0" stroke-linecap="round" stroke-linejoin="round" stroke-dasharray="0.01 3.9"/><polyline points="510.9,596.8 516.4,602.3 521.9,609.1 527.3,617.3" fill="none" stroke="#26194e" stroke-width="7.0" stroke-linecap="round" stroke-linejoin="round" stroke-dasharray="0.01 3.9"/><polyline points="521.9,562.7 525.9,570.9 528.7,579.1 532.8,585.9 541.0,587.3 547.8,592.7 556.0,594.1" fill="none" stroke="#26194e" stroke-width="7.0" stroke-linecap="round" stroke-linejoin="round" stroke-dasharray="0.01 3.9"/><polyline points="524.6,590.0 535.5,588.6" fill="none" stroke="#26194e" stroke-width="7.0" stroke-linecap="round" stroke-linejoin="round" stroke-dasharray="0.01 3.9"/><polyline points="543.7,565.5 545.0,573.6" fill="none" stroke="#26194e" stroke-width="7.0" stroke-linecap="round" stroke-linejoin="round" stroke-dasharray="0.01 3.9"/><polyline points="558.7,565.5 562.8,572.3 564.1,576.4" fill="none" stroke="#26194e" stroke-width="7.0" stroke-linecap="round" stroke-linejoin="round" stroke-dasharray="0.01 3.9"/><polyline points="553.2,581.8 560.1,585.2" fill="none" stroke="#26194e" stroke-width="7.0" stroke-linecap="round" stroke-linejoin="round" stroke-dasharray="0.01 3.9"/><polyline points="538.2,608.4 543.7,614.6" fill="none" stroke="#26194e" stroke-width="7.0" stroke-linecap="round" stroke-linejoin="round" stroke-dasharray="0.01 3.9"/><polyline points="550.5,605.0 557.3,603.7 562.8,600.9 571.0,606.4 576.4,611.8" fill="none" stroke="#26194e" stroke-width="7.0" stroke-linecap="round" stroke-linejoin="round" stroke-dasharray="0.01 3.9"/><polyline points="581.9,617.3 590.1,618.7 595.5,621.4" fill="none" stroke="#26194e" stroke-width="7.0" stroke-linecap="round" stroke-linejoin="round" stroke-dasharray="0.01 3.9"/><polyline points="588.7,628.2 595.5,633.7 599.6,636.4" fill="none" stroke="#26194e" stroke-width="7.0" stroke-linecap="round" stroke-linejoin="round" stroke-dasharray="0.01 3.9"/><polyline points="455.0,667.8 460.5,665.0 465.9,666.4 467.3,674.6 467.3,685.5" fill="none" stroke="#26194e" stroke-width="7.0" stroke-linecap="round" stroke-linejoin="round" stroke-dasharray="0.01 3.9"/><polyline points="535.5,682.8 541.0,691.0" fill="none" stroke="#26194e" stroke-width="7.0" stroke-linecap="round" stroke-linejoin="round" stroke-dasharray="0.01 3.9"/><polyline points="442.7,688.2 446.8,695.1" fill="none" stroke="#26194e" stroke-width="7.0" stroke-linecap="round" stroke-linejoin="round" stroke-dasharray="0.01 3.9"/><polyline points="570.8,587.0 575.8,598.8" fill="none" stroke="#26194e" stroke-width="7.0" stroke-linecap="round" stroke-linejoin="round" stroke-dasharray="0.01 3.9"/><polyline points="510.1,576.8 516.8,572.6" fill="none" stroke="#26194e" stroke-width="7.0" stroke-linecap="round" stroke-linejoin="round" stroke-dasharray="0.01 3.9"/><polyline points="627.4,641.4 636.8,636.7 647.7,632.0 655.5,635.2" fill="none" stroke="#26194e" stroke-width="7.0" stroke-linecap="round" stroke-linejoin="round" stroke-dasharray="0.01 3.9"/><polyline points="590.0,630.5 599.4,635.2 610.3,639.8 621.2,644.5 630.6,652.3 641.5,658.6" fill="none" stroke="#26194e" stroke-width="7.0" stroke-linecap="round" stroke-linejoin="round" stroke-dasharray="0.01 3.9"/><polyline points="636.8,652.3 644.6,655.4 647.7,661.7" fill="none" stroke="#26194e" stroke-width="7.0" stroke-linecap="round" stroke-linejoin="round" stroke-dasharray="0.01 3.9"/><polyline points="664.9,672.6 672.7,675.7 680.5,677.3" fill="none" stroke="#26194e" stroke-width="7.0" stroke-linecap="round" stroke-linejoin="round" stroke-dasharray="0.01 3.9"/><polyline points="677.4,613.3 685.2,602.4 689.8,594.6" fill="none" stroke="#26194e" stroke-width="7.0" stroke-linecap="round" stroke-linejoin="round" stroke-dasharray="0.01 3.9"/><polyline points="730.4,565.0 738.2,557.2 746.0,549.4 752.2,541.6" fill="none" stroke="#26194e" stroke-width="7.0" stroke-linecap="round" stroke-linejoin="round" stroke-dasharray="0.01 3.9"/><g fill="#26194e"><circle cx="469.3" cy="570.9" r="3.5"/><circle cx="482.3" cy="624.1" r="3.5"/><circle cx="495.9" cy="629.6" r="3.5"/><circle cx="571.0" cy="587.3" r="3.5"/><circle cx="576.4" cy="598.9" r="3.5"/><circle cx="494.6" cy="647.3" r="3.5"/><circle cx="511.6" cy="651.4" r="3.5"/><circle cx="505.5" cy="667.1" r="3.5"/><circle cx="519.1" cy="665.7" r="3.5"/><circle cx="487.1" cy="676.6" r="3.5"/><circle cx="450.9" cy="676.6" r="3.5"/><circle cx="504.1" cy="689.6" r="3.5"/><circle cx="521.9" cy="697.8" r="3.5"/><circle cx="547.8" cy="697.8" r="3.5"/><circle cx="564.1" cy="696.4" r="3.5"/><circle cx="593.1" cy="619.6" r="3.5"/><circle cx="689.8" cy="628.9" r="3.5"/><circle cx="503.4" cy="588.6" r="3.5"/></g><g fill="#2a2262"><circle cx="510.0" cy="620.0" r="3.4"/><circle cx="516.0" cy="630.0" r="3.4"/><circle cx="524.0" cy="637.0" r="3.4"/><circle cx="533.0" cy="640.0" r="3.4"/><circle cx="512.0" cy="628.0" r="3.4"/></g><polygon points="508.2,613.2 505.5,620.0 506.8,628.2 510.9,636.4 516.4,639.1 524.6,641.9 534.1,641.9 541.0,639.1 538.0,634.0 528.0,633.0 518.0,628.0 514.0,618.0" fill="#3a3590"/><polyline points="655.5,635.2 661.8,643.0 668.0,652.3 674.2,661.7 680.5,671.0 683.6,680.4" fill="none" stroke="#3a3c96" stroke-width="7.0" stroke-linecap="round" stroke-linejoin="round" stroke-dasharray="0.01 3.9"/><polyline points="741.3,555.6 746.0,586.8" fill="none" stroke="#3f68e0" stroke-width="7.0" stroke-linecap="round" stroke-linejoin="round" stroke-dasharray="0.01 3.9"/><polyline points="674.2,602.4 683.6,588.4 689.8,591.5" fill="none" stroke="#3f68e0" stroke-width="7.0" stroke-linecap="round" stroke-linejoin="round" stroke-dasharray="0.01 3.9"/><polyline points="711.7,568.1 714.0,580.0 717.9,594.6" fill="none" stroke="#2c2a80" stroke-width="7.0" stroke-linecap="round" stroke-linejoin="round" stroke-dasharray="0.01 3.9"/><polyline points="382.9,599.5 383.9,615.1" fill="none" stroke="#24184a" stroke-width="7.0" stroke-linecap="round" stroke-linejoin="round" stroke-dasharray="0.01 3.9"/><polyline points="385.9,626.8 391.7,636.6 399.5,644.4 405.4,652.2 406.3,665.8" fill="none" stroke="#24184a" stroke-width="7.0" stroke-linecap="round" stroke-linejoin="round" stroke-dasharray="0.01 3.9"/><polyline points="413.2,611.2 416.1,619.0 417.1,630.7 419.0,640.5 421.0,650.2 424.9,658.0 428.8,665.8 426.8,677.5 428.8,689.2 436.6,693.1 444.4,697.0 450.2,700.9" fill="none" stroke="#24184a" stroke-width="7.0" stroke-linecap="round" stroke-linejoin="round" stroke-dasharray="0.01 3.9"/><polyline points="426.8,646.3 430.7,652.2" fill="none" stroke="#24184a" stroke-width="7.0" stroke-linecap="round" stroke-linejoin="round" stroke-dasharray="0.01 3.9"/><polyline points="409.3,693.1 407.3,702.9 411.2,712.6" fill="none" stroke="#24184a" stroke-width="7.0" stroke-linecap="round" stroke-linejoin="round" stroke-dasharray="0.01 3.9"/><polyline points="426.8,704.8 430.7,716.5 436.6,728.2 442.4,736.0 448.3,745.8 458.0,747.7" fill="none" stroke="#24184a" stroke-width="7.0" stroke-linecap="round" stroke-linejoin="round" stroke-dasharray="0.01 3.9"/><polyline points="456.0,667.8 463.9,665.8 467.8,677.5 466.8,686.3" fill="none" stroke="#24184a" stroke-width="7.0" stroke-linecap="round" stroke-linejoin="round" stroke-dasharray="0.01 3.9"/><polyline points="467.8,706.8 475.6,701.9" fill="none" stroke="#24184a" stroke-width="7.0" stroke-linecap="round" stroke-linejoin="round" stroke-dasharray="0.01 3.9"/><polyline points="473.6,724.3 481.4,728.2 479.5,739.9 481.4,747.7 489.2,749.7" fill="none" stroke="#24184a" stroke-width="7.0" stroke-linecap="round" stroke-linejoin="round" stroke-dasharray="0.01 3.9"/><polyline points="399.5,730.2 403.4,736.0" fill="none" stroke="#24184a" stroke-width="7.0" stroke-linecap="round" stroke-linejoin="round" stroke-dasharray="0.01 3.9"/><polyline points="380.0,749.7 383.9,757.5 389.8,759.4" fill="none" stroke="#24184a" stroke-width="7.0" stroke-linecap="round" stroke-linejoin="round" stroke-dasharray="0.01 3.9"/><polyline points="500.9,730.2 506.8,739.9 508.7,747.7" fill="none" stroke="#24184a" stroke-width="7.0" stroke-linecap="round" stroke-linejoin="round" stroke-dasharray="0.01 3.9"/><polyline points="514.6,725.3 522.4,732.1 532.1,734.1 541.9,736.0 549.7,738.0 557.5,739.9" fill="none" stroke="#24184a" stroke-width="7.0" stroke-linecap="round" stroke-linejoin="round" stroke-dasharray="0.01 3.9"/><polyline points="536.0,683.4 539.9,691.2 547.7,697.0 551.6,702.9" fill="none" stroke="#24184a" stroke-width="7.0" stroke-linecap="round" stroke-linejoin="round" stroke-dasharray="0.01 3.9"/><polyline points="465.8,585.9 471.7,583.9 477.5,582.0 485.3,587.8 485.3,597.6" fill="none" stroke="#24184a" stroke-width="7.0" stroke-linecap="round" stroke-linejoin="round" stroke-dasharray="0.01 3.9"/><polyline points="477.5,599.5 481.4,605.4 483.4,619.0 489.2,615.1 495.1,617.0" fill="none" stroke="#24184a" stroke-width="7.0" stroke-linecap="round" stroke-linejoin="round" stroke-dasharray="0.01 3.9"/><polyline points="497.0,585.9 504.8,591.7 512.6,599.5 520.4,609.3 528.2,619.0" fill="none" stroke="#24184a" stroke-width="7.0" stroke-linecap="round" stroke-linejoin="round" stroke-dasharray="0.01 3.9"/><polyline points="495.1,628.8 497.0,632.7" fill="none" stroke="#24184a" stroke-width="7.0" stroke-linecap="round" stroke-linejoin="round" stroke-dasharray="0.01 3.9"/><polyline points="536.0,665.8 539.9,671.7" fill="none" stroke="#24184a" stroke-width="7.0" stroke-linecap="round" stroke-linejoin="round" stroke-dasharray="0.01 3.9"/><g fill="#24184a"><circle cx="380.0" cy="685.3" r="3.5"/><circle cx="382.0" cy="708.7" r="3.5"/><circle cx="412.2" cy="679.5" r="3.5"/><circle cx="450.2" cy="676.5" r="3.5"/><circle cx="486.3" cy="676.5" r="3.5"/><circle cx="504.8" cy="666.8" r="3.5"/><circle cx="519.4" cy="665.8" r="3.5"/><circle cx="495.1" cy="647.3" r="3.5"/><circle cx="511.6" cy="651.2" r="3.5"/><circle cx="504.8" cy="690.2" r="3.5"/><circle cx="520.4" cy="699.0" r="3.5"/><circle cx="525.3" cy="714.6" r="3.5"/><circle cx="532.1" cy="720.4" r="3.5"/><circle cx="504.8" cy="718.5" r="3.5"/><circle cx="458.0" cy="723.3" r="3.5"/><circle cx="448.3" cy="730.2" r="3.5"/><circle cx="391.7" cy="739.9" r="3.5"/><circle cx="417.1" cy="738.0" r="3.5"/><circle cx="422.9" cy="736.0" r="3.5"/><circle cx="399.5" cy="756.5" r="3.5"/><circle cx="397.6" cy="764.3" r="3.5"/><circle cx="411.2" cy="756.5" r="3.5"/><circle cx="422.9" cy="760.4" r="3.5"/><circle cx="444.4" cy="757.5" r="3.5"/><circle cx="518.5" cy="743.8" r="3.5"/><circle cx="528.2" cy="743.8" r="3.5"/><circle cx="539.9" cy="741.9" r="3.5"/><circle cx="545.8" cy="749.7" r="3.5"/><circle cx="555.5" cy="755.5" r="3.5"/><circle cx="399.5" cy="702.9" r="3.5"/><circle cx="488.2" cy="737.0" r="3.5"/></g><polygon points="506.8,619.0 520.4,632.0 536.0,638.0 547.7,650.0 555.5,670.0 548.0,672.0 536.0,656.0 520.0,645.0 508.0,630.0" fill="#3a3898"/><polyline points="365.2,666.2 366.0,676.2 363.5,683.8" fill="none" stroke="#24184a" stroke-width="7.0" stroke-linecap="round" stroke-linejoin="round" stroke-dasharray="0.01 3.9"/><polyline points="364.7,699.0 362.1,711.6" fill="none" stroke="#24184a" stroke-width="7.0" stroke-linecap="round" stroke-linejoin="round" stroke-dasharray="0.01 3.9"/><polyline points="365.9,725.5 369.7,736.9 374.8,744.5 379.8,757.1 387.4,759.6" fill="none" stroke="#24184a" stroke-width="7.0" stroke-linecap="round" stroke-linejoin="round" stroke-dasharray="0.01 3.9"/><g fill="#24184a"><circle cx="374.2" cy="623.9" r="3.5"/><circle cx="378.6" cy="685.6" r="3.5"/></g>%
</g>
<g clip-path="url(#pc)" fill="#111" stroke="#111" stroke-width="0.75"><text x="147.1" y="38.0" font-size="24.0" text-anchor="middle" dominant-baseline="central" transform="rotate(-67.86 147.1 38.0)">26.4</text><text x="241.1" y="168.6" font-size="24.0" text-anchor="middle" dominant-baseline="central" transform="rotate(-70.03 241.1 168.6)">26.6</text><text x="188.5" y="503.9" font-size="24.0" text-anchor="middle" dominant-baseline="central" transform="rotate(-76.61 188.5 503.9)">26.6</text><text x="157.6" y="849.9" font-size="24.0" text-anchor="middle" dominant-baseline="central" transform="rotate(-84.04 157.6 849.9)">26.6</text><text x="361.1" y="168.6" font-size="24.0" text-anchor="middle" dominant-baseline="central" transform="rotate(-69.82 361.1 168.6)">26.8</text><text x="307.7" y="504.8" font-size="24.0" text-anchor="middle" dominant-baseline="central" transform="rotate(-76.38 307.7 504.8)">26.8</text><text x="276.1" y="849.5" font-size="24.0" text-anchor="middle" dominant-baseline="central" transform="rotate(-83.77 276.1 849.5)">26.8</text><text x="478.7" y="181.0" font-size="24.0" text-anchor="middle" dominant-baseline="central" transform="rotate(-69.83 478.7 181.0)">27</text><text x="425.7" y="514.9" font-size="24.0" text-anchor="middle" dominant-baseline="central" transform="rotate(-76.35 425.7 514.9)">27</text><text x="393.8" y="862.5" font-size="24.0" text-anchor="middle" dominant-baseline="central" transform="rotate(-83.79 393.8 862.5)">27</text><text x="600.8" y="170.0" font-size="24.0" text-anchor="middle" dominant-baseline="central" transform="rotate(-69.42 600.8 170.0)">27.2</text><text x="546.2" y="504.8" font-size="24.0" text-anchor="middle" dominant-baseline="central" transform="rotate(-75.91 546.2 504.8)">27.2</text><text x="513.0" y="848.6" font-size="24.0" text-anchor="middle" dominant-baseline="central" transform="rotate(-83.22 513.0 848.6)">27.2</text><text x="720.3" y="172.4" font-size="24.0" text-anchor="middle" dominant-baseline="central" transform="rotate(-69.25 720.3 172.4)">27.4</text><text x="665.4" y="504.8" font-size="24.0" text-anchor="middle" dominant-baseline="central" transform="rotate(-75.67 665.4 504.8)">27.4</text><text x="631.4" y="849.0" font-size="24.0" text-anchor="middle" dominant-baseline="central" transform="rotate(-82.96 631.4 849.0)">27.4</text><text x="840.7" y="170.4" font-size="24.0" text-anchor="middle" dominant-baseline="central" transform="rotate(-69.01 840.7 170.4)">27.6</text><text x="784.7" y="504.4" font-size="24.0" text-anchor="middle" dominant-baseline="central" transform="rotate(-75.42 784.7 504.4)">27.6</text><text x="750.0" y="846.6" font-size="24.0" text-anchor="middle" dominant-baseline="central" transform="rotate(-82.65 750.0 846.6)">27.6</text><text x="960.6" y="170.8" font-size="24.0" text-anchor="middle" dominant-baseline="central" transform="rotate(-68.81 960.6 170.8)">27.8</text><text x="904.0" y="504.4" font-size="24.0" text-anchor="middle" dominant-baseline="central" transform="rotate(-75.19 904.0 504.4)">27.8</text><text x="868.4" y="847.0" font-size="24.0" text-anchor="middle" dominant-baseline="central" transform="rotate(-82.40 868.4 847.0)">27.8</text><text x="1016.8" y="551.9" font-size="24.0" text-anchor="middle" dominant-baseline="central" transform="rotate(-75.91 1016.8 551.9)">28</text><text x="983.6" y="895.0" font-size="24.0" text-anchor="middle" dominant-baseline="central" transform="rotate(-83.19 983.6 895.0)">28</text></g>
<g clip-path="url(#pc)"><polyline points="965.0,10.0 963.4,16.0 961.7,22.0 960.1,28.0 958.4,34.0 956.8,40.0 955.2,46.0 953.6,52.0 952.0,58.0 950.4,64.0 948.8,70.0 947.3,76.0 945.7,82.0 944.2,88.0 942.6,94.0 941.1,100.0 939.6,106.0 938.1,112.0 936.6,118.0 935.1,124.0 933.6,130.0 932.1,136.0 930.7,142.0 929.2,148.0 927.8,154.0 926.3,160.0 924.9,166.0 923.5,172.0 922.1,178.0 920.7,184.0 919.3,190.0 917.9,196.0 916.5,202.0 915.2,208.0 913.8,214.0 912.5,220.0 911.2,226.0 909.8,232.0 908.5,238.0 907.2,244.0 905.9,250.0 904.6,256.0 903.4,262.0 902.1,268.0 900.8,274.0 899.6,280.0 898.4,286.0 897.1,292.0 895.9,298.0 894.7,304.0 893.5,310.0 892.3,316.0 891.1,322.0 890.0,328.0 888.8,334.0 887.7,340.0 886.5,346.0 885.4,352.0 884.3,358.0 883.1,364.0 882.0,370.0 880.9,376.0 879.9,382.0 878.8,388.0 877.7,394.0 876.7,400.0 875.6,406.0 874.6,412.0 873.5,418.0 872.5,424.0 871.5,430.0 870.5,436.0 869.5,442.0 868.5,448.0 867.6,454.0 866.6,460.0 865.7,466.0 864.7,472.0 863.8,478.0 862.8,484.0 861.9,490.0 861.0,496.0 860.1,502.0 859.2,508.0 858.4,514.0 857.5,520.0 856.6,526.0 855.8,532.0 854.9,538.0 854.1,544.0 853.3,550.0 852.5,556.0 851.7,562.0 850.9,568.0 850.1,574.0 849.3,580.0 848.6,586.0 847.8,592.0 847.1,598.0 846.3,604.0 845.6,610.0 844.9,616.0 844.2,622.0 843.5,628.0 842.8,634.0 842.1,640.0 841.4,646.0 840.8,652.0 840.1,658.0 839.5,664.0 838.8,670.0 838.2,676.0 837.6,682.0 837.0,688.0 836.4,694.0 835.8,700.0 835.3,706.0 834.7,712.0 834.1,718.0 833.6,724.0 833.0,730.0 832.5,736.0 832.0,742.0 831.5,748.0 831.0,754.0 830.5,760.0 830.0,766.0 829.5,772.0 828.8,782.3" stroke="#000" stroke-width="4" fill="none"/><polyline points="1029.9,60.0 1025.0,80.0 1020.2,100.0 1015.3,120.0 1010.5,140.0 1005.6,160.0 1000.8,180.0 996.0,200.0 991.2,220.0 986.5,240.0 981.7,260.0 977.0,280.0 972.3,300.0 967.6,320.0 962.9,340.0 958.2,360.0 953.6,380.0 948.9,400.0 944.3,420.0 939.7,440.0 935.1,460.0 930.5,480.0 925.9,500.0 921.4,520.0 916.9,540.0 912.4,560.0 907.8,580.0 903.4,600.0 898.9,620.0 894.4,640.0 890.0,660.0 885.6,680.0 881.2,700.0 876.8,720.0 872.4,740.0 868.0,760.0 864.2,777.7" stroke="#000" stroke-width="4" fill="none"/></g>
<g fill="none" stroke="#ff0000" stroke-width="4">
<rect x="179.7" y="327.2" width="579.9" height="445.8"/>
<rect x="928.3" y="99.6" width="47.8" height="82.6"/>
<rect x="841.7" y="815.6" width="72.2" height="9.6"/>
<rect x="952.2" y="817" width="48.3" height="11"/>
<rect x="808.8" y="838.9" width="133.6" height="58.6"/>
</g>
<rect x="665.2" y="800.7" width="15.2" height="8.6" fill="#ff0000"/>
<g fill="#ff0000" font-weight="bold">
<text x="228.2" y="485.4" font-size="33.5" textLength="104" lengthAdjust="spacingAndGlyphs">ASSW</text>
<text x="842.5" y="131.2" font-size="32.5">CDW</text>
<text x="614" y="841.7" font-size="34.5">ASW</text>
<text x="828" y="805.9" font-size="33" textLength="96" lengthAdjust="spacingAndGlyphs">LSSW</text>
<text x="938.3" y="813.9" font-size="34.5">HSSW</text>
<text x="808.5" y="897" font-size="33">ISW</text>
</g>
<path d="M373.5 907.6v-8M373.5 15.8v8M614.5 907.6v-8M614.5 15.8v8M855.5 907.6v-8M855.5 15.8v8M132.2 119.3h8M1024.5 119.3h-8M132.2 223.1h8M1024.5 223.1h-8M132.2 326.9h8M1024.5 326.9h-8M132.2 430.6h8M1024.5 430.6h-8M132.2 534.4h8M1024.5 534.4h-8M132.2 638.1h8M1024.5 638.1h-8M132.2 741.9h8M1024.5 741.9h-8M132.2 845.6h8M1024.5 845.6h-8" stroke="#5a5a5a" stroke-width="2.4" fill="none"/>
<rect x="132.2" y="15.8" width="892.3" height="891.8" fill="none" stroke="#7a7a7a" stroke-width="2"/>
<rect x="957" y="64.5" width="75" height="26" fill="#fff"/>
<polyline points="1031.3,55 1017.3,112" stroke="#000" stroke-width="4" fill="none" clip-path="url(#pc)"/>
<text x="922.8" y="47.9" font-size="28.5" font-weight="bold" fill="#000" textLength="32" lengthAdjust="spacingAndGlyphs">28</text>
<text x="957.5" y="87.9" font-size="28.5" font-weight="bold" fill="#000" textLength="74.5" lengthAdjust="spacingAndGlyphs">28.27</text>
<g font-size="40.5" font-weight="bold" fill="#000">
<text x="119" y="30.8" text-anchor="end">2</text>
<text x="119" y="134.7" text-anchor="end">1.5</text>
<text x="119" y="238.6" text-anchor="end">1</text>
<text x="119" y="342.6" text-anchor="end">0.5</text>
<text x="119" y="446.5" text-anchor="end">0</text>
<text x="119" y="550.4" text-anchor="end">-0.5</text>
<text x="119" y="654.4" text-anchor="end">-1</text>
<text x="119" y="758.3" text-anchor="end">-1.5</text>
<text x="119" y="862.2" text-anchor="end">-2</text>
<text x="132.5" y="961" text-anchor="middle">33</text>
<text x="373.5" y="961" text-anchor="middle">33.5</text>
<text x="614.5" y="961" text-anchor="middle">34</text>
<text x="855.5" y="961" text-anchor="middle">34.5</text>
</g>
<text x="578" y="1016.4" font-size="43" font-weight="bold" text-anchor="middle">Salinity</text>
<text transform="translate(34,462) rotate(-90)" font-size="43" font-weight="bold" text-anchor="middle">Potential Temperature [°C]</text>
<rect x="1056.4" y="16.6" width="37.8" height="891.2" fill="url(#cb)" stroke="#222" stroke-width="1"/>
<path d="M1094.2 818.7h-6M1094.2 729.6h-6M1094.2 640.4h-6M1094.2 551.3h-6M1094.2 462.2h-6M1094.2 373.1h-6M1094.2 284.0h-6M1094.2 194.8h-6M1094.2 105.7h-6" stroke="#333" stroke-width="1.2"/>
<g font-size="35" font-weight="bold" fill="#000">
<text x="1108" y="920.1">0</text>
<text x="1108" y="831.0">100</text>
<text x="1108" y="741.9">200</text>
<text x="1108" y="652.7">300</text>
<text x="1108" y="563.6">400</text>
<text x="1108" y="474.5">500</text>
<text x="1108" y="385.4">600</text>
<text x="1108" y="296.3">700</text>
<text x="1108" y="207.1">800</text>
<text x="1108" y="118.0">900</text>
<text x="1108" y="28.9">1000</text>
</g>
<text x="1002.3" y="946.8" font-size="26" font-weight="bold" textLength="171" lengthAdjust="spacingAndGlyphs">Depth [dbar]</text>
</svg></body></html>
